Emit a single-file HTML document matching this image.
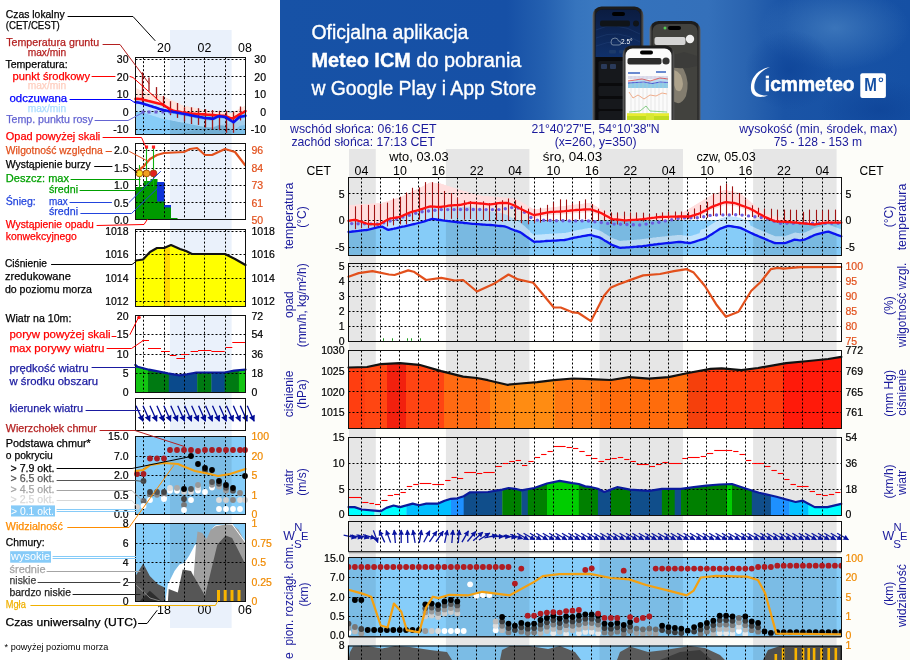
<!DOCTYPE html><html><head><meta charset="utf-8"><style>html,body{margin:0;padding:0;background:#fff;overflow:hidden}svg{display:block;will-change:transform}</style></head><body>
<svg width="910" height="660" viewBox="0 0 910 660" font-family='"Liberation Sans", sans-serif'>
<rect x="0.00" y="0.00" width="910.00" height="660.00" fill="#ffffff" />
<rect x="280.00" y="120.00" width="630.00" height="540.00" fill="#fdfdf9" />
<rect x="349.00" y="149.00" width="26.80" height="511.00" fill="#e6e6e6" />
<rect x="445.90" y="149.00" width="83.50" height="511.00" fill="#e6e6e6" />
<rect x="599.50" y="149.00" width="83.50" height="511.00" fill="#e6e6e6" />
<rect x="753.10" y="149.00" width="83.50" height="511.00" fill="#e6e6e6" />
<rect x="348.50" y="177.50" width="492.80" height="78.00" fill="#ffffff" />
<rect x="349.00" y="177.50" width="26.80" height="78.00" fill="#e6e6e6" />
<rect x="445.90" y="177.50" width="83.50" height="78.00" fill="#e6e6e6" />
<rect x="599.50" y="177.50" width="83.50" height="78.00" fill="#e6e6e6" />
<rect x="753.10" y="177.50" width="83.50" height="78.00" fill="#e6e6e6" />
<rect x="348.50" y="263.50" width="492.80" height="77.80" fill="#ffffff" />
<rect x="349.00" y="263.50" width="26.80" height="77.80" fill="#e6e6e6" />
<rect x="445.90" y="263.50" width="83.50" height="77.80" fill="#e6e6e6" />
<rect x="599.50" y="263.50" width="83.50" height="77.80" fill="#e6e6e6" />
<rect x="753.10" y="263.50" width="83.50" height="77.80" fill="#e6e6e6" />
<rect x="348.50" y="350.50" width="492.80" height="77.80" fill="#ffffff" />
<rect x="349.00" y="350.50" width="26.80" height="77.80" fill="#e6e6e6" />
<rect x="445.90" y="350.50" width="83.50" height="77.80" fill="#e6e6e6" />
<rect x="599.50" y="350.50" width="83.50" height="77.80" fill="#e6e6e6" />
<rect x="753.10" y="350.50" width="83.50" height="77.80" fill="#e6e6e6" />
<rect x="348.50" y="437.50" width="492.80" height="77.70" fill="#ffffff" />
<rect x="349.00" y="437.50" width="26.80" height="77.70" fill="#e6e6e6" />
<rect x="445.90" y="437.50" width="83.50" height="77.70" fill="#e6e6e6" />
<rect x="599.50" y="437.50" width="83.50" height="77.70" fill="#e6e6e6" />
<rect x="753.10" y="437.50" width="83.50" height="77.70" fill="#e6e6e6" />
<rect x="348.50" y="521.50" width="492.80" height="30.00" fill="#ffffff" />
<rect x="349.00" y="521.50" width="26.80" height="30.00" fill="#e6e6e6" />
<rect x="445.90" y="521.50" width="83.50" height="30.00" fill="#e6e6e6" />
<rect x="599.50" y="521.50" width="83.50" height="30.00" fill="#e6e6e6" />
<rect x="753.10" y="521.50" width="83.50" height="30.00" fill="#e6e6e6" />
<clipPath id="cpT"><rect x="348.5" y="177.5" width="492.79999999999995" height="78.0"/></clipPath>
<g clip-path="url(#cpT)">
<polygon points="348.5,205.3 349.5,205.2 350.5,205.2 351.5,205.1 352.5,205.0 353.5,205.0 354.5,204.9 355.5,204.8 356.5,204.8 357.5,204.7 358.5,204.6 359.5,204.5 360.5,204.5 361.5,204.4 362.5,204.3 363.5,204.3 364.5,204.2 365.5,204.1 366.5,204.1 367.5,204.0 368.5,203.9 369.5,203.9 370.5,203.8 371.5,203.7 372.5,203.7 373.5,203.6 374.5,203.5 375.5,203.4 376.5,203.4 377.5,203.3 378.5,203.2 379.5,203.2 380.5,203.1 381.5,203.0 382.5,202.8 383.5,202.5 384.5,202.2 385.5,201.9 386.5,201.6 387.5,201.3 388.5,201.0 389.5,200.7 390.5,200.4 391.5,200.0 392.5,199.7 393.5,199.4 394.5,199.1 395.5,198.8 396.5,198.5 397.5,198.2 398.5,197.9 399.5,197.6 400.5,197.2 401.5,196.7 402.5,196.2 403.5,195.8 404.5,195.3 405.5,194.8 406.5,194.3 407.5,193.9 408.5,193.4 409.5,192.9 410.5,192.5 411.5,192.0 412.5,191.5 413.5,191.1 414.5,190.6 415.5,190.1 416.5,189.6 417.5,189.2 418.5,188.7 419.5,188.2 420.5,187.7 421.5,187.2 422.5,186.6 423.5,186.1 424.5,185.5 425.5,185.0 426.5,184.4 427.5,183.9 428.5,183.3 429.5,182.8 430.5,182.5 431.5,182.6 432.5,182.7 433.5,182.8 434.5,182.9 435.5,183.0 436.5,183.1 437.5,183.2 438.5,183.3 439.5,183.4 440.5,183.6 441.5,183.9 442.5,184.2 443.5,184.6 444.5,184.9 445.5,185.2 446.5,185.5 447.5,185.9 448.5,186.2 449.5,186.5 450.5,186.9 451.5,187.2 452.5,187.5 453.5,187.9 454.5,188.2 455.5,188.5 456.5,188.8 457.5,189.2 458.5,189.5 459.5,189.8 460.5,190.1 461.5,190.4 462.5,190.7 463.5,191.0 464.5,191.3 465.5,191.5 466.5,191.8 467.5,192.1 468.5,192.4 469.5,192.7 470.5,192.9 471.5,193.2 472.5,193.5 473.5,193.8 474.5,194.1 475.5,194.3 476.5,194.6 477.5,194.9 478.5,195.2 479.5,195.5 480.5,195.6 481.5,195.7 482.5,195.8 483.5,195.9 484.5,196.0 485.5,196.1 486.5,196.2 487.5,196.3 488.5,196.4 489.5,196.5 490.5,196.5 491.5,196.6 492.5,196.7 493.5,196.8 494.5,196.9 495.5,197.0 496.5,197.1 497.5,197.2 498.5,197.3 499.5,197.4 500.5,197.4 501.5,197.5 502.5,197.6 503.5,197.6 504.5,197.7 505.5,197.8 506.5,197.8 507.5,197.9 508.5,198.0 509.5,198.0 510.5,198.1 511.5,198.2 512.5,198.2 513.5,198.3 514.5,198.4 515.5,198.7 516.5,199.3 517.5,199.9 518.5,200.5 519.5,201.1 520.5,201.6 521.5,202.2 522.5,202.8 523.5,203.4 524.5,204.0 525.5,204.6 526.5,205.2 527.5,205.8 528.5,206.4 529.5,206.9 530.5,207.5 531.5,208.1 532.5,208.7 533.5,209.3 534.5,209.5 535.5,209.4 536.5,209.3 537.5,209.2 538.5,209.1 539.5,209.0 540.5,208.8 541.5,208.7 542.5,208.6 543.5,208.5 544.5,208.4 545.5,208.2 546.5,208.1 547.5,208.0 548.5,207.9 549.5,207.8 550.5,207.7 551.5,207.5 552.5,207.4 553.5,207.3 554.5,207.2 555.5,207.1 556.5,206.9 557.5,206.8 558.5,206.7 559.5,206.6 560.5,206.5 561.5,206.4 562.5,206.2 563.5,206.1 564.5,206.0 565.5,205.9 566.5,205.8 567.5,205.7 568.5,205.5 569.5,205.4 570.5,205.3 571.5,205.2 572.5,205.1 573.5,204.9 574.5,204.8 575.5,204.7 576.5,204.6 577.5,204.5 578.5,204.4 579.5,204.2 580.5,204.1 581.5,204.0 582.5,203.9 583.5,203.8 584.5,203.6 585.5,203.5 586.5,203.4 587.5,203.3 588.5,203.2 589.5,203.1 590.5,203.3 591.5,203.8 592.5,204.4 593.5,204.9 594.5,205.5 595.5,206.1 596.5,206.6 597.5,207.2 598.5,207.7 599.5,208.3 600.5,208.8 601.5,209.4 602.5,209.9 603.5,210.5 604.5,211.0 605.5,211.6 606.5,212.1 607.5,212.7 608.5,213.3 609.5,213.8 610.5,214.4 611.5,214.9 612.5,215.2 613.5,215.3 614.5,215.4 615.5,215.4 616.5,215.5 617.5,215.6 618.5,215.6 619.5,215.7 620.5,215.7 621.5,215.8 622.5,215.9 623.5,215.9 624.5,216.0 625.5,216.1 626.5,216.1 627.5,216.2 628.5,216.3 629.5,216.3 630.5,216.4 631.5,216.5 632.5,216.5 633.5,216.6 634.5,216.6 635.5,216.7 636.5,216.8 637.5,216.8 638.5,216.9 639.5,217.0 640.5,217.0 641.5,216.9 642.5,216.8 643.5,216.8 644.5,216.7 645.5,216.6 646.5,216.6 647.5,216.5 648.5,216.4 649.5,216.4 650.5,216.3 651.5,216.2 652.5,216.2 653.5,216.1 654.5,216.0 655.5,216.0 656.5,215.9 657.5,215.8 658.5,215.8 659.5,215.7 660.5,215.6 661.5,215.5 662.5,215.5 663.5,215.4 664.5,215.3 665.5,215.3 666.5,215.2 667.5,215.1 668.5,215.1 669.5,215.0 670.5,214.9 671.5,214.9 672.5,214.8 673.5,214.7 674.5,214.7 675.5,214.6 676.5,214.5 677.5,214.5 678.5,214.4 679.5,214.3 680.5,214.0 681.5,213.4 682.5,212.8 683.5,212.2 684.5,211.6 685.5,211.0 686.5,210.4 687.5,209.8 688.5,209.2 689.5,208.6 690.5,208.0 691.5,207.4 692.5,206.8 693.5,206.2 694.5,205.6 695.5,205.0 696.5,204.3 697.5,203.7 698.5,203.1 699.5,202.5 700.5,201.9 701.5,201.3 702.5,200.7 703.5,200.1 704.5,199.5 705.5,198.9 706.5,198.3 707.5,197.7 708.5,197.1 709.5,196.5 710.5,195.9 711.5,195.3 712.5,194.8 713.5,194.4 714.5,194.0 715.5,193.7 716.5,193.3 717.5,192.9 718.5,192.5 719.5,192.1 720.5,191.7 721.5,191.3 722.5,191.0 723.5,190.6 724.5,190.2 725.5,190.1 726.5,190.3 727.5,190.5 728.5,190.7 729.5,190.9 730.5,191.1 731.5,191.3 732.5,191.5 733.5,191.7 734.5,191.9 735.5,192.1 736.5,192.3 737.5,192.5 738.5,192.7 739.5,192.9 740.5,193.4 741.5,194.3 742.5,195.1 743.5,195.9 744.5,196.8 745.5,197.6 746.5,198.5 747.5,199.3 748.5,200.1 749.5,201.0 750.5,201.8 751.5,202.7 752.5,203.5 753.5,204.3 754.5,205.2 755.5,206.0 756.5,206.9 757.5,207.7 758.5,208.5 759.5,209.4 760.5,210.2 761.5,211.1 762.5,211.9 763.5,212.7 764.5,213.6 765.5,214.1 766.5,214.4 767.5,214.6 768.5,214.8 769.5,215.1 770.5,215.3 771.5,215.6 772.5,215.8 773.5,216.0 774.5,216.3 775.5,216.5 776.5,216.8 777.5,217.0 778.5,217.2 779.5,217.5 780.5,217.7 781.5,218.0 782.5,218.2 783.5,218.4 784.5,218.7 785.5,218.9 786.5,219.2 787.5,219.4 788.5,219.6 789.5,219.9 790.5,220.0 791.5,220.0 792.5,220.0 793.5,220.0 794.5,220.0 795.5,220.0 796.5,220.0 797.5,220.0 798.5,220.0 799.5,220.0 800.5,220.0 801.5,220.0 802.5,220.0 803.5,220.0 804.5,220.0 805.5,220.0 806.5,220.0 807.5,220.0 808.5,220.0 809.5,220.0 810.5,220.0 811.5,220.0 812.5,220.0 813.5,220.0 814.5,220.0 815.5,220.0 816.5,220.0 817.5,220.0 818.5,220.0 819.5,220.0 820.5,220.0 821.5,220.0 822.5,220.0 823.5,220.0 824.5,220.0 825.5,220.0 826.5,220.0 827.5,220.0 828.5,220.0 829.5,220.0 830.5,220.0 831.5,220.0 832.5,220.0 833.5,220.0 834.5,220.0 835.5,220.0 836.5,220.0 837.5,220.0 838.5,220.0 839.5,220.0 840.5,220.0 841.3,220.0 841.3,225.7 840.5,225.7 839.5,225.7 838.5,225.7 837.5,225.7 836.5,225.7 835.5,225.7 834.5,225.7 833.5,225.7 832.5,225.7 831.5,225.7 830.5,225.7 829.5,225.7 828.5,225.7 827.5,225.7 826.5,225.7 825.5,225.7 824.5,225.8 823.5,226.0 822.5,226.1 821.5,226.3 820.5,226.5 819.5,226.7 818.5,226.9 817.5,227.1 816.5,227.2 815.5,227.4 814.5,227.5 813.5,227.4 812.5,227.3 811.5,227.2 810.5,227.1 809.5,227.0 808.5,226.9 807.5,226.8 806.5,226.7 805.5,226.6 804.5,226.5 803.5,226.4 802.5,226.3 801.5,226.2 800.5,226.1 799.5,226.0 798.5,225.9 797.5,225.8 796.5,225.7 795.5,225.6 794.5,225.5 793.5,225.4 792.5,225.3 791.5,225.2 790.5,225.1 789.5,225.1 788.5,225.0 787.5,225.0 786.5,224.9 785.5,224.9 784.5,224.8 783.5,224.8 782.5,224.7 781.5,224.6 780.5,224.6 779.5,224.5 778.5,224.5 777.5,224.4 776.5,224.4 775.5,224.3 774.5,224.1 773.5,223.7 772.5,223.2 771.5,222.8 770.5,222.4 769.5,221.9 768.5,221.5 767.5,221.1 766.5,220.6 765.5,220.2 764.5,219.7 763.5,219.2 762.5,218.6 761.5,218.0 760.5,217.5 759.5,216.9 758.5,216.4 757.5,215.8 756.5,215.2 755.5,214.7 754.5,214.1 753.5,213.6 752.5,213.0 751.5,212.4 750.5,211.9 749.5,211.4 748.5,211.0 747.5,210.7 746.5,210.3 745.5,209.9 744.5,209.5 743.5,209.2 742.5,208.8 741.5,208.4 740.5,208.1 739.5,207.7 738.5,207.3 737.5,206.9 736.5,206.6 735.5,206.2 734.5,206.0 733.5,205.9 732.5,205.8 731.5,205.7 730.5,205.6 729.5,205.5 728.5,205.4 727.5,205.3 726.5,205.2 725.5,205.1 724.5,205.3 723.5,205.6 722.5,206.0 721.5,206.4 720.5,206.7 719.5,207.1 718.5,207.4 717.5,207.8 716.5,208.2 715.5,208.5 714.5,208.9 713.5,209.3 712.5,209.6 711.5,210.1 710.5,210.6 709.5,211.2 708.5,211.7 707.5,212.2 706.5,212.8 705.5,213.3 704.5,213.9 703.5,214.4 702.5,214.9 701.5,215.5 700.5,216.0 699.5,216.5 698.5,216.8 697.5,217.1 696.5,217.4 695.5,217.7 694.5,218.1 693.5,218.4 692.5,218.7 691.5,219.0 690.5,219.3 689.5,219.5 688.5,219.5 687.5,219.5 686.5,219.5 685.5,219.5 684.5,219.5 683.5,219.5 682.5,219.5 681.5,219.5 680.5,219.5 679.5,219.5 678.5,219.5 677.5,219.6 676.5,219.6 675.5,219.6 674.5,219.6 673.5,219.7 672.5,219.7 671.5,219.7 670.5,219.7 669.5,219.8 668.5,219.8 667.5,219.8 666.5,219.8 665.5,219.9 664.5,219.9 663.5,219.9 662.5,219.9 661.5,220.0 660.5,220.0 659.5,220.1 658.5,220.2 657.5,220.3 656.5,220.4 655.5,220.6 654.5,220.7 653.5,220.8 652.5,220.9 651.5,221.1 650.5,221.2 649.5,221.3 648.5,221.4 647.5,221.6 646.5,221.7 645.5,221.8 644.5,221.9 643.5,222.1 642.5,222.2 641.5,222.3 640.5,222.4 639.5,222.5 638.5,222.6 637.5,222.7 636.5,222.7 635.5,222.8 634.5,222.8 633.5,222.9 632.5,222.9 631.5,223.0 630.5,223.1 629.5,223.1 628.5,223.2 627.5,223.2 626.5,223.3 625.5,223.4 624.5,223.3 623.5,223.2 622.5,223.1 621.5,223.0 620.5,222.9 619.5,222.8 618.5,222.7 617.5,222.6 616.5,222.5 615.5,222.4 614.5,222.3 613.5,222.2 612.5,222.1 611.5,221.7 610.5,221.2 609.5,220.6 608.5,220.1 607.5,219.5 606.5,219.0 605.5,218.4 604.5,217.9 603.5,217.3 602.5,216.8 601.5,216.2 600.5,215.7 599.5,215.2 598.5,214.9 597.5,214.6 596.5,214.3 595.5,214.0 594.5,213.6 593.5,213.3 592.5,213.0 591.5,212.7 590.5,212.4 589.5,212.2 588.5,212.3 587.5,212.3 586.5,212.4 585.5,212.5 584.5,212.5 583.5,212.6 582.5,212.6 581.5,212.7 580.5,212.8 579.5,212.8 578.5,212.9 577.5,212.9 576.5,213.0 575.5,213.1 574.5,213.2 573.5,213.2 572.5,213.3 571.5,213.4 570.5,213.5 569.5,213.7 568.5,213.8 567.5,213.8 566.5,213.9 565.5,214.0 564.5,214.2 563.5,214.2 562.5,214.3 561.5,214.4 560.5,214.5 559.5,214.6 558.5,214.7 557.5,214.7 556.5,214.7 555.5,214.8 554.5,214.8 553.5,214.9 552.5,214.9 551.5,214.9 550.5,215.0 549.5,215.1 548.5,215.3 547.5,215.5 546.5,215.7 545.5,215.9 544.5,216.1 543.5,216.3 542.5,216.5 541.5,216.7 540.5,216.9 539.5,217.1 538.5,217.3 537.5,217.5 536.5,217.7 535.5,217.9 534.5,218.1 533.5,218.0 532.5,217.5 531.5,217.0 530.5,216.5 529.5,216.1 528.5,215.6 527.5,215.1 526.5,214.7 525.5,214.2 524.5,213.7 523.5,213.2 522.5,212.8 521.5,212.3 520.5,211.8 519.5,211.3 518.5,210.8 517.5,210.2 516.5,209.6 515.5,209.1 514.5,208.6 513.5,208.2 512.5,207.8 511.5,207.4 510.5,207.0 509.5,206.6 508.5,206.2 507.5,206.0 506.5,206.0 505.5,206.0 504.5,206.0 503.5,206.0 502.5,206.0 501.5,206.0 500.5,206.0 499.5,206.1 498.5,206.2 497.5,206.4 496.5,206.5 495.5,206.7 494.5,206.8 493.5,207.0 492.5,207.1 491.5,207.3 490.5,207.4 489.5,207.4 488.5,207.3 487.5,207.2 486.5,207.1 485.5,207.0 484.5,206.9 483.5,206.8 482.5,206.7 481.5,206.6 480.5,206.5 479.5,206.4 478.5,206.3 477.5,206.2 476.5,206.2 475.5,206.1 474.5,206.0 473.5,205.9 472.5,205.9 471.5,205.8 470.5,205.7 469.5,205.8 468.5,206.0 467.5,206.2 466.5,206.5 465.5,206.7 464.5,206.9 463.5,207.1 462.5,207.3 461.5,207.6 460.5,207.8 459.5,207.9 458.5,208.0 457.5,208.1 456.5,208.1 455.5,208.2 454.5,208.2 453.5,208.3 452.5,208.3 451.5,208.4 450.5,208.5 449.5,208.6 448.5,208.7 447.5,208.9 446.5,209.1 445.5,209.2 444.5,209.4 443.5,209.5 442.5,209.7 441.5,209.9 440.5,210.0 439.5,210.1 438.5,210.0 437.5,209.9 436.5,209.9 435.5,209.8 434.5,209.7 433.5,209.6 432.5,209.6 431.5,209.5 430.5,209.4 429.5,209.6 428.5,209.9 427.5,210.2 426.5,210.5 425.5,210.8 424.5,211.2 423.5,211.5 422.5,211.8 421.5,212.1 420.5,212.4 419.5,212.7 418.5,213.0 417.5,213.3 416.5,213.6 415.5,213.9 414.5,214.1 413.5,214.4 412.5,214.7 411.5,215.0 410.5,215.3 409.5,215.6 408.5,216.1 407.5,216.6 406.5,217.0 405.5,217.5 404.5,217.9 403.5,218.4 402.5,218.8 401.5,219.3 400.5,219.8 399.5,220.1 398.5,220.2 397.5,220.3 396.5,220.5 395.5,220.6 394.5,220.8 393.5,220.9 392.5,221.1 391.5,221.2 390.5,221.3 389.5,221.7 388.5,222.2 387.5,222.8 386.5,223.3 385.5,223.9 384.5,224.4 383.5,225.0 382.5,225.6 381.5,226.1 380.5,226.7 379.5,227.2 378.5,227.5 377.5,227.4 376.5,227.4 375.5,227.3 374.5,227.3 373.5,227.2 372.5,227.2 371.5,227.2 370.5,227.1 369.5,227.1 368.5,227.0 367.5,226.8 366.5,226.5 365.5,226.2 364.5,225.8 363.5,225.5 362.5,225.2 361.5,224.9 360.5,224.5 359.5,224.2 358.5,223.9 357.5,223.5 356.5,223.2 355.5,222.9 354.5,222.9 353.5,223.1 352.5,223.2 351.5,223.4 350.5,223.5 349.5,223.7 348.5,223.8" fill="#ffdede" />
<rect x="348.50" y="220.40" width="492.80" height="35.10" fill="#86ccf8" />
<rect x="349.00" y="220.40" width="26.80" height="35.10" fill="#000" opacity="0.09"/>
<rect x="445.90" y="220.40" width="83.50" height="35.10" fill="#000" opacity="0.09"/>
<rect x="599.50" y="220.40" width="83.50" height="35.10" fill="#000" opacity="0.09"/>
<rect x="753.10" y="220.40" width="83.50" height="35.10" fill="#000" opacity="0.09"/>
<polygon points="348.5,221.3 349.5,221.2 350.5,221.0 351.5,220.9 352.5,220.7 353.5,220.6 354.5,220.4 355.5,220.4 356.5,220.7 357.5,221.0 358.5,221.4 359.5,221.7 360.5,222.0 361.5,222.4 362.5,222.7 363.5,223.0 364.5,223.3 365.5,223.7 366.5,224.0 367.5,224.3 368.5,224.5 369.5,224.6 370.5,224.6 371.5,224.7 372.5,224.7 373.5,224.8 374.5,224.8 375.5,224.8 376.5,224.9 377.5,224.9 378.5,225.0 379.5,224.7 380.5,224.2 381.5,223.6 382.5,223.1 383.5,222.5 384.5,221.9 385.5,221.4 386.5,220.8 387.5,220.3 388.5,219.7 389.5,219.2 390.5,218.8 391.5,218.7 392.5,218.6 393.5,218.4 394.5,218.3 395.5,218.1 396.5,218.0 397.5,217.8 398.5,217.7 399.5,217.6 400.5,217.3 401.5,216.8 402.5,216.3 403.5,215.9 404.5,215.4 405.5,215.0 406.5,214.5 407.5,214.1 408.5,213.6 409.5,213.1 410.5,212.8 411.5,212.5 412.5,212.2 413.5,211.9 414.5,211.6 415.5,211.4 416.5,211.1 417.5,210.8 418.5,210.5 419.5,210.2 420.5,209.9 421.5,209.6 422.5,209.3 423.5,209.0 424.5,208.7 425.5,208.3 426.5,208.0 427.5,207.7 428.5,207.4 429.5,207.1 430.5,206.9 431.5,207.0 432.5,207.1 433.5,207.1 434.5,207.2 435.5,207.3 436.5,207.4 437.5,207.4 438.5,207.5 439.5,207.6 440.5,207.5 441.5,207.4 442.5,207.2 443.5,207.0 444.5,206.9 445.5,206.8 446.5,206.7 447.5,206.6 448.5,206.5 449.5,206.5 450.5,206.4 451.5,206.5 452.5,206.5 453.5,206.6 454.5,206.6 455.5,206.7 456.5,206.8 457.5,206.8 458.5,206.9 459.5,207.0 460.5,207.0 461.5,206.9 462.5,206.9 463.5,206.9 464.5,206.8 465.5,206.8 466.5,206.8 467.5,206.8 468.5,206.8 469.5,206.8 470.5,207.0 471.5,207.2 472.5,207.4 473.5,207.6 474.5,207.8 475.5,208.0 476.5,208.3 477.5,208.5 478.5,208.7 479.5,208.9 480.5,209.1 481.5,209.4 482.5,209.6 483.5,209.8 484.5,210.1 485.5,210.3 486.5,210.5 487.5,210.8 488.5,211.0 489.5,211.2 490.5,211.4 491.5,211.5 492.5,211.7 493.5,211.8 494.5,212.0 495.5,212.1 496.5,212.3 497.5,212.4 498.5,212.6 499.5,212.8 500.5,213.0 501.5,213.2 502.5,213.4 503.5,213.7 504.5,213.9 505.5,214.3 506.5,214.7 507.5,215.2 508.5,215.8 509.5,216.4 510.5,216.9 511.5,217.5 512.5,218.1 513.5,218.7 514.5,219.3 515.5,219.9 516.5,220.4 517.5,221.0 518.5,221.5 519.5,222.0 520.5,222.7 521.5,223.5 522.5,224.4 523.5,225.3 524.5,226.1 525.5,227.0 526.5,227.9 527.5,228.8 528.5,229.7 529.5,230.6 530.5,232.4 531.5,233.1 532.5,233.8 533.5,234.5 534.5,234.9 535.5,234.8 536.5,234.7 537.5,234.7 538.5,234.6 539.5,234.5 540.5,234.5 541.5,234.4 542.5,234.3 543.5,234.2 544.5,234.2 545.5,234.1 546.5,234.0 547.5,234.0 548.5,233.9 549.5,233.8 550.5,233.8 551.5,233.7 552.5,233.7 553.5,233.6 554.5,233.6 555.5,233.5 556.5,233.5 557.5,233.4 558.5,233.3 559.5,233.3 560.5,233.2 561.5,233.2 562.5,233.1 563.5,233.1 564.5,233.0 565.5,232.9 566.5,232.6 567.5,232.4 568.5,232.2 569.5,231.9 570.5,231.7 571.5,231.4 572.5,231.2 573.5,231.0 574.5,230.7 575.5,230.5 576.5,230.3 577.5,230.1 578.5,229.9 579.5,229.8 580.5,229.6 581.5,229.4 582.5,229.2 583.5,229.0 584.5,228.8 585.5,228.6 586.5,228.5 587.5,228.3 588.5,228.1 589.5,227.9 590.5,227.9 591.5,228.2 592.5,228.5 593.5,228.8 594.5,229.1 595.5,229.3 596.5,229.6 597.5,229.9 598.5,230.2 599.5,230.5 600.5,230.9 601.5,231.5 602.5,232.1 603.5,232.8 604.5,233.4 605.5,234.0 606.5,234.6 607.5,235.2 608.5,235.8 609.5,236.5 610.5,237.1 611.5,237.7 612.5,238.2 613.5,238.5 614.5,238.9 615.5,239.3 616.5,239.6 617.5,240.0 618.5,240.4 619.5,240.7 620.5,240.9 621.5,240.8 622.5,240.7 623.5,240.6 624.5,240.6 625.5,240.5 626.5,240.4 627.5,240.3 628.5,240.3 629.5,240.2 630.5,240.1 631.5,240.0 632.5,240.0 633.5,239.9 634.5,239.8 635.5,239.7 636.5,239.7 637.5,239.6 638.5,239.5 639.5,239.4 640.5,239.3 641.5,239.2 642.5,239.1 643.5,238.9 644.5,238.8 645.5,238.7 646.5,238.6 647.5,238.4 648.5,238.3 649.5,238.2 650.5,238.0 651.5,237.9 652.5,237.8 653.5,237.6 654.5,237.5 655.5,237.4 656.5,237.3 657.5,237.1 658.5,237.0 659.5,236.9 660.5,236.8 661.5,236.7 662.5,236.6 663.5,236.5 664.5,236.4 665.5,236.3 666.5,236.2 667.5,236.1 668.5,236.0 669.5,235.9 670.5,235.8 671.5,235.7 672.5,235.6 673.5,235.5 674.5,235.4 675.5,235.3 676.5,235.2 677.5,235.1 678.5,235.0 679.5,234.9 680.5,235.0 681.5,235.1 682.5,235.2 683.5,235.4 684.5,235.5 685.5,235.6 686.5,235.7 687.5,235.9 688.5,236.0 689.5,236.1 690.5,236.0 691.5,235.7 692.5,235.4 693.5,235.1 694.5,234.8 695.5,234.5 696.5,234.2 697.5,233.8 698.5,233.5 699.5,233.2 700.5,229.9 701.5,229.6 702.5,229.3 703.5,229.0 704.5,228.7 705.5,228.2 706.5,227.5 707.5,226.9 708.5,226.2 709.5,225.6 710.5,224.9 711.5,224.3 712.5,223.7 713.5,223.0 714.5,222.4 715.5,221.7 716.5,221.1 717.5,220.4 718.5,219.8 719.5,219.1 720.5,218.6 721.5,218.2 722.5,217.9 723.5,217.5 724.5,217.1 725.5,216.7 726.5,216.4 727.5,216.0 728.5,215.9 729.5,216.0 730.5,216.2 731.5,216.4 732.5,216.5 733.5,216.7 734.5,216.8 735.5,217.0 736.5,217.1 737.5,217.3 738.5,217.5 739.5,217.6 740.5,217.9 741.5,218.4 742.5,218.9 743.5,219.4 744.5,219.8 745.5,220.3 746.5,220.8 747.5,221.2 748.5,221.7 749.5,222.2 750.5,225.7 751.5,226.1 752.5,226.6 753.5,227.1 754.5,227.6 755.5,228.0 756.5,228.4 757.5,228.9 758.5,229.3 759.5,229.7 760.5,230.1 761.5,230.5 762.5,230.9 763.5,231.4 764.5,231.8 765.5,232.2 766.5,232.6 767.5,233.1 768.5,233.5 769.5,233.9 770.5,234.3 771.5,234.7 772.5,235.1 773.5,235.6 774.5,236.0 775.5,236.2 776.5,236.2 777.5,236.2 778.5,236.2 779.5,236.2 780.5,236.2 781.5,236.2 782.5,236.2 783.5,236.2 784.5,236.2 785.5,236.0 786.5,235.6 787.5,235.3 788.5,234.9 789.5,234.5 790.5,234.2 791.5,233.8 792.5,233.4 793.5,233.1 794.5,232.7 795.5,232.6 796.5,232.8 797.5,232.9 798.5,233.1 799.5,233.3 800.5,233.3 801.5,233.1 802.5,232.9 803.5,232.8 804.5,232.6 805.5,232.3 806.5,231.8 807.5,231.3 808.5,230.9 809.5,230.4 810.5,229.9 811.5,229.4 812.5,229.0 813.5,228.5 814.5,228.0 815.5,227.7 816.5,227.4 817.5,227.2 818.5,226.9 819.5,226.7 820.5,226.4 821.5,226.2 822.5,225.9 823.5,225.6 824.5,225.4 825.5,225.1 826.5,224.9 827.5,224.6 828.5,224.7 829.5,225.0 830.5,225.4 831.5,225.8 832.5,226.1 833.5,226.5 834.5,226.8 835.5,227.2 836.5,227.6 837.5,227.9 838.5,228.3 839.5,228.7 840.5,229.0 841.3,229.3 841.3,236.3 840.5,236.0 839.5,235.7 838.5,235.3 837.5,234.9 836.5,234.6 835.5,234.2 834.5,233.8 833.5,233.5 832.5,233.1 831.5,232.8 830.5,232.4 829.5,232.0 828.5,231.7 827.5,231.6 826.5,231.9 825.5,232.1 824.5,232.4 823.5,232.6 822.5,232.9 821.5,233.2 820.5,233.4 819.5,233.7 818.5,233.9 817.5,234.2 816.5,234.4 815.5,234.7 814.5,235.0 813.5,235.5 812.5,236.0 811.5,236.4 810.5,236.9 809.5,237.4 808.5,237.9 807.5,238.3 806.5,238.8 805.5,239.3 804.5,239.6 803.5,239.8 802.5,239.9 801.5,240.1 800.5,240.3 799.5,240.3 798.5,240.1 797.5,239.9 796.5,239.8 795.5,239.6 794.5,239.7 793.5,240.1 792.5,240.4 791.5,240.8 790.5,241.2 789.5,241.5 788.5,241.9 787.5,242.3 786.5,242.6 785.5,243.0 784.5,243.2 783.5,243.2 782.5,243.2 781.5,243.2 780.5,243.2 779.5,243.2 778.5,243.2 777.5,243.2 776.5,243.2 775.5,243.2 774.5,243.0 773.5,242.6 772.5,242.1 771.5,241.7 770.5,241.3 769.5,240.9 768.5,240.5 767.5,240.1 766.5,239.6 765.5,239.2 764.5,238.8 763.5,238.4 762.5,237.9 761.5,237.5 760.5,237.1 759.5,236.7 758.5,236.3 757.5,235.9 756.5,235.4 755.5,235.0 754.5,234.6 753.5,234.1 752.5,233.6 751.5,233.1 750.5,232.7 749.5,232.2 748.5,231.7 747.5,231.2 746.5,230.8 745.5,230.3 744.5,229.8 743.5,229.4 742.5,228.9 741.5,228.4 740.5,227.9 739.5,227.6 738.5,227.5 737.5,227.3 736.5,227.1 735.5,227.0 734.5,226.8 733.5,226.7 732.5,226.5 731.5,226.4 730.5,226.2 729.5,226.0 728.5,225.9 727.5,226.0 726.5,226.4 725.5,226.7 724.5,227.1 723.5,227.5 722.5,227.9 721.5,228.2 720.5,228.6 719.5,229.1 718.5,229.8 717.5,230.4 716.5,231.1 715.5,231.7 714.5,232.4 713.5,233.0 712.5,233.7 711.5,234.3 710.5,234.9 709.5,235.6 708.5,236.2 707.5,236.9 706.5,237.5 705.5,238.2 704.5,238.7 703.5,239.0 702.5,239.3 701.5,239.6 700.5,239.9 699.5,240.2 698.5,240.5 697.5,240.8 696.5,241.2 695.5,241.5 694.5,241.8 693.5,242.1 692.5,242.4 691.5,242.7 690.5,243.0 689.5,243.1 688.5,243.0 687.5,242.9 686.5,242.7 685.5,242.6 684.5,242.5 683.5,242.4 682.5,242.2 681.5,242.1 680.5,242.0 679.5,241.9 678.5,242.0 677.5,242.1 676.5,242.2 675.5,242.3 674.5,242.4 673.5,242.5 672.5,242.6 671.5,242.7 670.5,242.8 669.5,242.9 668.5,243.0 667.5,243.1 666.5,243.2 665.5,243.3 664.5,243.4 663.5,243.5 662.5,243.6 661.5,243.7 660.5,243.8 659.5,243.9 658.5,244.0 657.5,244.1 656.5,244.3 655.5,244.4 654.5,244.5 653.5,244.6 652.5,244.8 651.5,244.9 650.5,245.0 649.5,245.2 648.5,245.3 647.5,245.4 646.5,245.6 645.5,245.7 644.5,245.8 643.5,245.9 642.5,246.1 641.5,246.2 640.5,246.3 639.5,246.4 638.5,246.5 637.5,246.6 636.5,246.7 635.5,246.7 634.5,246.8 633.5,246.9 632.5,247.0 631.5,247.0 630.5,247.1 629.5,247.2 628.5,247.3 627.5,247.3 626.5,247.4 625.5,247.5 624.5,247.6 623.5,247.6 622.5,247.7 621.5,247.8 620.5,247.9 619.5,247.7 618.5,247.4 617.5,247.0 616.5,246.6 615.5,246.3 614.5,245.9 613.5,245.5 612.5,245.2 611.5,244.7 610.5,244.1 609.5,243.5 608.5,242.8 607.5,242.2 606.5,241.6 605.5,241.0 604.5,240.4 603.5,239.8 602.5,239.1 601.5,238.5 600.5,237.9 599.5,237.5 598.5,237.2 597.5,236.9 596.5,236.6 595.5,236.3 594.5,236.1 593.5,235.8 592.5,235.5 591.5,235.2 590.5,234.9 589.5,234.9 588.5,235.1 587.5,235.3 586.5,235.5 585.5,235.6 584.5,235.8 583.5,236.0 582.5,236.2 581.5,236.4 580.5,236.6 579.5,236.8 578.5,236.9 577.5,237.1 576.5,237.3 575.5,237.5 574.5,237.7 573.5,238.0 572.5,238.2 571.5,238.4 570.5,238.7 569.5,238.9 568.5,239.2 567.5,239.4 566.5,239.6 565.5,239.9 564.5,240.0 563.5,240.1 562.5,240.1 561.5,240.2 560.5,240.2 559.5,240.3 558.5,240.3 557.5,240.4 556.5,240.5 555.5,240.5 554.5,240.6 553.5,240.6 552.5,240.7 551.5,240.7 550.5,240.8 549.5,240.8 548.5,240.9 547.5,241.0 546.5,241.0 545.5,241.1 544.5,241.2 543.5,241.2 542.5,241.3 541.5,241.4 540.5,241.5 539.5,241.5 538.5,241.6 537.5,241.7 536.5,241.7 535.5,241.8 534.5,241.9 533.5,241.5 532.5,240.8 531.5,240.1 530.5,239.4 529.5,238.7 528.5,238.0 527.5,237.3 526.5,236.6 525.5,235.9 524.5,235.2 523.5,234.5 522.5,233.8 521.5,233.1 520.5,232.4 519.5,231.8 518.5,231.6 517.5,231.2 516.5,230.9 515.5,230.7 514.5,230.3 513.5,229.9 512.5,229.5 511.5,229.1 510.5,228.7 509.5,228.2 508.5,227.8 507.5,227.4 506.5,227.0 505.5,226.6 504.5,226.4 503.5,226.3 502.5,226.2 501.5,226.1 500.5,226.0 499.5,225.9 498.5,225.8 497.5,225.7 496.5,225.6 495.5,225.5 494.5,225.4 493.5,225.3 492.5,225.2 491.5,225.1 490.5,225.0 489.5,225.0 488.5,224.9 487.5,224.8 486.5,224.8 485.5,224.7 484.5,224.6 483.5,224.5 482.5,224.5 481.5,224.4 480.5,224.3 479.5,224.3 478.5,224.2 477.5,224.1 476.5,224.1 475.5,224.0 474.5,223.9 473.5,223.8 472.5,223.8 471.5,223.7 470.5,223.6 469.5,223.5 468.5,223.4 467.5,223.3 466.5,223.2 465.5,223.1 464.5,223.0 463.5,222.9 462.5,222.7 461.5,222.6 460.5,222.5 459.5,222.4 458.5,222.3 457.5,222.2 456.5,222.0 455.5,221.9 454.5,221.8 453.5,221.7 452.5,221.6 451.5,221.5 450.5,221.4 449.5,221.2 448.5,221.1 447.5,221.0 446.5,220.8 445.5,220.7 444.5,220.6 443.5,220.4 442.5,220.3 441.5,220.2 440.5,220.0 439.5,219.9 438.5,219.8 437.5,219.6 436.5,219.5 435.5,219.4 434.5,219.2 433.5,219.1 432.5,219.0 431.5,219.1 430.5,219.4 429.5,219.7 428.5,220.0 427.5,220.3 426.5,220.6 425.5,221.0 424.5,221.3 423.5,221.6 422.5,221.9 421.5,222.2 420.5,222.5 419.5,222.8 418.5,223.0 417.5,223.3 416.5,223.5 415.5,223.7 414.5,224.0 413.5,224.2 412.5,224.4 411.5,224.7 410.5,224.9 409.5,225.1 408.5,225.3 407.5,225.6 406.5,225.8 405.5,226.0 404.5,226.3 403.5,226.5 402.5,226.7 401.5,227.0 400.5,227.2 399.5,227.4 398.5,227.6 397.5,227.9 396.5,228.1 395.5,228.3 394.5,228.5 393.5,228.8 392.5,229.0 391.5,229.2 390.5,229.4 389.5,229.7 388.5,229.9 387.5,229.7 386.5,229.1 385.5,228.5 384.5,227.9 383.5,227.3 382.5,226.7 381.5,226.5 380.5,226.8 379.5,227.0 378.5,227.2 377.5,227.5 376.5,227.7 375.5,228.0 374.5,228.2 373.5,228.5 372.5,228.7 371.5,229.0 370.5,229.2 369.5,229.4 368.5,229.7 367.5,229.9 366.5,230.0 365.5,230.1 364.5,230.2 363.5,230.3 362.5,230.4 361.5,230.5 360.5,230.6 359.5,230.8 358.5,230.9 357.5,231.0 356.5,231.1 355.5,231.2 354.5,231.3 353.5,231.4 352.5,231.5 351.5,231.7 350.5,231.8 349.5,231.9 348.5,232.0" fill="#c2e4fd" />
<clipPath id="cpNB"><polygon points="348.5,221.3 350.5,221.0 352.5,220.7 354.5,220.4 356.5,220.7 358.5,221.4 360.5,222.0 362.5,222.7 364.5,223.3 366.5,224.0 368.5,224.5 370.5,224.6 372.5,224.7 374.5,224.8 376.5,224.9 378.5,225.0 380.5,224.2 382.5,223.1 384.5,221.9 386.5,220.8 388.5,219.7 390.5,218.8 392.5,218.6 394.5,218.3 396.5,218.0 398.5,217.7 400.5,217.3 402.5,216.3 404.5,215.4 406.5,214.5 408.5,213.6 410.5,212.8 412.5,212.2 414.5,211.6 416.5,211.1 418.5,210.5 420.5,209.9 422.5,209.3 424.5,208.7 426.5,208.0 428.5,207.4 430.5,206.9 432.5,207.1 434.5,207.2 436.5,207.4 438.5,207.5 440.5,207.5 442.5,207.2 444.5,206.9 446.5,206.7 448.5,206.5 450.5,206.4 452.5,206.5 454.5,206.6 456.5,206.8 458.5,206.9 460.5,207.0 462.5,206.9 464.5,206.8 466.5,206.8 468.5,206.8 470.5,207.0 472.5,207.4 474.5,207.8 476.5,208.3 478.5,208.7 480.5,209.1 482.5,209.6 484.5,210.1 486.5,210.5 488.5,211.0 490.5,211.4 492.5,211.7 494.5,212.0 496.5,212.3 498.5,212.6 500.5,213.0 502.5,213.4 504.5,213.9 506.5,214.7 508.5,215.8 510.5,216.9 512.5,218.1 514.5,219.3 516.5,220.4 518.5,221.5 520.5,222.7 522.5,224.4 524.5,226.1 526.5,227.9 528.5,229.7 530.5,232.4 532.5,233.8 534.5,234.9 536.5,234.7 538.5,234.6 540.5,234.5 542.5,234.3 544.5,234.2 546.5,234.0 548.5,233.9 550.5,233.8 552.5,233.7 554.5,233.6 556.5,233.5 558.5,233.3 560.5,233.2 562.5,233.1 564.5,233.0 566.5,232.6 568.5,232.2 570.5,231.7 572.5,231.2 574.5,230.7 576.5,230.3 578.5,229.9 580.5,229.6 582.5,229.2 584.5,228.8 586.5,228.5 588.5,228.1 590.5,227.9 592.5,228.5 594.5,229.1 596.5,229.6 598.5,230.2 600.5,230.9 602.5,232.1 604.5,233.4 606.5,234.6 608.5,235.8 610.5,237.1 612.5,238.2 614.5,238.9 616.5,239.6 618.5,240.4 620.5,240.9 622.5,240.7 624.5,240.6 626.5,240.4 628.5,240.3 630.5,240.1 632.5,240.0 634.5,239.8 636.5,239.7 638.5,239.5 640.5,239.3 642.5,239.1 644.5,238.8 646.5,238.6 648.5,238.3 650.5,238.0 652.5,237.8 654.5,237.5 656.5,237.3 658.5,237.0 660.5,236.8 662.5,236.6 664.5,236.4 666.5,236.2 668.5,236.0 670.5,235.8 672.5,235.6 674.5,235.4 676.5,235.2 678.5,235.0 680.5,235.0 682.5,235.2 684.5,235.5 686.5,235.7 688.5,236.0 690.5,236.0 692.5,235.4 694.5,234.8 696.5,234.2 698.5,233.5 700.5,229.9 702.5,229.3 704.5,228.7 706.5,227.5 708.5,226.2 710.5,224.9 712.5,223.7 714.5,222.4 716.5,221.1 718.5,219.8 720.5,218.6 722.5,217.9 724.5,217.1 726.5,216.4 728.5,215.9 730.5,216.2 732.5,216.5 734.5,216.8 736.5,217.1 738.5,217.5 740.5,217.9 742.5,218.9 744.5,219.8 746.5,220.8 748.5,221.7 750.5,225.7 752.5,226.6 754.5,227.6 756.5,228.4 758.5,229.3 760.5,230.1 762.5,230.9 764.5,231.8 766.5,232.6 768.5,233.5 770.5,234.3 772.5,235.1 774.5,236.0 776.5,236.2 778.5,236.2 780.5,236.2 782.5,236.2 784.5,236.2 786.5,235.6 788.5,234.9 790.5,234.2 792.5,233.4 794.5,232.7 796.5,232.8 798.5,233.1 800.5,233.3 802.5,232.9 804.5,232.6 806.5,231.8 808.5,230.9 810.5,229.9 812.5,229.0 814.5,228.0 816.5,227.4 818.5,226.9 820.5,226.4 822.5,225.9 824.5,225.4 826.5,224.9 828.5,224.7 830.5,225.4 832.5,226.1 834.5,226.8 836.5,227.6 838.5,228.3 840.5,229.0 840.5,236.0 838.5,235.3 836.5,234.6 834.5,233.8 832.5,233.1 830.5,232.4 828.5,231.7 826.5,231.9 824.5,232.4 822.5,232.9 820.5,233.4 818.5,233.9 816.5,234.4 814.5,235.0 812.5,236.0 810.5,236.9 808.5,237.9 806.5,238.8 804.5,239.6 802.5,239.9 800.5,240.3 798.5,240.1 796.5,239.8 794.5,239.7 792.5,240.4 790.5,241.2 788.5,241.9 786.5,242.6 784.5,243.2 782.5,243.2 780.5,243.2 778.5,243.2 776.5,243.2 774.5,243.0 772.5,242.1 770.5,241.3 768.5,240.5 766.5,239.6 764.5,238.8 762.5,237.9 760.5,237.1 758.5,236.3 756.5,235.4 754.5,234.6 752.5,233.6 750.5,232.7 748.5,231.7 746.5,230.8 744.5,229.8 742.5,228.9 740.5,227.9 738.5,227.5 736.5,227.1 734.5,226.8 732.5,226.5 730.5,226.2 728.5,225.9 726.5,226.4 724.5,227.1 722.5,227.9 720.5,228.6 718.5,229.8 716.5,231.1 714.5,232.4 712.5,233.7 710.5,234.9 708.5,236.2 706.5,237.5 704.5,238.7 702.5,239.3 700.5,239.9 698.5,240.5 696.5,241.2 694.5,241.8 692.5,242.4 690.5,243.0 688.5,243.0 686.5,242.7 684.5,242.5 682.5,242.2 680.5,242.0 678.5,242.0 676.5,242.2 674.5,242.4 672.5,242.6 670.5,242.8 668.5,243.0 666.5,243.2 664.5,243.4 662.5,243.6 660.5,243.8 658.5,244.0 656.5,244.3 654.5,244.5 652.5,244.8 650.5,245.0 648.5,245.3 646.5,245.6 644.5,245.8 642.5,246.1 640.5,246.3 638.5,246.5 636.5,246.7 634.5,246.8 632.5,247.0 630.5,247.1 628.5,247.3 626.5,247.4 624.5,247.6 622.5,247.7 620.5,247.9 618.5,247.4 616.5,246.6 614.5,245.9 612.5,245.2 610.5,244.1 608.5,242.8 606.5,241.6 604.5,240.4 602.5,239.1 600.5,237.9 598.5,237.2 596.5,236.6 594.5,236.1 592.5,235.5 590.5,234.9 588.5,235.1 586.5,235.5 584.5,235.8 582.5,236.2 580.5,236.6 578.5,236.9 576.5,237.3 574.5,237.7 572.5,238.2 570.5,238.7 568.5,239.2 566.5,239.6 564.5,240.0 562.5,240.1 560.5,240.2 558.5,240.3 556.5,240.5 554.5,240.6 552.5,240.7 550.5,240.8 548.5,240.9 546.5,241.0 544.5,241.2 542.5,241.3 540.5,241.5 538.5,241.6 536.5,241.7 534.5,241.9 532.5,240.8 530.5,239.4 528.5,238.0 526.5,236.6 524.5,235.2 522.5,233.8 520.5,232.4 518.5,231.6 516.5,230.9 514.5,230.3 512.5,229.5 510.5,228.7 508.5,227.8 506.5,227.0 504.5,226.4 502.5,226.2 500.5,226.0 498.5,225.8 496.5,225.6 494.5,225.4 492.5,225.2 490.5,225.0 488.5,224.9 486.5,224.8 484.5,224.6 482.5,224.5 480.5,224.3 478.5,224.2 476.5,224.1 474.5,223.9 472.5,223.8 470.5,223.6 468.5,223.4 466.5,223.2 464.5,223.0 462.5,222.7 460.5,222.5 458.5,222.3 456.5,222.0 454.5,221.8 452.5,221.6 450.5,221.4 448.5,221.1 446.5,220.8 444.5,220.6 442.5,220.3 440.5,220.0 438.5,219.8 436.5,219.5 434.5,219.2 432.5,219.0 430.5,219.4 428.5,220.0 426.5,220.6 424.5,221.3 422.5,221.9 420.5,222.5 418.5,223.0 416.5,223.5 414.5,224.0 412.5,224.4 410.5,224.9 408.5,225.3 406.5,225.8 404.5,226.3 402.5,226.7 400.5,227.2 398.5,227.6 396.5,228.1 394.5,228.5 392.5,229.0 390.5,229.4 388.5,229.9 386.5,229.1 384.5,227.9 382.5,226.7 380.5,226.8 378.5,227.2 376.5,227.7 374.5,228.2 372.5,228.7 370.5,229.2 368.5,229.7 366.5,230.0 364.5,230.2 362.5,230.4 360.5,230.6 358.5,230.9 356.5,231.1 354.5,231.3 352.5,231.5 350.5,231.8 348.5,232.0"/></clipPath>
<g clip-path="url(#cpNB)">
<rect x="349.00" y="177.50" width="26.80" height="78.00" fill="#000" opacity="0.05"/>
<rect x="445.90" y="177.50" width="83.50" height="78.00" fill="#000" opacity="0.05"/>
<rect x="599.50" y="177.50" width="83.50" height="78.00" fill="#000" opacity="0.05"/>
<rect x="753.10" y="177.50" width="83.50" height="78.00" fill="#000" opacity="0.05"/>
</g>
<polygon points="348.5,205.3 349.5,205.2 350.5,205.2 351.5,205.1 352.5,205.0 353.5,205.0 354.5,204.9 355.5,204.8 356.5,204.8 357.5,204.7 358.5,204.6 359.5,204.5 360.5,204.5 361.5,204.4 362.5,204.3 363.5,204.3 364.5,204.2 365.5,204.1 366.5,204.1 367.5,204.0 368.5,203.9 369.5,203.9 370.5,203.8 371.5,203.7 372.5,203.7 373.5,203.6 374.5,203.5 375.5,203.4 376.5,203.4 377.5,203.3 378.5,203.2 379.5,203.2 380.5,203.1 381.5,203.0 382.5,202.8 383.5,202.5 384.5,202.2 385.5,201.9 386.5,201.6 387.5,201.3 388.5,201.0 389.5,200.7 390.5,200.4 391.5,200.0 392.5,199.7 393.5,199.4 394.5,199.1 395.5,198.8 396.5,198.5 397.5,198.2 398.5,197.9 399.5,197.6 400.5,197.2 401.5,196.7 402.5,196.2 403.5,195.8 404.5,195.3 405.5,194.8 406.5,194.3 407.5,193.9 408.5,193.4 409.5,192.9 410.5,192.5 411.5,192.0 412.5,191.5 413.5,191.1 414.5,190.6 415.5,190.1 416.5,189.6 417.5,189.2 418.5,188.7 419.5,188.2 420.5,187.7 421.5,187.2 422.5,186.6 423.5,186.1 424.5,185.5 425.5,185.0 426.5,184.4 427.5,183.9 428.5,183.3 429.5,182.8 430.5,182.5 431.5,182.6 432.5,182.7 433.5,182.8 434.5,182.9 435.5,183.0 436.5,183.1 437.5,183.2 438.5,183.3 439.5,183.4 440.5,183.6 441.5,183.9 442.5,184.2 443.5,184.6 444.5,184.9 445.5,185.2 446.5,185.5 447.5,185.9 448.5,186.2 449.5,186.5 450.5,186.9 451.5,187.2 452.5,187.5 453.5,187.9 454.5,188.2 455.5,188.5 456.5,188.8 457.5,189.2 458.5,189.5 459.5,189.8 460.5,190.1 461.5,190.4 462.5,190.7 463.5,191.0 464.5,191.3 465.5,191.5 466.5,191.8 467.5,192.1 468.5,192.4 469.5,192.7 470.5,192.9 471.5,193.2 472.5,193.5 473.5,193.8 474.5,194.1 475.5,194.3 476.5,194.6 477.5,194.9 478.5,195.2 479.5,195.5 480.5,195.6 481.5,195.7 482.5,195.8 483.5,195.9 484.5,196.0 485.5,196.1 486.5,196.2 487.5,196.3 488.5,196.4 489.5,196.5 490.5,196.5 491.5,196.6 492.5,196.7 493.5,196.8 494.5,196.9 495.5,197.0 496.5,197.1 497.5,197.2 498.5,197.3 499.5,197.4 500.5,197.4 501.5,197.5 502.5,197.6 503.5,197.6 504.5,197.7 505.5,197.8 506.5,197.8 507.5,197.9 508.5,198.0 509.5,198.0 510.5,198.1 511.5,198.2 512.5,198.2 513.5,198.3 514.5,198.4 515.5,198.7 516.5,199.3 517.5,199.9 518.5,200.5 519.5,201.1 520.5,201.6 521.5,202.2 522.5,202.8 523.5,203.4 524.5,204.0 525.5,204.6 526.5,205.2 527.5,205.8 528.5,206.4 529.5,206.9 530.5,207.5 531.5,208.1 532.5,208.7 533.5,209.3 534.5,209.5 535.5,209.4 536.5,209.3 537.5,209.2 538.5,209.1 539.5,209.0 540.5,208.8 541.5,208.7 542.5,208.6 543.5,208.5 544.5,208.4 545.5,208.2 546.5,208.1 547.5,208.0 548.5,207.9 549.5,207.8 550.5,207.7 551.5,207.5 552.5,207.4 553.5,207.3 554.5,207.2 555.5,207.1 556.5,206.9 557.5,206.8 558.5,206.7 559.5,206.6 560.5,206.5 561.5,206.4 562.5,206.2 563.5,206.1 564.5,206.0 565.5,205.9 566.5,205.8 567.5,205.7 568.5,205.5 569.5,205.4 570.5,205.3 571.5,205.2 572.5,205.1 573.5,204.9 574.5,204.8 575.5,204.7 576.5,204.6 577.5,204.5 578.5,204.4 579.5,204.2 580.5,204.1 581.5,204.0 582.5,203.9 583.5,203.8 584.5,203.6 585.5,203.5 586.5,203.4 587.5,203.3 588.5,203.2 589.5,203.1 590.5,203.3 591.5,203.8 592.5,204.4 593.5,204.9 594.5,205.5 595.5,206.1 596.5,206.6 597.5,207.2 598.5,207.7 599.5,208.3 600.5,208.8 601.5,209.4 602.5,209.9 603.5,210.5 604.5,211.0 605.5,211.6 606.5,212.1 607.5,212.7 608.5,213.3 609.5,213.8 610.5,214.4 611.5,214.9 612.5,215.2 613.5,215.3 614.5,215.4 615.5,215.4 616.5,215.5 617.5,215.6 618.5,215.6 619.5,215.7 620.5,215.7 621.5,215.8 622.5,215.9 623.5,215.9 624.5,216.0 625.5,216.1 626.5,216.1 627.5,216.2 628.5,216.3 629.5,216.3 630.5,216.4 631.5,216.5 632.5,216.5 633.5,216.6 634.5,216.6 635.5,216.7 636.5,216.8 637.5,216.8 638.5,216.9 639.5,217.0 640.5,217.0 641.5,216.9 642.5,216.8 643.5,216.8 644.5,216.7 645.5,216.6 646.5,216.6 647.5,216.5 648.5,216.4 649.5,216.4 650.5,216.3 651.5,216.2 652.5,216.2 653.5,216.1 654.5,216.0 655.5,216.0 656.5,215.9 657.5,215.8 658.5,215.8 659.5,215.7 660.5,215.6 661.5,215.5 662.5,215.5 663.5,215.4 664.5,215.3 665.5,215.3 666.5,215.2 667.5,215.1 668.5,215.1 669.5,215.0 670.5,214.9 671.5,214.9 672.5,214.8 673.5,214.7 674.5,214.7 675.5,214.6 676.5,214.5 677.5,214.5 678.5,214.4 679.5,214.3 680.5,214.0 681.5,213.4 682.5,212.8 683.5,212.2 684.5,211.6 685.5,211.0 686.5,210.4 687.5,209.8 688.5,209.2 689.5,208.6 690.5,208.0 691.5,207.4 692.5,206.8 693.5,206.2 694.5,205.6 695.5,205.0 696.5,204.3 697.5,203.7 698.5,203.1 699.5,202.5 700.5,201.9 701.5,201.3 702.5,200.7 703.5,200.1 704.5,199.5 705.5,198.9 706.5,198.3 707.5,197.7 708.5,197.1 709.5,196.5 710.5,195.9 711.5,195.3 712.5,194.8 713.5,194.4 714.5,194.0 715.5,193.7 716.5,193.3 717.5,192.9 718.5,192.5 719.5,192.1 720.5,191.7 721.5,191.3 722.5,191.0 723.5,190.6 724.5,190.2 725.5,190.1 726.5,190.3 727.5,190.5 728.5,190.7 729.5,190.9 730.5,191.1 731.5,191.3 732.5,191.5 733.5,191.7 734.5,191.9 735.5,192.1 736.5,192.3 737.5,192.5 738.5,192.7 739.5,192.9 740.5,193.4 741.5,194.3 742.5,195.1 743.5,195.9 744.5,196.8 745.5,197.6 746.5,198.5 747.5,199.3 748.5,200.1 749.5,201.0 750.5,201.8 751.5,202.7 752.5,203.5 753.5,204.3 754.5,205.2 755.5,206.0 756.5,206.9 757.5,207.7 758.5,208.5 759.5,209.4 760.5,210.2 761.5,211.1 762.5,211.9 763.5,212.7 764.5,213.6 765.5,214.1 766.5,214.4 767.5,214.6 768.5,214.8 769.5,215.1 770.5,215.3 771.5,215.6 772.5,215.8 773.5,216.0 774.5,216.3 775.5,216.5 776.5,216.8 777.5,217.0 778.5,217.2 779.5,217.5 780.5,217.7 781.5,218.0 782.5,218.2 783.5,218.4 784.5,218.7 785.5,218.9 786.5,219.2 787.5,219.4 788.5,219.6 789.5,219.9 790.5,220.0 791.5,220.0 792.5,220.0 793.5,220.0 794.5,220.0 795.5,220.0 796.5,220.0 797.5,220.0 798.5,220.0 799.5,220.0 800.5,220.0 801.5,220.0 802.5,220.0 803.5,220.0 804.5,220.0 805.5,220.0 806.5,220.0 807.5,220.0 808.5,220.0 809.5,220.0 810.5,220.0 811.5,220.0 812.5,220.0 813.5,220.0 814.5,220.0 815.5,220.0 816.5,220.0 817.5,220.0 818.5,220.0 819.5,220.0 820.5,220.0 821.5,220.0 822.5,220.0 823.5,220.0 824.5,220.0 825.5,220.0 826.5,220.0 827.5,220.0 828.5,220.0 829.5,220.0 830.5,220.0 831.5,220.0 832.5,220.0 833.5,220.0 834.5,220.0 835.5,220.0 836.5,220.0 837.5,220.0 838.5,220.0 839.5,220.0 840.5,220.0 841.3,220.0 841.3,222.7 840.5,222.7 839.5,222.7 838.5,222.7 837.5,222.7 836.5,222.7 835.5,222.7 834.5,222.7 833.5,222.7 832.5,222.7 831.5,222.7 830.5,222.7 829.5,222.7 828.5,222.7 827.5,222.7 826.5,222.7 825.5,222.7 824.5,222.8 823.5,223.0 822.5,223.1 821.5,223.3 820.5,223.5 819.5,223.7 818.5,223.9 817.5,224.1 816.5,224.2 815.5,224.4 814.5,224.5 813.5,224.4 812.5,224.3 811.5,224.2 810.5,224.1 809.5,224.0 808.5,223.9 807.5,223.8 806.5,223.7 805.5,223.6 804.5,223.5 803.5,223.4 802.5,223.3 801.5,223.2 800.5,223.1 799.5,223.0 798.5,222.9 797.5,222.8 796.5,222.7 795.5,222.6 794.5,222.5 793.5,222.4 792.5,222.3 791.5,222.2 790.5,222.1 789.5,222.1 788.5,222.0 787.5,222.0 786.5,221.9 785.5,221.9 784.5,221.8 783.5,221.8 782.5,221.7 781.5,221.6 780.5,221.6 779.5,221.5 778.5,221.5 777.5,221.4 776.5,221.4 775.5,221.3 774.5,221.1 773.5,220.7 772.5,220.2 771.5,219.8 770.5,219.4 769.5,218.9 768.5,218.5 767.5,218.1 766.5,217.6 765.5,217.2 764.5,216.7 763.5,216.2 762.5,215.6 761.5,215.0 760.5,214.5 759.5,213.9 758.5,213.4 757.5,212.8 756.5,212.2 755.5,211.7 754.5,211.1 753.5,210.6 752.5,210.0 751.5,209.4 750.5,208.9 749.5,208.4 748.5,208.0 747.5,207.7 746.5,207.3 745.5,206.9 744.5,206.5 743.5,206.2 742.5,205.8 741.5,205.4 740.5,205.1 739.5,204.7 738.5,204.3 737.5,203.9 736.5,203.6 735.5,203.2 734.5,203.0 733.5,202.9 732.5,202.8 731.5,202.7 730.5,202.6 729.5,202.5 728.5,202.4 727.5,202.3 726.5,202.2 725.5,202.1 724.5,202.3 723.5,202.6 722.5,203.0 721.5,203.4 720.5,203.7 719.5,204.1 718.5,204.4 717.5,204.8 716.5,205.2 715.5,205.5 714.5,205.9 713.5,206.3 712.5,206.6 711.5,207.1 710.5,207.6 709.5,208.2 708.5,208.7 707.5,209.2 706.5,209.8 705.5,210.3 704.5,210.9 703.5,211.4 702.5,211.9 701.5,212.5 700.5,213.0 699.5,213.5 698.5,213.8 697.5,214.1 696.5,214.4 695.5,214.7 694.5,215.1 693.5,215.4 692.5,215.7 691.5,216.0 690.5,216.3 689.5,216.5 688.5,216.5 687.5,216.5 686.5,216.5 685.5,216.5 684.5,216.5 683.5,216.5 682.5,216.5 681.5,216.5 680.5,216.5 679.5,216.5 678.5,216.5 677.5,216.6 676.5,216.6 675.5,216.6 674.5,216.6 673.5,216.7 672.5,216.7 671.5,216.7 670.5,216.7 669.5,216.8 668.5,216.8 667.5,216.8 666.5,216.8 665.5,216.9 664.5,216.9 663.5,216.9 662.5,216.9 661.5,217.0 660.5,217.0 659.5,217.1 658.5,217.2 657.5,217.3 656.5,217.4 655.5,217.6 654.5,217.7 653.5,217.8 652.5,217.9 651.5,218.1 650.5,218.2 649.5,218.3 648.5,218.4 647.5,218.6 646.5,218.7 645.5,218.8 644.5,218.9 643.5,219.1 642.5,219.2 641.5,219.3 640.5,219.4 639.5,219.5 638.5,219.6 637.5,219.7 636.5,219.7 635.5,219.8 634.5,219.8 633.5,219.9 632.5,219.9 631.5,220.0 630.5,220.1 629.5,220.1 628.5,220.2 627.5,220.2 626.5,220.3 625.5,220.4 624.5,220.3 623.5,220.2 622.5,220.1 621.5,220.0 620.5,219.9 619.5,219.8 618.5,219.7 617.5,219.6 616.5,219.5 615.5,219.4 614.5,219.3 613.5,219.2 612.5,219.1 611.5,218.7 610.5,218.2 609.5,217.6 608.5,217.1 607.5,216.5 606.5,216.0 605.5,215.4 604.5,214.9 603.5,214.3 602.5,213.8 601.5,213.2 600.5,212.7 599.5,212.2 598.5,211.9 597.5,211.6 596.5,211.3 595.5,211.0 594.5,210.6 593.5,210.3 592.5,210.0 591.5,209.7 590.5,209.4 589.5,209.2 588.5,209.3 587.5,209.3 586.5,209.4 585.5,209.5 584.5,209.5 583.5,209.6 582.5,209.6 581.5,209.7 580.5,209.8 579.5,209.8 578.5,209.9 577.5,209.9 576.5,210.0 575.5,210.1 574.5,210.2 573.5,210.2 572.5,210.3 571.5,210.4 570.5,210.5 569.5,210.7 568.5,210.8 567.5,210.8 566.5,210.9 565.5,211.0 564.5,211.2 563.5,211.2 562.5,211.3 561.5,211.4 560.5,211.5 559.5,211.6 558.5,211.7 557.5,211.7 556.5,211.7 555.5,211.8 554.5,211.8 553.5,211.9 552.5,211.9 551.5,211.9 550.5,212.0 549.5,212.1 548.5,212.3 547.5,212.5 546.5,212.7 545.5,212.9 544.5,213.1 543.5,213.3 542.5,213.5 541.5,213.7 540.5,213.9 539.5,214.1 538.5,214.3 537.5,214.5 536.5,214.7 535.5,214.9 534.5,215.1 533.5,215.0 532.5,214.5 531.5,214.0 530.5,213.5 529.5,213.1 528.5,212.6 527.5,212.1 526.5,211.7 525.5,211.2 524.5,210.7 523.5,210.2 522.5,209.8 521.5,209.3 520.5,208.8 519.5,208.3 518.5,207.8 517.5,207.2 516.5,206.6 515.5,206.1 514.5,205.6 513.5,205.2 512.5,204.8 511.5,204.4 510.5,204.0 509.5,203.6 508.5,203.2 507.5,203.0 506.5,203.0 505.5,203.0 504.5,203.0 503.5,203.0 502.5,203.0 501.5,203.0 500.5,203.0 499.5,203.1 498.5,203.2 497.5,203.4 496.5,203.5 495.5,203.7 494.5,203.8 493.5,204.0 492.5,204.1 491.5,204.3 490.5,204.4 489.5,204.4 488.5,204.3 487.5,204.2 486.5,204.1 485.5,204.0 484.5,203.9 483.5,203.8 482.5,203.7 481.5,203.6 480.5,203.5 479.5,203.4 478.5,203.3 477.5,203.2 476.5,203.2 475.5,203.1 474.5,203.0 473.5,202.9 472.5,202.9 471.5,202.8 470.5,202.7 469.5,202.8 468.5,203.0 467.5,203.2 466.5,203.5 465.5,203.7 464.5,203.9 463.5,204.1 462.5,204.3 461.5,204.6 460.5,204.8 459.5,204.9 458.5,205.0 457.5,205.1 456.5,205.1 455.5,205.2 454.5,205.2 453.5,205.3 452.5,205.3 451.5,205.4 450.5,205.5 449.5,205.6 448.5,205.7 447.5,205.9 446.5,206.1 445.5,206.2 444.5,206.4 443.5,206.5 442.5,206.7 441.5,206.9 440.5,207.0 439.5,207.1 438.5,207.0 437.5,206.9 436.5,206.9 435.5,206.8 434.5,206.7 433.5,206.6 432.5,206.6 431.5,206.5 430.5,206.4 429.5,206.6 428.5,206.9 427.5,207.2 426.5,207.5 425.5,207.8 424.5,208.2 423.5,208.5 422.5,208.8 421.5,209.1 420.5,209.4 419.5,209.7 418.5,210.0 417.5,210.3 416.5,210.6 415.5,210.9 414.5,211.1 413.5,211.4 412.5,211.7 411.5,212.0 410.5,212.3 409.5,212.6 408.5,213.1 407.5,213.6 406.5,214.0 405.5,214.5 404.5,214.9 403.5,215.4 402.5,215.8 401.5,216.3 400.5,216.8 399.5,217.1 398.5,217.2 397.5,217.3 396.5,217.5 395.5,217.6 394.5,217.8 393.5,217.9 392.5,218.1 391.5,218.2 390.5,218.3 389.5,218.7 388.5,219.2 387.5,219.8 386.5,220.3 385.5,220.9 384.5,221.4 383.5,222.0 382.5,222.6 381.5,223.1 380.5,223.7 379.5,224.2 378.5,224.5 377.5,224.4 376.5,224.4 375.5,224.3 374.5,224.3 373.5,224.2 372.5,224.2 371.5,224.2 370.5,224.1 369.5,224.1 368.5,224.0 367.5,223.8 366.5,223.5 365.5,223.2 364.5,222.8 363.5,222.5 362.5,222.2 361.5,221.9 360.5,221.5 359.5,221.2 358.5,220.9 357.5,220.5 356.5,220.2 355.5,219.9 354.5,219.9 353.5,220.1 352.5,220.2 351.5,220.4 350.5,220.5 349.5,220.7 348.5,220.8" fill="#ffdede" />
</g>
<line x1="361.50" y1="177.50" x2="361.50" y2="255.50" stroke="#000" stroke-width="1" stroke-dasharray="2,2"/>
<line x1="380.50" y1="177.50" x2="380.50" y2="255.50" stroke="#000" stroke-width="1" stroke-dasharray="2,2"/>
<line x1="399.50" y1="177.50" x2="399.50" y2="255.50" stroke="#000" stroke-width="1" stroke-dasharray="2,2"/>
<line x1="418.50" y1="177.50" x2="418.50" y2="255.50" stroke="#000" stroke-width="1" stroke-dasharray="2,2"/>
<line x1="438.50" y1="177.50" x2="438.50" y2="255.50" stroke="#000" stroke-width="1" stroke-dasharray="2,2"/>
<line x1="457.50" y1="177.50" x2="457.50" y2="255.50" stroke="#000" stroke-width="1" stroke-dasharray="2,2"/>
<line x1="476.50" y1="177.50" x2="476.50" y2="255.50" stroke="#000" stroke-width="1" stroke-dasharray="2,2"/>
<line x1="495.50" y1="177.50" x2="495.50" y2="255.50" stroke="#000" stroke-width="1" stroke-dasharray="2,2"/>
<line x1="514.50" y1="177.50" x2="514.50" y2="255.50" stroke="#000" stroke-width="1" stroke-dasharray="2,2"/>
<line x1="534.50" y1="177.50" x2="534.50" y2="255.50" stroke="#000" stroke-width="1" stroke-dasharray="2,2"/>
<line x1="553.50" y1="177.50" x2="553.50" y2="255.50" stroke="#000" stroke-width="1" stroke-dasharray="2,2"/>
<line x1="572.50" y1="177.50" x2="572.50" y2="255.50" stroke="#000" stroke-width="1" stroke-dasharray="2,2"/>
<line x1="591.50" y1="177.50" x2="591.50" y2="255.50" stroke="#000" stroke-width="1" stroke-dasharray="2,2"/>
<line x1="610.50" y1="177.50" x2="610.50" y2="255.50" stroke="#000" stroke-width="1" stroke-dasharray="2,2"/>
<line x1="630.50" y1="177.50" x2="630.50" y2="255.50" stroke="#000" stroke-width="1" stroke-dasharray="2,2"/>
<line x1="649.50" y1="177.50" x2="649.50" y2="255.50" stroke="#000" stroke-width="1" stroke-dasharray="2,2"/>
<line x1="668.50" y1="177.50" x2="668.50" y2="255.50" stroke="#000" stroke-width="1" stroke-dasharray="2,2"/>
<line x1="687.50" y1="177.50" x2="687.50" y2="255.50" stroke="#000" stroke-width="1" stroke-dasharray="2,2"/>
<line x1="706.50" y1="177.50" x2="706.50" y2="255.50" stroke="#000" stroke-width="1" stroke-dasharray="2,2"/>
<line x1="726.50" y1="177.50" x2="726.50" y2="255.50" stroke="#000" stroke-width="1" stroke-dasharray="2,2"/>
<line x1="745.50" y1="177.50" x2="745.50" y2="255.50" stroke="#000" stroke-width="1" stroke-dasharray="2,2"/>
<line x1="764.50" y1="177.50" x2="764.50" y2="255.50" stroke="#000" stroke-width="1" stroke-dasharray="2,2"/>
<line x1="783.50" y1="177.50" x2="783.50" y2="255.50" stroke="#000" stroke-width="1" stroke-dasharray="2,2"/>
<line x1="802.50" y1="177.50" x2="802.50" y2="255.50" stroke="#000" stroke-width="1" stroke-dasharray="2,2"/>
<line x1="822.50" y1="177.50" x2="822.50" y2="255.50" stroke="#000" stroke-width="1" stroke-dasharray="2,2"/>
<line x1="348.50" y1="193.50" x2="841.30" y2="193.50" stroke="#000" stroke-width="1" stroke-dasharray="2,2"/>
<line x1="348.50" y1="220.50" x2="841.30" y2="220.50" stroke="#000" stroke-width="1" stroke-dasharray="2,2"/>
<line x1="348.50" y1="247.50" x2="841.30" y2="247.50" stroke="#000" stroke-width="1" stroke-dasharray="2,2"/>
<line x1="355.50" y1="206.35" x2="355.50" y2="229.16" stroke="#a01414" stroke-width="1.1" />
<line x1="361.50" y1="204.90" x2="361.50" y2="228.20" stroke="#a01414" stroke-width="1.1" />
<line x1="368.50" y1="204.90" x2="368.50" y2="228.20" stroke="#a01414" stroke-width="1.1" />
<line x1="374.50" y1="204.90" x2="374.50" y2="228.20" stroke="#a01414" stroke-width="1.1" />
<line x1="380.50" y1="204.00" x2="380.50" y2="226.40" stroke="#a01414" stroke-width="1.1" />
<line x1="387.50" y1="202.62" x2="387.50" y2="226.40" stroke="#a01414" stroke-width="1.1" />
<line x1="393.50" y1="198.45" x2="393.50" y2="225.41" stroke="#a01414" stroke-width="1.1" />
<line x1="400.50" y1="196.73" x2="400.50" y2="224.50" stroke="#a01414" stroke-width="1.1" />
<line x1="406.50" y1="192.52" x2="406.50" y2="224.39" stroke="#a01414" stroke-width="1.1" />
<line x1="412.50" y1="187.80" x2="412.50" y2="221.36" stroke="#a01414" stroke-width="1.1" />
<line x1="419.50" y1="187.36" x2="419.50" y2="219.60" stroke="#a01414" stroke-width="1.1" />
<line x1="425.50" y1="182.10" x2="425.50" y2="220.41" stroke="#a01414" stroke-width="1.1" />
<line x1="432.50" y1="182.17" x2="432.50" y2="220.29" stroke="#a01414" stroke-width="1.1" />
<line x1="438.50" y1="183.34" x2="438.50" y2="218.28" stroke="#a01414" stroke-width="1.1" />
<line x1="444.50" y1="190.93" x2="444.50" y2="220.77" stroke="#a01414" stroke-width="1.1" />
<line x1="451.50" y1="193.14" x2="451.50" y2="218.82" stroke="#a01414" stroke-width="1.1" />
<line x1="457.50" y1="197.58" x2="457.50" y2="218.11" stroke="#a01414" stroke-width="1.1" />
<line x1="464.50" y1="200.34" x2="464.50" y2="219.67" stroke="#a01414" stroke-width="1.1" />
<line x1="470.50" y1="201.20" x2="470.50" y2="218.99" stroke="#a01414" stroke-width="1.1" />
<line x1="476.50" y1="201.20" x2="476.50" y2="219.77" stroke="#a01414" stroke-width="1.1" />
<line x1="483.50" y1="201.28" x2="483.50" y2="219.84" stroke="#a01414" stroke-width="1.1" />
<line x1="489.50" y1="203.00" x2="489.50" y2="220.79" stroke="#a01414" stroke-width="1.1" />
<line x1="496.50" y1="202.76" x2="496.50" y2="219.96" stroke="#a01414" stroke-width="1.1" />
<line x1="502.50" y1="200.19" x2="502.50" y2="221.70" stroke="#a01414" stroke-width="1.1" />
<line x1="508.50" y1="198.49" x2="508.50" y2="220.85" stroke="#a01414" stroke-width="1.1" />
<line x1="515.50" y1="200.17" x2="515.50" y2="220.80" stroke="#a01414" stroke-width="1.1" />
<line x1="521.50" y1="205.72" x2="521.50" y2="223.17" stroke="#a01414" stroke-width="1.1" />
<line x1="528.50" y1="208.60" x2="528.50" y2="224.29" stroke="#a01414" stroke-width="1.1" />
<line x1="534.50" y1="208.57" x2="534.50" y2="222.70" stroke="#a01414" stroke-width="1.1" />
<line x1="540.50" y1="207.74" x2="540.50" y2="222.70" stroke="#a01414" stroke-width="1.1" />
<line x1="547.50" y1="204.84" x2="547.50" y2="221.68" stroke="#a01414" stroke-width="1.1" />
<line x1="553.50" y1="202.27" x2="553.50" y2="220.86" stroke="#a01414" stroke-width="1.1" />
<line x1="560.50" y1="199.30" x2="560.50" y2="220.20" stroke="#a01414" stroke-width="1.1" />
<line x1="566.50" y1="199.56" x2="566.50" y2="220.24" stroke="#a01414" stroke-width="1.1" />
<line x1="572.50" y1="202.95" x2="572.50" y2="220.79" stroke="#a01414" stroke-width="1.1" />
<line x1="579.50" y1="201.09" x2="579.50" y2="219.50" stroke="#a01414" stroke-width="1.1" />
<line x1="585.50" y1="199.35" x2="585.50" y2="219.50" stroke="#a01414" stroke-width="1.1" />
<line x1="592.50" y1="204.06" x2="592.50" y2="221.53" stroke="#a01414" stroke-width="1.1" />
<line x1="598.50" y1="208.80" x2="598.50" y2="220.80" stroke="#a01414" stroke-width="1.1" />
<line x1="604.50" y1="210.55" x2="604.50" y2="220.88" stroke="#a01414" stroke-width="1.1" />
<line x1="611.50" y1="212.40" x2="611.50" y2="224.05" stroke="#a01414" stroke-width="1.1" />
<line x1="617.50" y1="212.39" x2="617.50" y2="224.49" stroke="#a01414" stroke-width="1.1" />
<line x1="624.50" y1="211.62" x2="624.50" y2="223.83" stroke="#a01414" stroke-width="1.1" />
<line x1="630.50" y1="212.40" x2="630.50" y2="222.70" stroke="#a01414" stroke-width="1.1" />
<line x1="636.50" y1="212.40" x2="636.50" y2="220.85" stroke="#a01414" stroke-width="1.1" />
<line x1="643.50" y1="212.65" x2="643.50" y2="221.58" stroke="#a01414" stroke-width="1.1" />
<line x1="649.50" y1="214.25" x2="649.50" y2="220.75" stroke="#a01414" stroke-width="1.1" />
<line x1="656.50" y1="213.19" x2="656.50" y2="219.92" stroke="#a01414" stroke-width="1.1" />
<line x1="662.50" y1="212.37" x2="662.50" y2="220.73" stroke="#a01414" stroke-width="1.1" />
<line x1="668.50" y1="211.54" x2="668.50" y2="218.98" stroke="#a01414" stroke-width="1.1" />
<line x1="675.50" y1="211.50" x2="675.50" y2="219.80" stroke="#a01414" stroke-width="1.1" />
<line x1="681.50" y1="211.50" x2="681.50" y2="219.80" stroke="#a01414" stroke-width="1.1" />
<line x1="688.50" y1="211.94" x2="688.50" y2="218.90" stroke="#a01414" stroke-width="1.1" />
<line x1="694.50" y1="208.45" x2="694.50" y2="218.86" stroke="#a01414" stroke-width="1.1" />
<line x1="700.50" y1="204.95" x2="700.50" y2="218.01" stroke="#a01414" stroke-width="1.1" />
<line x1="707.50" y1="201.94" x2="707.50" y2="217.78" stroke="#a01414" stroke-width="1.1" />
<line x1="713.50" y1="193.45" x2="713.50" y2="216.07" stroke="#a01414" stroke-width="1.1" />
<line x1="720.50" y1="185.74" x2="720.50" y2="215.20" stroke="#a01414" stroke-width="1.1" />
<line x1="726.50" y1="183.69" x2="726.50" y2="215.20" stroke="#a01414" stroke-width="1.1" />
<line x1="732.50" y1="186.34" x2="732.50" y2="215.20" stroke="#a01414" stroke-width="1.1" />
<line x1="739.50" y1="192.93" x2="739.50" y2="215.20" stroke="#a01414" stroke-width="1.1" />
<line x1="745.50" y1="199.68" x2="745.50" y2="215.32" stroke="#a01414" stroke-width="1.1" />
<line x1="752.50" y1="205.28" x2="752.50" y2="217.00" stroke="#a01414" stroke-width="1.1" />
<line x1="758.50" y1="207.73" x2="758.50" y2="217.05" stroke="#a01414" stroke-width="1.1" />
<line x1="764.50" y1="208.58" x2="764.50" y2="218.85" stroke="#a01414" stroke-width="1.1" />
<line x1="771.50" y1="208.73" x2="771.50" y2="221.04" stroke="#a01414" stroke-width="1.1" />
<line x1="777.50" y1="209.60" x2="777.50" y2="222.70" stroke="#a01414" stroke-width="1.1" />
<line x1="784.50" y1="209.60" x2="784.50" y2="222.79" stroke="#a01414" stroke-width="1.1" />
<line x1="790.50" y1="209.60" x2="790.50" y2="223.20" stroke="#a01414" stroke-width="1.1" />
<line x1="796.50" y1="209.81" x2="796.50" y2="223.20" stroke="#a01414" stroke-width="1.1" />
<line x1="803.50" y1="211.82" x2="803.50" y2="223.47" stroke="#a01414" stroke-width="1.1" />
<line x1="809.50" y1="209.60" x2="809.50" y2="224.50" stroke="#a01414" stroke-width="1.1" />
<line x1="816.50" y1="209.79" x2="816.50" y2="224.39" stroke="#a01414" stroke-width="1.1" />
<line x1="822.50" y1="210.38" x2="822.50" y2="223.83" stroke="#a01414" stroke-width="1.1" />
<line x1="828.50" y1="209.60" x2="828.50" y2="222.70" stroke="#a01414" stroke-width="1.1" />
<line x1="835.50" y1="209.60" x2="835.50" y2="222.70" stroke="#a01414" stroke-width="1.1" />
<circle cx="351.7" cy="223.6" r="1.7" fill="#6e5ee0"/>
<circle cx="358.1" cy="223.7" r="1.7" fill="#6e5ee0"/>
<circle cx="364.5" cy="223.8" r="1.7" fill="#6e5ee0"/>
<circle cx="370.9" cy="223.9" r="1.7" fill="#6e5ee0"/>
<circle cx="377.3" cy="224.0" r="1.7" fill="#6e5ee0"/>
<circle cx="383.7" cy="222.9" r="1.7" fill="#6e5ee0"/>
<circle cx="390.1" cy="221.0" r="1.7" fill="#6e5ee0"/>
<circle cx="396.5" cy="219.1" r="1.7" fill="#6e5ee0"/>
<circle cx="402.9" cy="217.1" r="1.7" fill="#6e5ee0"/>
<circle cx="409.3" cy="215.2" r="1.7" fill="#6e5ee0"/>
<circle cx="415.7" cy="213.3" r="1.7" fill="#6e5ee0"/>
<circle cx="422.1" cy="211.7" r="1.7" fill="#6e5ee0"/>
<circle cx="428.5" cy="211.0" r="1.7" fill="#6e5ee0"/>
<circle cx="434.9" cy="210.2" r="1.7" fill="#6e5ee0"/>
<circle cx="441.3" cy="209.6" r="1.7" fill="#6e5ee0"/>
<circle cx="447.7" cy="209.6" r="1.7" fill="#6e5ee0"/>
<circle cx="454.1" cy="209.6" r="1.7" fill="#6e5ee0"/>
<circle cx="460.5" cy="209.5" r="1.7" fill="#6e5ee0"/>
<circle cx="466.9" cy="209.5" r="1.7" fill="#6e5ee0"/>
<circle cx="473.3" cy="209.5" r="1.7" fill="#6e5ee0"/>
<circle cx="479.7" cy="209.5" r="1.7" fill="#6e5ee0"/>
<circle cx="486.1" cy="209.6" r="1.7" fill="#6e5ee0"/>
<circle cx="492.5" cy="209.6" r="1.7" fill="#6e5ee0"/>
<circle cx="498.9" cy="209.6" r="1.7" fill="#6e5ee0"/>
<circle cx="505.3" cy="208.7" r="1.7" fill="#6e5ee0"/>
<circle cx="511.7" cy="207.6" r="1.7" fill="#6e5ee0"/>
<circle cx="518.1" cy="208.0" r="1.7" fill="#6e5ee0"/>
<circle cx="524.5" cy="212.3" r="1.7" fill="#6e5ee0"/>
<circle cx="530.9" cy="217.5" r="1.7" fill="#6e5ee0"/>
<circle cx="537.3" cy="220.1" r="1.7" fill="#6e5ee0"/>
<circle cx="543.7" cy="220.3" r="1.7" fill="#6e5ee0"/>
<circle cx="550.1" cy="220.5" r="1.7" fill="#6e5ee0"/>
<circle cx="556.5" cy="220.7" r="1.7" fill="#6e5ee0"/>
<circle cx="562.9" cy="220.8" r="1.7" fill="#6e5ee0"/>
<circle cx="569.3" cy="220.9" r="1.7" fill="#6e5ee0"/>
<circle cx="575.7" cy="220.9" r="1.7" fill="#6e5ee0"/>
<circle cx="582.1" cy="220.9" r="1.7" fill="#6e5ee0"/>
<circle cx="588.5" cy="221.0" r="1.7" fill="#6e5ee0"/>
<circle cx="594.9" cy="221.7" r="1.7" fill="#6e5ee0"/>
<circle cx="601.3" cy="222.5" r="1.7" fill="#6e5ee0"/>
<circle cx="607.7" cy="223.4" r="1.7" fill="#6e5ee0"/>
<circle cx="614.1" cy="224.1" r="1.7" fill="#6e5ee0"/>
<circle cx="620.5" cy="224.3" r="1.7" fill="#6e5ee0"/>
<circle cx="626.9" cy="224.5" r="1.7" fill="#6e5ee0"/>
<circle cx="633.3" cy="224.8" r="1.7" fill="#6e5ee0"/>
<circle cx="639.7" cy="225.0" r="1.7" fill="#6e5ee0"/>
<circle cx="646.1" cy="224.1" r="1.7" fill="#6e5ee0"/>
<circle cx="652.5" cy="223.1" r="1.7" fill="#6e5ee0"/>
<circle cx="658.9" cy="222.2" r="1.7" fill="#6e5ee0"/>
<circle cx="665.3" cy="220.9" r="1.7" fill="#6e5ee0"/>
<circle cx="671.7" cy="219.7" r="1.7" fill="#6e5ee0"/>
<circle cx="678.1" cy="218.4" r="1.7" fill="#6e5ee0"/>
<circle cx="684.5" cy="217.9" r="1.7" fill="#6e5ee0"/>
<circle cx="690.9" cy="217.8" r="1.7" fill="#6e5ee0"/>
<circle cx="697.3" cy="217.7" r="1.7" fill="#6e5ee0"/>
<circle cx="703.7" cy="216.8" r="1.7" fill="#6e5ee0"/>
<circle cx="710.1" cy="215.4" r="1.7" fill="#6e5ee0"/>
<circle cx="716.5" cy="215.0" r="1.7" fill="#6e5ee0"/>
<circle cx="722.9" cy="214.9" r="1.7" fill="#6e5ee0"/>
<circle cx="729.3" cy="214.9" r="1.7" fill="#6e5ee0"/>
<circle cx="735.7" cy="214.8" r="1.7" fill="#6e5ee0"/>
<circle cx="742.1" cy="215.1" r="1.7" fill="#6e5ee0"/>
<circle cx="748.5" cy="215.9" r="1.7" fill="#6e5ee0"/>
<circle cx="754.9" cy="216.7" r="1.7" fill="#6e5ee0"/>
<circle cx="761.3" cy="217.5" r="1.7" fill="#6e5ee0"/>
<circle cx="767.7" cy="218.9" r="1.7" fill="#6e5ee0"/>
<circle cx="774.1" cy="221.2" r="1.7" fill="#6e5ee0"/>
<circle cx="780.5" cy="223.2" r="1.7" fill="#6e5ee0"/>
<circle cx="786.9" cy="223.2" r="1.7" fill="#6e5ee0"/>
<circle cx="793.3" cy="223.2" r="1.7" fill="#6e5ee0"/>
<circle cx="799.7" cy="223.2" r="1.7" fill="#6e5ee0"/>
<circle cx="806.1" cy="223.2" r="1.7" fill="#6e5ee0"/>
<circle cx="812.5" cy="223.2" r="1.7" fill="#6e5ee0"/>
<circle cx="818.9" cy="223.2" r="1.7" fill="#6e5ee0"/>
<circle cx="825.3" cy="223.2" r="1.7" fill="#6e5ee0"/>
<circle cx="831.7" cy="223.2" r="1.7" fill="#6e5ee0"/>
<circle cx="838.1" cy="223.2" r="1.7" fill="#6e5ee0"/>
<polyline points="348.5,220.8 350.5,220.5 352.5,220.2 354.5,219.9 356.5,220.2 358.5,220.9 360.5,221.5 362.5,222.2 364.5,222.8 366.5,223.5 368.5,224.0 370.5,224.1 372.5,224.2 374.5,224.3 376.5,224.4 378.5,224.5 380.5,223.7 382.5,222.6 384.5,221.4 386.5,220.3 388.5,219.2 390.5,218.3 392.5,218.1 394.5,217.8 396.5,217.5 398.5,217.2 400.5,216.8 402.5,215.8 404.5,214.9 406.5,214.0 408.5,213.1 410.5,212.3 412.5,211.7 414.5,211.1 416.5,210.6 418.5,210.0 420.5,209.4 422.5,208.8 424.5,208.2 426.5,207.5 428.5,206.9 430.5,206.4 432.5,206.6 434.5,206.7 436.5,206.9 438.5,207.0 440.5,207.0 442.5,206.7 444.5,206.4 446.5,206.1 448.5,205.7 450.5,205.5 452.5,205.3 454.5,205.2 456.5,205.1 458.5,205.0 460.5,204.8 462.5,204.3 464.5,203.9 466.5,203.5 468.5,203.0 470.5,202.7 472.5,202.9 474.5,203.0 476.5,203.2 478.5,203.3 480.5,203.5 482.5,203.7 484.5,203.9 486.5,204.1 488.5,204.3 490.5,204.4 492.5,204.1 494.5,203.8 496.5,203.5 498.5,203.2 500.5,203.0 502.5,203.0 504.5,203.0 506.5,203.0 508.5,203.2 510.5,204.0 512.5,204.8 514.5,205.6 516.5,206.6 518.5,207.8 520.5,208.8 522.5,209.8 524.5,210.7 526.5,211.7 528.5,212.6 530.5,213.5 532.5,214.5 534.5,215.1 536.5,214.7 538.5,214.3 540.5,213.9 542.5,213.5 544.5,213.1 546.5,212.7 548.5,212.3 550.5,212.0 552.5,211.9 554.5,211.8 556.5,211.7 558.5,211.7 560.5,211.5 562.5,211.3 564.5,211.2 566.5,210.9 568.5,210.8 570.5,210.5 572.5,210.3 574.5,210.2 576.5,210.0 578.5,209.9 580.5,209.8 582.5,209.6 584.5,209.5 586.5,209.4 588.5,209.3 590.5,209.4 592.5,210.0 594.5,210.6 596.5,211.3 598.5,211.9 600.5,212.7 602.5,213.8 604.5,214.9 606.5,216.0 608.5,217.1 610.5,218.2 612.5,219.1 614.5,219.3 616.5,219.5 618.5,219.7 620.5,219.9 622.5,220.1 624.5,220.3 626.5,220.3 628.5,220.2 630.5,220.1 632.5,219.9 634.5,219.8 636.5,219.7 638.5,219.6 640.5,219.4 642.5,219.2 644.5,218.9 646.5,218.7 648.5,218.4 650.5,218.2 652.5,217.9 654.5,217.7 656.5,217.4 658.5,217.2 660.5,217.0 662.5,216.9 664.5,216.9 666.5,216.8 668.5,216.8 670.5,216.7 672.5,216.7 674.5,216.6 676.5,216.6 678.5,216.5 680.5,216.5 682.5,216.5 684.5,216.5 686.5,216.5 688.5,216.5 690.5,216.3 692.5,215.7 694.5,215.1 696.5,214.4 698.5,213.8 700.5,213.0 702.5,211.9 704.5,210.9 706.5,209.8 708.5,208.7 710.5,207.6 712.5,206.6 714.5,205.9 716.5,205.2 718.5,204.4 720.5,203.7 722.5,203.0 724.5,202.3 726.5,202.2 728.5,202.4 730.5,202.6 732.5,202.8 734.5,203.0 736.5,203.6 738.5,204.3 740.5,205.1 742.5,205.8 744.5,206.5 746.5,207.3 748.5,208.0 750.5,208.9 752.5,210.0 754.5,211.1 756.5,212.2 758.5,213.4 760.5,214.5 762.5,215.6 764.5,216.7 766.5,217.6 768.5,218.5 770.5,219.4 772.5,220.2 774.5,221.1 776.5,221.4 778.5,221.5 780.5,221.6 782.5,221.7 784.5,221.8 786.5,221.9 788.5,222.0 790.5,222.1 792.5,222.3 794.5,222.5 796.5,222.7 798.5,222.9 800.5,223.1 802.5,223.3 804.5,223.5 806.5,223.7 808.5,223.9 810.5,224.1 812.5,224.3 814.5,224.5 816.5,224.2 818.5,223.9 820.5,223.5 822.5,223.1 824.5,222.8 826.5,222.7 828.5,222.7 830.5,222.7 832.5,222.7 834.5,222.7 836.5,222.7 838.5,222.7 840.5,222.7 841.3,222.7" fill="none" stroke="#ff1010" stroke-width="2.3" stroke-linejoin="round" stroke-linecap="round" />
<polyline points="348.5,232.0 350.5,231.8 352.5,231.5 354.5,231.3 356.5,231.1 358.5,230.9 360.5,230.6 362.5,230.4 364.5,230.2 366.5,230.0 368.5,229.7 370.5,229.2 372.5,228.7 374.5,228.2 376.5,227.7 378.5,227.2 380.5,226.8 382.5,226.7 384.5,227.9 386.5,229.1 388.5,229.9 390.5,229.4 392.5,229.0 394.5,228.5 396.5,228.1 398.5,227.6 400.5,227.2 402.5,226.7 404.5,226.3 406.5,225.8 408.5,225.3 410.5,224.9 412.5,224.4 414.5,224.0 416.5,223.5 418.5,223.0 420.5,222.5 422.5,221.9 424.5,221.3 426.5,220.6 428.5,220.0 430.5,219.4 432.5,219.0 434.5,219.2 436.5,219.5 438.5,219.8 440.5,220.0 442.5,220.3 444.5,220.6 446.5,220.8 448.5,221.1 450.5,221.4 452.5,221.6 454.5,221.8 456.5,222.0 458.5,222.3 460.5,222.5 462.5,222.7 464.5,223.0 466.5,223.2 468.5,223.4 470.5,223.6 472.5,223.8 474.5,223.9 476.5,224.1 478.5,224.2 480.5,224.3 482.5,224.5 484.5,224.6 486.5,224.8 488.5,224.9 490.5,225.0 492.5,225.2 494.5,225.4 496.5,225.6 498.5,225.8 500.5,226.0 502.5,226.2 504.5,226.4 506.5,227.0 508.5,227.8 510.5,228.7 512.5,229.5 514.5,230.3 516.5,230.9 518.5,231.6 520.5,232.4 522.5,233.8 524.5,235.2 526.5,236.6 528.5,238.0 530.5,239.4 532.5,240.8 534.5,241.9 536.5,241.7 538.5,241.6 540.5,241.5 542.5,241.3 544.5,241.2 546.5,241.0 548.5,240.9 550.5,240.8 552.5,240.7 554.5,240.6 556.5,240.5 558.5,240.3 560.5,240.2 562.5,240.1 564.5,240.0 566.5,239.6 568.5,239.2 570.5,238.7 572.5,238.2 574.5,237.7 576.5,237.3 578.5,236.9 580.5,236.6 582.5,236.2 584.5,235.8 586.5,235.5 588.5,235.1 590.5,234.9 592.5,235.5 594.5,236.1 596.5,236.6 598.5,237.2 600.5,237.9 602.5,239.1 604.5,240.4 606.5,241.6 608.5,242.8 610.5,244.1 612.5,245.2 614.5,245.9 616.5,246.6 618.5,247.4 620.5,247.9 622.5,247.7 624.5,247.6 626.5,247.4 628.5,247.3 630.5,247.1 632.5,247.0 634.5,246.8 636.5,246.7 638.5,246.5 640.5,246.3 642.5,246.1 644.5,245.8 646.5,245.6 648.5,245.3 650.5,245.0 652.5,244.8 654.5,244.5 656.5,244.3 658.5,244.0 660.5,243.8 662.5,243.6 664.5,243.4 666.5,243.2 668.5,243.0 670.5,242.8 672.5,242.6 674.5,242.4 676.5,242.2 678.5,242.0 680.5,242.0 682.5,242.2 684.5,242.5 686.5,242.7 688.5,243.0 690.5,243.0 692.5,242.4 694.5,241.8 696.5,241.2 698.5,240.5 700.5,239.9 702.5,239.3 704.5,238.7 706.5,237.5 708.5,236.2 710.5,234.9 712.5,233.7 714.5,232.4 716.5,231.1 718.5,229.8 720.5,228.6 722.5,227.9 724.5,227.1 726.5,226.4 728.5,225.9 730.5,226.2 732.5,226.5 734.5,226.8 736.5,227.1 738.5,227.5 740.5,227.9 742.5,228.9 744.5,229.8 746.5,230.8 748.5,231.7 750.5,232.7 752.5,233.6 754.5,234.6 756.5,235.4 758.5,236.3 760.5,237.1 762.5,237.9 764.5,238.8 766.5,239.6 768.5,240.5 770.5,241.3 772.5,242.1 774.5,243.0 776.5,243.2 778.5,243.2 780.5,243.2 782.5,243.2 784.5,243.2 786.5,242.6 788.5,241.9 790.5,241.2 792.5,240.4 794.5,239.7 796.5,239.8 798.5,240.1 800.5,240.3 802.5,239.9 804.5,239.6 806.5,238.8 808.5,237.9 810.5,236.9 812.5,236.0 814.5,235.0 816.5,234.4 818.5,233.9 820.5,233.4 822.5,232.9 824.5,232.4 826.5,231.9 828.5,231.7 830.5,232.4 832.5,233.1 834.5,233.8 836.5,234.6 838.5,235.3 840.5,236.0 841.3,236.3" fill="none" stroke="#0a14f0" stroke-width="2.3" stroke-linejoin="round" stroke-linecap="round" />
<rect x="348.5" y="177.5" width="493" height="78.0" fill="none" stroke="#111" stroke-width="1"/>
<line x1="361.50" y1="263.50" x2="361.50" y2="341.30" stroke="#000" stroke-width="1" stroke-dasharray="2,2"/>
<line x1="380.50" y1="263.50" x2="380.50" y2="341.30" stroke="#000" stroke-width="1" stroke-dasharray="2,2"/>
<line x1="399.50" y1="263.50" x2="399.50" y2="341.30" stroke="#000" stroke-width="1" stroke-dasharray="2,2"/>
<line x1="418.50" y1="263.50" x2="418.50" y2="341.30" stroke="#000" stroke-width="1" stroke-dasharray="2,2"/>
<line x1="438.50" y1="263.50" x2="438.50" y2="341.30" stroke="#000" stroke-width="1" stroke-dasharray="2,2"/>
<line x1="457.50" y1="263.50" x2="457.50" y2="341.30" stroke="#000" stroke-width="1" stroke-dasharray="2,2"/>
<line x1="476.50" y1="263.50" x2="476.50" y2="341.30" stroke="#000" stroke-width="1" stroke-dasharray="2,2"/>
<line x1="495.50" y1="263.50" x2="495.50" y2="341.30" stroke="#000" stroke-width="1" stroke-dasharray="2,2"/>
<line x1="514.50" y1="263.50" x2="514.50" y2="341.30" stroke="#000" stroke-width="1" stroke-dasharray="2,2"/>
<line x1="534.50" y1="263.50" x2="534.50" y2="341.30" stroke="#000" stroke-width="1" stroke-dasharray="2,2"/>
<line x1="553.50" y1="263.50" x2="553.50" y2="341.30" stroke="#000" stroke-width="1" stroke-dasharray="2,2"/>
<line x1="572.50" y1="263.50" x2="572.50" y2="341.30" stroke="#000" stroke-width="1" stroke-dasharray="2,2"/>
<line x1="591.50" y1="263.50" x2="591.50" y2="341.30" stroke="#000" stroke-width="1" stroke-dasharray="2,2"/>
<line x1="610.50" y1="263.50" x2="610.50" y2="341.30" stroke="#000" stroke-width="1" stroke-dasharray="2,2"/>
<line x1="630.50" y1="263.50" x2="630.50" y2="341.30" stroke="#000" stroke-width="1" stroke-dasharray="2,2"/>
<line x1="649.50" y1="263.50" x2="649.50" y2="341.30" stroke="#000" stroke-width="1" stroke-dasharray="2,2"/>
<line x1="668.50" y1="263.50" x2="668.50" y2="341.30" stroke="#000" stroke-width="1" stroke-dasharray="2,2"/>
<line x1="687.50" y1="263.50" x2="687.50" y2="341.30" stroke="#000" stroke-width="1" stroke-dasharray="2,2"/>
<line x1="706.50" y1="263.50" x2="706.50" y2="341.30" stroke="#000" stroke-width="1" stroke-dasharray="2,2"/>
<line x1="726.50" y1="263.50" x2="726.50" y2="341.30" stroke="#000" stroke-width="1" stroke-dasharray="2,2"/>
<line x1="745.50" y1="263.50" x2="745.50" y2="341.30" stroke="#000" stroke-width="1" stroke-dasharray="2,2"/>
<line x1="764.50" y1="263.50" x2="764.50" y2="341.30" stroke="#000" stroke-width="1" stroke-dasharray="2,2"/>
<line x1="783.50" y1="263.50" x2="783.50" y2="341.30" stroke="#000" stroke-width="1" stroke-dasharray="2,2"/>
<line x1="802.50" y1="263.50" x2="802.50" y2="341.30" stroke="#000" stroke-width="1" stroke-dasharray="2,2"/>
<line x1="822.50" y1="263.50" x2="822.50" y2="341.30" stroke="#000" stroke-width="1" stroke-dasharray="2,2"/>
<line x1="348.50" y1="266.50" x2="841.30" y2="266.50" stroke="#000" stroke-width="1" stroke-dasharray="2,2"/>
<line x1="348.50" y1="281.50" x2="841.30" y2="281.50" stroke="#000" stroke-width="1" stroke-dasharray="2,2"/>
<line x1="348.50" y1="296.50" x2="841.30" y2="296.50" stroke="#000" stroke-width="1" stroke-dasharray="2,2"/>
<line x1="348.50" y1="311.50" x2="841.30" y2="311.50" stroke="#000" stroke-width="1" stroke-dasharray="2,2"/>
<line x1="348.50" y1="326.50" x2="841.30" y2="326.50" stroke="#000" stroke-width="1" stroke-dasharray="2,2"/>
<polyline points="348.5,276.7 358.7,273.1 372.5,271.2 389.0,274.5 394.5,275.0 408.2,270.4 413.7,271.7 426.0,280.0 441.2,277.8 454.9,280.5 463.1,280.0 476.9,291.5 493.4,284.1 508.5,274.5 518.0,279.4 533.2,282.7 553.8,307.5 560.7,307.5 573.0,312.4 578.5,313.0 590.9,321.2 604.0,295.8 611.0,287.4 618.0,284.6 629.2,280.4 643.2,275.4 660.0,274.0 674.0,271.2 686.7,269.2 693.7,272.6 704.9,286.0 716.1,304.2 725.9,316.8 738.5,311.8 751.1,291.0 760.9,281.8 770.7,269.2 777.7,267.8 783.3,268.6 800.1,267.2 841.3,267.0" fill="none" stroke="#e2501c" stroke-width="2.2" stroke-linejoin="round" stroke-linecap="round" />
<line x1="383.50" y1="338.30" x2="383.50" y2="340.80" stroke="#1a9a1a" stroke-width="1" />
<line x1="392.50" y1="338.30" x2="392.50" y2="340.80" stroke="#1a9a1a" stroke-width="1" />
<line x1="407.50" y1="338.30" x2="407.50" y2="340.80" stroke="#1a9a1a" stroke-width="1" />
<line x1="411.50" y1="338.30" x2="411.50" y2="340.80" stroke="#1a9a1a" stroke-width="1" />
<line x1="420.50" y1="338.30" x2="420.50" y2="340.80" stroke="#1a9a1a" stroke-width="1" />
<rect x="348.5" y="263.5" width="493" height="78.0" fill="none" stroke="#111" stroke-width="1"/>
<clipPath id="cpPr"><polygon points="348.5,367.5 367.0,367.0 380.7,364.2 400.0,363.1 419.2,364.8 441.2,371.1 463.1,376.6 476.9,378.0 487.9,380.2 507.1,384.8 520.8,383.5 537.3,382.1 553.8,380.2 573.0,378.5 590.0,379.2 611.0,380.0 629.2,377.2 648.8,378.6 668.5,377.2 688.0,373.0 710.5,368.8 721.7,368.3 741.3,370.2 758.1,368.0 786.1,363.2 808.5,361.0 828.2,359.0 841.3,356.8 841.3,428.3 348.5,428.3"/></clipPath>
<g clip-path="url(#cpPr)">
<rect x="348.50" y="350.50" width="17.00" height="77.80" fill="#ff3e10" />
<rect x="365.00" y="350.50" width="22.50" height="77.80" fill="#ff4612" />
<rect x="387.00" y="350.50" width="19.50" height="77.80" fill="#f2200e" />
<rect x="406.00" y="350.50" width="38.50" height="77.80" fill="#ff4412" />
<rect x="444.00" y="350.50" width="46.50" height="77.80" fill="#ff6a12" />
<rect x="490.00" y="350.50" width="20.50" height="77.80" fill="#ff8412" />
<rect x="510.00" y="350.50" width="45.50" height="77.80" fill="#ff8c12" />
<rect x="555.00" y="350.50" width="45.50" height="77.80" fill="#ff7812" />
<rect x="600.00" y="350.50" width="88.50" height="77.80" fill="#ff6c0c" />
<rect x="688.00" y="350.50" width="18.50" height="77.80" fill="#f5400c" />
<rect x="706.00" y="350.50" width="77.50" height="77.80" fill="#ff3a0c" />
<rect x="783.00" y="350.50" width="59.50" height="77.80" fill="#ff1a0a" />
</g>
<line x1="361.50" y1="350.50" x2="361.50" y2="428.30" stroke="#000" stroke-width="1" stroke-dasharray="2,2"/>
<line x1="380.50" y1="350.50" x2="380.50" y2="428.30" stroke="#000" stroke-width="1" stroke-dasharray="2,2"/>
<line x1="399.50" y1="350.50" x2="399.50" y2="428.30" stroke="#000" stroke-width="1" stroke-dasharray="2,2"/>
<line x1="418.50" y1="350.50" x2="418.50" y2="428.30" stroke="#000" stroke-width="1" stroke-dasharray="2,2"/>
<line x1="438.50" y1="350.50" x2="438.50" y2="428.30" stroke="#000" stroke-width="1" stroke-dasharray="2,2"/>
<line x1="457.50" y1="350.50" x2="457.50" y2="428.30" stroke="#000" stroke-width="1" stroke-dasharray="2,2"/>
<line x1="476.50" y1="350.50" x2="476.50" y2="428.30" stroke="#000" stroke-width="1" stroke-dasharray="2,2"/>
<line x1="495.50" y1="350.50" x2="495.50" y2="428.30" stroke="#000" stroke-width="1" stroke-dasharray="2,2"/>
<line x1="514.50" y1="350.50" x2="514.50" y2="428.30" stroke="#000" stroke-width="1" stroke-dasharray="2,2"/>
<line x1="534.50" y1="350.50" x2="534.50" y2="428.30" stroke="#000" stroke-width="1" stroke-dasharray="2,2"/>
<line x1="553.50" y1="350.50" x2="553.50" y2="428.30" stroke="#000" stroke-width="1" stroke-dasharray="2,2"/>
<line x1="572.50" y1="350.50" x2="572.50" y2="428.30" stroke="#000" stroke-width="1" stroke-dasharray="2,2"/>
<line x1="591.50" y1="350.50" x2="591.50" y2="428.30" stroke="#000" stroke-width="1" stroke-dasharray="2,2"/>
<line x1="610.50" y1="350.50" x2="610.50" y2="428.30" stroke="#000" stroke-width="1" stroke-dasharray="2,2"/>
<line x1="630.50" y1="350.50" x2="630.50" y2="428.30" stroke="#000" stroke-width="1" stroke-dasharray="2,2"/>
<line x1="649.50" y1="350.50" x2="649.50" y2="428.30" stroke="#000" stroke-width="1" stroke-dasharray="2,2"/>
<line x1="668.50" y1="350.50" x2="668.50" y2="428.30" stroke="#000" stroke-width="1" stroke-dasharray="2,2"/>
<line x1="687.50" y1="350.50" x2="687.50" y2="428.30" stroke="#000" stroke-width="1" stroke-dasharray="2,2"/>
<line x1="706.50" y1="350.50" x2="706.50" y2="428.30" stroke="#000" stroke-width="1" stroke-dasharray="2,2"/>
<line x1="726.50" y1="350.50" x2="726.50" y2="428.30" stroke="#000" stroke-width="1" stroke-dasharray="2,2"/>
<line x1="745.50" y1="350.50" x2="745.50" y2="428.30" stroke="#000" stroke-width="1" stroke-dasharray="2,2"/>
<line x1="764.50" y1="350.50" x2="764.50" y2="428.30" stroke="#000" stroke-width="1" stroke-dasharray="2,2"/>
<line x1="783.50" y1="350.50" x2="783.50" y2="428.30" stroke="#000" stroke-width="1" stroke-dasharray="2,2"/>
<line x1="802.50" y1="350.50" x2="802.50" y2="428.30" stroke="#000" stroke-width="1" stroke-dasharray="2,2"/>
<line x1="822.50" y1="350.50" x2="822.50" y2="428.30" stroke="#000" stroke-width="1" stroke-dasharray="2,2"/>
<line x1="348.50" y1="371.50" x2="841.30" y2="371.50" stroke="#000" stroke-width="1" stroke-dasharray="2,2"/>
<line x1="348.50" y1="391.50" x2="841.30" y2="391.50" stroke="#000" stroke-width="1" stroke-dasharray="2,2"/>
<line x1="348.50" y1="412.50" x2="841.30" y2="412.50" stroke="#000" stroke-width="1" stroke-dasharray="2,2"/>
<polyline points="348.5,367.5 367.0,367.0 380.7,364.2 400.0,363.1 419.2,364.8 441.2,371.1 463.1,376.6 476.9,378.0 487.9,380.2 507.1,384.8 520.8,383.5 537.3,382.1 553.8,380.2 573.0,378.5 590.0,379.2 611.0,380.0 629.2,377.2 648.8,378.6 668.5,377.2 688.0,373.0 710.5,368.8 721.7,368.3 741.3,370.2 758.1,368.0 786.1,363.2 808.5,361.0 828.2,359.0 841.3,356.8" fill="none" stroke="#111" stroke-width="2.2" stroke-linejoin="round" stroke-linecap="round" />
<rect x="348.5" y="350.5" width="493" height="78.0" fill="none" stroke="#111" stroke-width="1"/>
<clipPath id="cpW"><polygon points="348.5,507.1 354.6,507.1 361.7,509.5 374.5,510.6 380.9,511.1 386.4,507.9 393.6,505.5 400.0,507.1 412.7,503.6 419.1,505.2 426.3,503.6 438.2,503.6 444.6,500.7 451.0,498.8 457.3,498.3 463.7,496.3 470.1,492.3 488.0,492.0 502.3,489.6 508.7,488.0 515.1,488.8 521.5,490.4 534.2,488.0 547.0,483.5 559.7,480.8 572.4,483.2 578.8,484.0 585.2,486.4 591.6,487.2 597.9,488.8 604.3,492.0 610.7,489.6 617.1,487.2 630.0,489.6 649.2,490.9 661.9,488.8 681.0,488.8 693.8,487.2 706.5,485.6 719.3,484.5 731.9,484.0 746.2,488.8 759.0,492.8 776.5,496.8 795.6,502.0 802.8,500.7 814.7,507.1 827.5,507.1 841.3,503.9 841.3,515.2 348.5,515.2"/></clipPath>
<g clip-path="url(#cpW)">
<rect x="348.50" y="437.50" width="26.30" height="77.70" fill="#00ffff" />
<rect x="374.50" y="437.50" width="6.70" height="77.70" fill="#90f8f8" />
<rect x="380.90" y="437.50" width="25.70" height="77.70" fill="#00ffff" />
<rect x="406.30" y="437.50" width="45.00" height="77.70" fill="#00bfff" />
<rect x="451.00" y="437.50" width="13.00" height="77.70" fill="#1e90ff" />
<rect x="463.70" y="437.50" width="38.90" height="77.70" fill="#104e8b" />
<rect x="502.30" y="437.50" width="19.50" height="77.70" fill="#008000" />
<rect x="521.50" y="437.50" width="6.60" height="77.70" fill="#104e8b" />
<rect x="527.80" y="437.50" width="19.50" height="77.70" fill="#008000" />
<rect x="547.00" y="437.50" width="32.10" height="77.70" fill="#00cd00" />
<rect x="578.80" y="437.50" width="19.40" height="77.70" fill="#008000" />
<rect x="597.90" y="437.50" width="13.30" height="77.70" fill="#104e8b" />
<rect x="610.90" y="437.50" width="19.40" height="77.70" fill="#008000" />
<rect x="630.00" y="437.50" width="32.20" height="77.70" fill="#104e8b" />
<rect x="661.90" y="437.50" width="13.10" height="77.70" fill="#008000" />
<rect x="674.70" y="437.50" width="6.60" height="77.70" fill="#104e8b" />
<rect x="681.00" y="437.50" width="46.30" height="77.70" fill="#008000" />
<rect x="727.00" y="437.50" width="5.30" height="77.70" fill="#00cd00" />
<rect x="732.00" y="437.50" width="20.10" height="77.70" fill="#008000" />
<rect x="751.80" y="437.50" width="19.40" height="77.70" fill="#104e8b" />
<rect x="770.90" y="437.50" width="18.90" height="77.70" fill="#1e90ff" />
<rect x="789.50" y="437.50" width="19.30" height="77.70" fill="#00bfff" />
<rect x="808.50" y="437.50" width="33.80" height="77.70" fill="#00ffff" />
</g>
<line x1="361.50" y1="437.50" x2="361.50" y2="515.20" stroke="#000" stroke-width="1" stroke-dasharray="2,2"/>
<line x1="380.50" y1="437.50" x2="380.50" y2="515.20" stroke="#000" stroke-width="1" stroke-dasharray="2,2"/>
<line x1="399.50" y1="437.50" x2="399.50" y2="515.20" stroke="#000" stroke-width="1" stroke-dasharray="2,2"/>
<line x1="418.50" y1="437.50" x2="418.50" y2="515.20" stroke="#000" stroke-width="1" stroke-dasharray="2,2"/>
<line x1="438.50" y1="437.50" x2="438.50" y2="515.20" stroke="#000" stroke-width="1" stroke-dasharray="2,2"/>
<line x1="457.50" y1="437.50" x2="457.50" y2="515.20" stroke="#000" stroke-width="1" stroke-dasharray="2,2"/>
<line x1="476.50" y1="437.50" x2="476.50" y2="515.20" stroke="#000" stroke-width="1" stroke-dasharray="2,2"/>
<line x1="495.50" y1="437.50" x2="495.50" y2="515.20" stroke="#000" stroke-width="1" stroke-dasharray="2,2"/>
<line x1="514.50" y1="437.50" x2="514.50" y2="515.20" stroke="#000" stroke-width="1" stroke-dasharray="2,2"/>
<line x1="534.50" y1="437.50" x2="534.50" y2="515.20" stroke="#000" stroke-width="1" stroke-dasharray="2,2"/>
<line x1="553.50" y1="437.50" x2="553.50" y2="515.20" stroke="#000" stroke-width="1" stroke-dasharray="2,2"/>
<line x1="572.50" y1="437.50" x2="572.50" y2="515.20" stroke="#000" stroke-width="1" stroke-dasharray="2,2"/>
<line x1="591.50" y1="437.50" x2="591.50" y2="515.20" stroke="#000" stroke-width="1" stroke-dasharray="2,2"/>
<line x1="610.50" y1="437.50" x2="610.50" y2="515.20" stroke="#000" stroke-width="1" stroke-dasharray="2,2"/>
<line x1="630.50" y1="437.50" x2="630.50" y2="515.20" stroke="#000" stroke-width="1" stroke-dasharray="2,2"/>
<line x1="649.50" y1="437.50" x2="649.50" y2="515.20" stroke="#000" stroke-width="1" stroke-dasharray="2,2"/>
<line x1="668.50" y1="437.50" x2="668.50" y2="515.20" stroke="#000" stroke-width="1" stroke-dasharray="2,2"/>
<line x1="687.50" y1="437.50" x2="687.50" y2="515.20" stroke="#000" stroke-width="1" stroke-dasharray="2,2"/>
<line x1="706.50" y1="437.50" x2="706.50" y2="515.20" stroke="#000" stroke-width="1" stroke-dasharray="2,2"/>
<line x1="726.50" y1="437.50" x2="726.50" y2="515.20" stroke="#000" stroke-width="1" stroke-dasharray="2,2"/>
<line x1="745.50" y1="437.50" x2="745.50" y2="515.20" stroke="#000" stroke-width="1" stroke-dasharray="2,2"/>
<line x1="764.50" y1="437.50" x2="764.50" y2="515.20" stroke="#000" stroke-width="1" stroke-dasharray="2,2"/>
<line x1="783.50" y1="437.50" x2="783.50" y2="515.20" stroke="#000" stroke-width="1" stroke-dasharray="2,2"/>
<line x1="802.50" y1="437.50" x2="802.50" y2="515.20" stroke="#000" stroke-width="1" stroke-dasharray="2,2"/>
<line x1="822.50" y1="437.50" x2="822.50" y2="515.20" stroke="#000" stroke-width="1" stroke-dasharray="2,2"/>
<line x1="348.50" y1="463.50" x2="841.30" y2="463.50" stroke="#000" stroke-width="1" stroke-dasharray="2,2"/>
<line x1="348.50" y1="489.50" x2="841.30" y2="489.50" stroke="#000" stroke-width="1" stroke-dasharray="2,2"/>
<polyline points="348.5,507.1 354.6,507.1 361.7,509.5 374.5,510.6 380.9,511.1 386.4,507.9 393.6,505.5 400.0,507.1 412.7,503.6 419.1,505.2 426.3,503.6 438.2,503.6 444.6,500.7 451.0,498.8 457.3,498.3 463.7,496.3 470.1,492.3 488.0,492.0 502.3,489.6 508.7,488.0 515.1,488.8 521.5,490.4 534.2,488.0 547.0,483.5 559.7,480.8 572.4,483.2 578.8,484.0 585.2,486.4 591.6,487.2 597.9,488.8 604.3,492.0 610.7,489.6 617.1,487.2 630.0,489.6 649.2,490.9 661.9,488.8 681.0,488.8 693.8,487.2 706.5,485.6 719.3,484.5 731.9,484.0 746.2,488.8 759.0,492.8 776.5,496.8 795.6,502.0 802.8,500.7 814.7,507.1 827.5,507.1 841.3,503.9" fill="none" stroke="#0a1a9c" stroke-width="2.2" stroke-linejoin="round" stroke-linecap="round" />
<line x1="349.00" y1="497.50" x2="361.20" y2="497.50" stroke="#ff0000" stroke-width="1.1" />
<line x1="362.20" y1="502.50" x2="368.40" y2="502.50" stroke="#ff0000" stroke-width="1.1" />
<line x1="369.40" y1="503.50" x2="374.00" y2="503.50" stroke="#ff0000" stroke-width="1.1" />
<line x1="375.00" y1="504.50" x2="380.40" y2="504.50" stroke="#ff0000" stroke-width="1.1" />
<line x1="381.40" y1="500.50" x2="387.50" y2="500.50" stroke="#ff0000" stroke-width="1.1" />
<line x1="387.70" y1="495.50" x2="393.10" y2="495.50" stroke="#ff0000" stroke-width="1.1" />
<line x1="394.10" y1="494.50" x2="399.50" y2="494.50" stroke="#ff0000" stroke-width="1.1" />
<line x1="400.50" y1="492.50" x2="405.80" y2="492.50" stroke="#ff0000" stroke-width="1.1" />
<line x1="406.80" y1="486.50" x2="412.20" y2="486.50" stroke="#ff0000" stroke-width="1.1" />
<line x1="413.20" y1="484.50" x2="418.60" y2="484.50" stroke="#ff0000" stroke-width="1.1" />
<line x1="419.60" y1="483.50" x2="431.30" y2="483.50" stroke="#ff0000" stroke-width="1.1" />
<line x1="432.30" y1="484.50" x2="444.10" y2="484.50" stroke="#ff0000" stroke-width="1.1" />
<line x1="445.10" y1="480.50" x2="450.50" y2="480.50" stroke="#ff0000" stroke-width="1.1" />
<line x1="451.50" y1="477.50" x2="456.80" y2="477.50" stroke="#ff0000" stroke-width="1.1" />
<line x1="457.80" y1="478.50" x2="463.20" y2="478.50" stroke="#ff0000" stroke-width="1.1" />
<line x1="464.20" y1="472.50" x2="476.00" y2="472.50" stroke="#ff0000" stroke-width="1.1" />
<line x1="477.00" y1="473.50" x2="482.30" y2="473.50" stroke="#ff0000" stroke-width="1.1" />
<line x1="483.30" y1="472.50" x2="494.70" y2="472.50" stroke="#ff0000" stroke-width="1.1" />
<line x1="495.70" y1="466.50" x2="501.80" y2="466.50" stroke="#ff0000" stroke-width="1.1" />
<line x1="502.80" y1="463.50" x2="508.20" y2="463.50" stroke="#ff0000" stroke-width="1.1" />
<line x1="509.20" y1="461.50" x2="514.60" y2="461.50" stroke="#ff0000" stroke-width="1.1" />
<line x1="515.60" y1="460.50" x2="521.00" y2="460.50" stroke="#ff0000" stroke-width="1.1" />
<line x1="522.00" y1="465.50" x2="527.30" y2="465.50" stroke="#ff0000" stroke-width="1.1" />
<line x1="528.30" y1="461.50" x2="533.70" y2="461.50" stroke="#ff0000" stroke-width="1.1" />
<line x1="534.70" y1="457.50" x2="540.10" y2="457.50" stroke="#ff0000" stroke-width="1.1" />
<line x1="541.10" y1="454.50" x2="546.50" y2="454.50" stroke="#ff0000" stroke-width="1.1" />
<line x1="547.50" y1="451.50" x2="552.80" y2="451.50" stroke="#ff0000" stroke-width="1.1" />
<line x1="553.80" y1="446.50" x2="565.60" y2="446.50" stroke="#ff0000" stroke-width="1.1" />
<line x1="566.60" y1="447.50" x2="571.90" y2="447.50" stroke="#ff0000" stroke-width="1.1" />
<line x1="572.90" y1="448.50" x2="578.30" y2="448.50" stroke="#ff0000" stroke-width="1.1" />
<line x1="579.30" y1="451.50" x2="584.70" y2="451.50" stroke="#ff0000" stroke-width="1.1" />
<line x1="585.70" y1="455.50" x2="591.10" y2="455.50" stroke="#ff0000" stroke-width="1.1" />
<line x1="592.10" y1="458.50" x2="597.40" y2="458.50" stroke="#ff0000" stroke-width="1.1" />
<line x1="598.40" y1="461.50" x2="604.10" y2="461.50" stroke="#ff0000" stroke-width="1.1" />
<line x1="605.10" y1="459.50" x2="610.40" y2="459.50" stroke="#ff0000" stroke-width="1.1" />
<line x1="611.40" y1="458.50" x2="616.80" y2="458.50" stroke="#ff0000" stroke-width="1.1" />
<line x1="617.80" y1="457.50" x2="623.20" y2="457.50" stroke="#ff0000" stroke-width="1.1" />
<line x1="624.20" y1="459.50" x2="629.50" y2="459.50" stroke="#ff0000" stroke-width="1.1" />
<line x1="630.50" y1="461.50" x2="635.90" y2="461.50" stroke="#ff0000" stroke-width="1.1" />
<line x1="636.90" y1="464.50" x2="648.70" y2="464.50" stroke="#ff0000" stroke-width="1.1" />
<line x1="649.70" y1="466.50" x2="655.00" y2="466.50" stroke="#ff0000" stroke-width="1.1" />
<line x1="656.00" y1="464.50" x2="661.40" y2="464.50" stroke="#ff0000" stroke-width="1.1" />
<line x1="662.40" y1="462.50" x2="667.80" y2="462.50" stroke="#ff0000" stroke-width="1.1" />
<line x1="668.80" y1="463.50" x2="681.30" y2="463.50" stroke="#ff0000" stroke-width="1.1" />
<line x1="682.30" y1="458.50" x2="686.90" y2="458.50" stroke="#ff0000" stroke-width="1.1" />
<line x1="687.90" y1="457.50" x2="699.70" y2="457.50" stroke="#ff0000" stroke-width="1.1" />
<line x1="700.70" y1="456.50" x2="706.00" y2="456.50" stroke="#ff0000" stroke-width="1.1" />
<line x1="707.00" y1="453.50" x2="713.20" y2="453.50" stroke="#ff0000" stroke-width="1.1" />
<line x1="714.20" y1="450.50" x2="732.20" y2="450.50" stroke="#ff0000" stroke-width="1.1" />
<line x1="733.20" y1="451.50" x2="738.50" y2="451.50" stroke="#ff0000" stroke-width="1.1" />
<line x1="739.50" y1="454.50" x2="744.90" y2="454.50" stroke="#ff0000" stroke-width="1.1" />
<line x1="745.90" y1="460.50" x2="751.30" y2="460.50" stroke="#ff0000" stroke-width="1.1" />
<line x1="752.30" y1="463.50" x2="764.00" y2="463.50" stroke="#ff0000" stroke-width="1.1" />
<line x1="765.00" y1="466.50" x2="770.40" y2="466.50" stroke="#ff0000" stroke-width="1.1" />
<line x1="771.40" y1="470.50" x2="776.80" y2="470.50" stroke="#ff0000" stroke-width="1.1" />
<line x1="777.80" y1="473.50" x2="783.20" y2="473.50" stroke="#ff0000" stroke-width="1.1" />
<line x1="784.20" y1="479.50" x2="789.50" y2="479.50" stroke="#ff0000" stroke-width="1.1" />
<line x1="790.50" y1="484.50" x2="795.90" y2="484.50" stroke="#ff0000" stroke-width="1.1" />
<line x1="796.90" y1="486.50" x2="808.60" y2="486.50" stroke="#ff0000" stroke-width="1.1" />
<line x1="809.60" y1="491.50" x2="815.00" y2="491.50" stroke="#ff0000" stroke-width="1.1" />
<line x1="816.00" y1="494.50" x2="821.40" y2="494.50" stroke="#ff0000" stroke-width="1.1" />
<line x1="822.40" y1="495.50" x2="827.80" y2="495.50" stroke="#ff0000" stroke-width="1.1" />
<line x1="828.80" y1="494.50" x2="834.20" y2="494.50" stroke="#ff0000" stroke-width="1.1" />
<line x1="835.20" y1="492.50" x2="840.50" y2="492.50" stroke="#ff0000" stroke-width="1.1" />
<rect x="348.5" y="437.5" width="493" height="78.0" fill="none" stroke="#111" stroke-width="1"/>
<line x1="361.50" y1="521.50" x2="361.50" y2="551.50" stroke="#000" stroke-width="1" stroke-dasharray="2,2"/>
<line x1="380.50" y1="521.50" x2="380.50" y2="551.50" stroke="#000" stroke-width="1" stroke-dasharray="2,2"/>
<line x1="399.50" y1="521.50" x2="399.50" y2="551.50" stroke="#000" stroke-width="1" stroke-dasharray="2,2"/>
<line x1="418.50" y1="521.50" x2="418.50" y2="551.50" stroke="#000" stroke-width="1" stroke-dasharray="2,2"/>
<line x1="438.50" y1="521.50" x2="438.50" y2="551.50" stroke="#000" stroke-width="1" stroke-dasharray="2,2"/>
<line x1="457.50" y1="521.50" x2="457.50" y2="551.50" stroke="#000" stroke-width="1" stroke-dasharray="2,2"/>
<line x1="476.50" y1="521.50" x2="476.50" y2="551.50" stroke="#000" stroke-width="1" stroke-dasharray="2,2"/>
<line x1="495.50" y1="521.50" x2="495.50" y2="551.50" stroke="#000" stroke-width="1" stroke-dasharray="2,2"/>
<line x1="514.50" y1="521.50" x2="514.50" y2="551.50" stroke="#000" stroke-width="1" stroke-dasharray="2,2"/>
<line x1="534.50" y1="521.50" x2="534.50" y2="551.50" stroke="#000" stroke-width="1" stroke-dasharray="2,2"/>
<line x1="553.50" y1="521.50" x2="553.50" y2="551.50" stroke="#000" stroke-width="1" stroke-dasharray="2,2"/>
<line x1="572.50" y1="521.50" x2="572.50" y2="551.50" stroke="#000" stroke-width="1" stroke-dasharray="2,2"/>
<line x1="591.50" y1="521.50" x2="591.50" y2="551.50" stroke="#000" stroke-width="1" stroke-dasharray="2,2"/>
<line x1="610.50" y1="521.50" x2="610.50" y2="551.50" stroke="#000" stroke-width="1" stroke-dasharray="2,2"/>
<line x1="630.50" y1="521.50" x2="630.50" y2="551.50" stroke="#000" stroke-width="1" stroke-dasharray="2,2"/>
<line x1="649.50" y1="521.50" x2="649.50" y2="551.50" stroke="#000" stroke-width="1" stroke-dasharray="2,2"/>
<line x1="668.50" y1="521.50" x2="668.50" y2="551.50" stroke="#000" stroke-width="1" stroke-dasharray="2,2"/>
<line x1="687.50" y1="521.50" x2="687.50" y2="551.50" stroke="#000" stroke-width="1" stroke-dasharray="2,2"/>
<line x1="706.50" y1="521.50" x2="706.50" y2="551.50" stroke="#000" stroke-width="1" stroke-dasharray="2,2"/>
<line x1="726.50" y1="521.50" x2="726.50" y2="551.50" stroke="#000" stroke-width="1" stroke-dasharray="2,2"/>
<line x1="745.50" y1="521.50" x2="745.50" y2="551.50" stroke="#000" stroke-width="1" stroke-dasharray="2,2"/>
<line x1="764.50" y1="521.50" x2="764.50" y2="551.50" stroke="#000" stroke-width="1" stroke-dasharray="2,2"/>
<line x1="783.50" y1="521.50" x2="783.50" y2="551.50" stroke="#000" stroke-width="1" stroke-dasharray="2,2"/>
<line x1="802.50" y1="521.50" x2="802.50" y2="551.50" stroke="#000" stroke-width="1" stroke-dasharray="2,2"/>
<line x1="822.50" y1="521.50" x2="822.50" y2="551.50" stroke="#000" stroke-width="1" stroke-dasharray="2,2"/>
<line x1="343.64" y1="535.15" x2="356.36" y2="537.85" stroke="#0a14a0" stroke-width="1.3" />
<polygon points="356.8,538.0 351.1,539.5 352.3,534.2" fill="#0a14a0" />
<line x1="350.04" y1="535.15" x2="362.76" y2="537.85" stroke="#0a14a0" stroke-width="1.3" />
<polygon points="363.2,538.0 357.5,539.5 358.7,534.2" fill="#0a14a0" />
<line x1="356.49" y1="534.93" x2="369.11" y2="538.07" stroke="#0a14a0" stroke-width="1.3" />
<polygon points="369.6,538.2 363.8,539.6 365.1,534.3" fill="#0a14a0" />
<line x1="362.95" y1="534.71" x2="375.45" y2="538.29" stroke="#0a14a0" stroke-width="1.3" />
<polygon points="375.9,538.4 370.1,539.6 371.6,534.4" fill="#0a14a0" />
<line x1="373.38" y1="530.39" x2="377.82" y2="542.61" stroke="#0a14a0" stroke-width="1.3" />
<polygon points="378.0,543.1 373.6,539.1 378.8,537.2" fill="#0a14a0" />
<line x1="384.75" y1="542.39" x2="379.25" y2="530.61" stroke="#0a14a0" stroke-width="1.3" />
<polygon points="379.0,530.2 383.7,533.8 378.8,536.1" fill="#0a14a0" />
<line x1="390.62" y1="542.61" x2="386.18" y2="530.39" stroke="#0a14a0" stroke-width="1.3" />
<polygon points="386.0,529.9 390.4,533.9 385.2,535.8" fill="#0a14a0" />
<line x1="395.37" y1="542.98" x2="394.23" y2="530.02" stroke="#0a14a0" stroke-width="1.3" />
<polygon points="394.2,529.5 397.4,534.5 391.9,535.0" fill="#0a14a0" />
<line x1="401.20" y1="543.00" x2="401.20" y2="530.00" stroke="#0a14a0" stroke-width="1.3" />
<polygon points="401.2,529.5 403.9,534.8 398.5,534.8" fill="#0a14a0" />
<line x1="407.83" y1="543.00" x2="407.37" y2="530.00" stroke="#0a14a0" stroke-width="1.3" />
<polygon points="407.4,529.5 410.3,534.7 404.8,534.9" fill="#0a14a0" />
<line x1="415.13" y1="542.90" x2="412.87" y2="530.10" stroke="#0a14a0" stroke-width="1.3" />
<polygon points="412.8,529.6 416.4,534.3 411.0,535.3" fill="#0a14a0" />
<line x1="419.27" y1="542.90" x2="421.53" y2="530.10" stroke="#0a14a0" stroke-width="1.3" />
<polygon points="421.6,529.6 423.4,535.3 418.0,534.3" fill="#0a14a0" />
<line x1="423.75" y1="542.24" x2="429.85" y2="530.76" stroke="#0a14a0" stroke-width="1.3" />
<polygon points="430.1,530.3 430.0,536.2 425.2,533.7" fill="#0a14a0" />
<line x1="429.47" y1="541.82" x2="436.93" y2="531.18" stroke="#0a14a0" stroke-width="1.3" />
<polygon points="437.2,530.8 436.4,536.6 432.0,533.5" fill="#0a14a0" />
<line x1="435.87" y1="541.82" x2="443.33" y2="531.18" stroke="#0a14a0" stroke-width="1.3" />
<polygon points="443.6,530.8 442.8,536.6 438.4,533.5" fill="#0a14a0" />
<line x1="444.65" y1="542.86" x2="447.35" y2="530.14" stroke="#0a14a0" stroke-width="1.3" />
<polygon points="447.5,529.7 449.0,535.4 443.7,534.2" fill="#0a14a0" />
<line x1="451.83" y1="542.98" x2="452.97" y2="530.02" stroke="#0a14a0" stroke-width="1.3" />
<polygon points="453.0,529.5 455.3,535.0 449.8,534.5" fill="#0a14a0" />
<line x1="458.23" y1="542.98" x2="459.37" y2="530.02" stroke="#0a14a0" stroke-width="1.3" />
<polygon points="459.4,529.5 461.7,535.0 456.2,534.5" fill="#0a14a0" />
<line x1="461.95" y1="542.13" x2="468.45" y2="530.87" stroke="#0a14a0" stroke-width="1.3" />
<polygon points="468.7,530.4 468.4,536.4 463.7,533.6" fill="#0a14a0" />
<line x1="467.42" y1="541.48" x2="475.78" y2="531.52" stroke="#0a14a0" stroke-width="1.3" />
<polygon points="476.1,531.1 474.8,536.9 470.6,533.4" fill="#0a14a0" />
<line x1="473.17" y1="540.85" x2="482.83" y2="532.15" stroke="#0a14a0" stroke-width="1.3" />
<polygon points="483.2,531.8 481.1,537.4 477.5,533.3" fill="#0a14a0" />
<line x1="478.89" y1="539.94" x2="489.91" y2="533.06" stroke="#0a14a0" stroke-width="1.3" />
<polygon points="490.3,532.8 487.3,537.9 484.4,533.3" fill="#0a14a0" />
<line x1="484.44" y1="537.85" x2="497.16" y2="535.15" stroke="#0a14a0" stroke-width="1.3" />
<polygon points="497.6,535.0 493.1,538.8 491.9,533.5" fill="#0a14a0" />
<line x1="490.70" y1="536.50" x2="503.70" y2="536.50" stroke="#0a14a0" stroke-width="1.3" />
<polygon points="504.2,536.5 498.9,539.2 498.9,533.8" fill="#0a14a0" />
<line x1="497.11" y1="536.16" x2="510.09" y2="536.84" stroke="#0a14a0" stroke-width="1.3" />
<polygon points="510.6,536.9 505.2,539.3 505.5,533.9" fill="#0a14a0" />
<line x1="503.60" y1="535.37" x2="516.40" y2="537.63" stroke="#0a14a0" stroke-width="1.3" />
<polygon points="516.9,537.7 511.2,539.5 512.2,534.1" fill="#0a14a0" />
<line x1="510.29" y1="534.28" x2="522.51" y2="538.72" stroke="#0a14a0" stroke-width="1.3" />
<polygon points="523.0,538.9 517.1,539.7 519.0,534.5" fill="#0a14a0" />
<line x1="517.17" y1="533.25" x2="528.43" y2="539.75" stroke="#0a14a0" stroke-width="1.3" />
<polygon points="528.9,540.0 522.9,539.7 525.7,535.0" fill="#0a14a0" />
<line x1="523.57" y1="533.25" x2="534.83" y2="539.75" stroke="#0a14a0" stroke-width="1.3" />
<polygon points="535.3,540.0 529.3,539.7 532.1,535.0" fill="#0a14a0" />
<line x1="529.97" y1="533.25" x2="541.23" y2="539.75" stroke="#0a14a0" stroke-width="1.3" />
<polygon points="541.7,540.0 535.7,539.7 538.5,535.0" fill="#0a14a0" />
<line x1="536.37" y1="533.25" x2="547.63" y2="539.75" stroke="#0a14a0" stroke-width="1.3" />
<polygon points="548.1,540.0 542.1,539.7 544.9,535.0" fill="#0a14a0" />
<line x1="542.77" y1="533.25" x2="554.03" y2="539.75" stroke="#0a14a0" stroke-width="1.3" />
<polygon points="554.5,540.0 548.5,539.7 551.3,535.0" fill="#0a14a0" />
<line x1="549.17" y1="533.25" x2="560.43" y2="539.75" stroke="#0a14a0" stroke-width="1.3" />
<polygon points="560.9,540.0 554.9,539.7 557.7,535.0" fill="#0a14a0" />
<line x1="555.57" y1="533.25" x2="566.83" y2="539.75" stroke="#0a14a0" stroke-width="1.3" />
<polygon points="567.3,540.0 561.3,539.7 564.1,535.0" fill="#0a14a0" />
<line x1="561.97" y1="533.25" x2="573.23" y2="539.75" stroke="#0a14a0" stroke-width="1.3" />
<polygon points="573.7,540.0 567.7,539.7 570.5,535.0" fill="#0a14a0" />
<line x1="568.37" y1="533.25" x2="579.63" y2="539.75" stroke="#0a14a0" stroke-width="1.3" />
<polygon points="580.1,540.0 574.1,539.7 576.9,535.0" fill="#0a14a0" />
<line x1="574.77" y1="533.25" x2="586.03" y2="539.75" stroke="#0a14a0" stroke-width="1.3" />
<polygon points="586.5,540.0 580.5,539.7 583.3,535.0" fill="#0a14a0" />
<line x1="581.17" y1="533.25" x2="592.43" y2="539.75" stroke="#0a14a0" stroke-width="1.3" />
<polygon points="592.9,540.0 586.9,539.7 589.7,535.0" fill="#0a14a0" />
<line x1="587.57" y1="533.25" x2="598.83" y2="539.75" stroke="#0a14a0" stroke-width="1.3" />
<polygon points="599.3,540.0 593.3,539.7 596.1,535.0" fill="#0a14a0" />
<line x1="593.97" y1="533.25" x2="605.23" y2="539.75" stroke="#0a14a0" stroke-width="1.3" />
<polygon points="605.7,540.0 599.7,539.7 602.5,535.0" fill="#0a14a0" />
<line x1="600.37" y1="533.25" x2="611.63" y2="539.75" stroke="#0a14a0" stroke-width="1.3" />
<polygon points="612.1,540.0 606.1,539.7 608.9,535.0" fill="#0a14a0" />
<line x1="606.77" y1="533.25" x2="618.03" y2="539.75" stroke="#0a14a0" stroke-width="1.3" />
<polygon points="618.5,540.0 612.5,539.7 615.3,535.0" fill="#0a14a0" />
<line x1="613.17" y1="533.25" x2="624.43" y2="539.75" stroke="#0a14a0" stroke-width="1.3" />
<polygon points="624.9,540.0 618.9,539.7 621.7,535.0" fill="#0a14a0" />
<line x1="619.57" y1="533.25" x2="630.83" y2="539.75" stroke="#0a14a0" stroke-width="1.3" />
<polygon points="631.3,540.0 625.3,539.7 628.1,535.0" fill="#0a14a0" />
<line x1="625.97" y1="533.25" x2="637.23" y2="539.75" stroke="#0a14a0" stroke-width="1.3" />
<polygon points="637.7,540.0 631.7,539.7 634.5,535.0" fill="#0a14a0" />
<line x1="632.37" y1="533.25" x2="643.63" y2="539.75" stroke="#0a14a0" stroke-width="1.3" />
<polygon points="644.1,540.0 638.1,539.7 640.9,535.0" fill="#0a14a0" />
<line x1="638.77" y1="533.25" x2="650.03" y2="539.75" stroke="#0a14a0" stroke-width="1.3" />
<polygon points="650.5,540.0 644.5,539.7 647.3,535.0" fill="#0a14a0" />
<line x1="645.17" y1="533.25" x2="656.43" y2="539.75" stroke="#0a14a0" stroke-width="1.3" />
<polygon points="656.9,540.0 650.9,539.7 653.7,535.0" fill="#0a14a0" />
<line x1="651.57" y1="533.25" x2="662.83" y2="539.75" stroke="#0a14a0" stroke-width="1.3" />
<polygon points="663.3,540.0 657.3,539.7 660.1,535.0" fill="#0a14a0" />
<line x1="657.97" y1="533.25" x2="669.23" y2="539.75" stroke="#0a14a0" stroke-width="1.3" />
<polygon points="669.7,540.0 663.7,539.7 666.5,535.0" fill="#0a14a0" />
<line x1="664.37" y1="533.25" x2="675.63" y2="539.75" stroke="#0a14a0" stroke-width="1.3" />
<polygon points="676.1,540.0 670.1,539.7 672.9,535.0" fill="#0a14a0" />
<line x1="670.77" y1="533.25" x2="682.03" y2="539.75" stroke="#0a14a0" stroke-width="1.3" />
<polygon points="682.5,540.0 676.5,539.7 679.3,535.0" fill="#0a14a0" />
<line x1="677.17" y1="533.25" x2="688.43" y2="539.75" stroke="#0a14a0" stroke-width="1.3" />
<polygon points="688.9,540.0 682.9,539.7 685.7,535.0" fill="#0a14a0" />
<line x1="683.57" y1="533.25" x2="694.83" y2="539.75" stroke="#0a14a0" stroke-width="1.3" />
<polygon points="695.3,540.0 689.3,539.7 692.1,535.0" fill="#0a14a0" />
<line x1="689.97" y1="533.25" x2="701.23" y2="539.75" stroke="#0a14a0" stroke-width="1.3" />
<polygon points="701.7,540.0 695.7,539.7 698.5,535.0" fill="#0a14a0" />
<line x1="696.37" y1="533.25" x2="707.63" y2="539.75" stroke="#0a14a0" stroke-width="1.3" />
<polygon points="708.1,540.0 702.1,539.7 704.9,535.0" fill="#0a14a0" />
<line x1="702.77" y1="533.25" x2="714.03" y2="539.75" stroke="#0a14a0" stroke-width="1.3" />
<polygon points="714.5,540.0 708.5,539.7 711.3,535.0" fill="#0a14a0" />
<line x1="709.17" y1="533.25" x2="720.43" y2="539.75" stroke="#0a14a0" stroke-width="1.3" />
<polygon points="720.9,540.0 714.9,539.7 717.7,535.0" fill="#0a14a0" />
<line x1="715.57" y1="533.25" x2="726.83" y2="539.75" stroke="#0a14a0" stroke-width="1.3" />
<polygon points="727.3,540.0 721.3,539.7 724.1,535.0" fill="#0a14a0" />
<line x1="721.97" y1="533.25" x2="733.23" y2="539.75" stroke="#0a14a0" stroke-width="1.3" />
<polygon points="733.7,540.0 727.7,539.7 730.5,535.0" fill="#0a14a0" />
<line x1="728.37" y1="533.25" x2="739.63" y2="539.75" stroke="#0a14a0" stroke-width="1.3" />
<polygon points="740.1,540.0 734.1,539.7 736.9,535.0" fill="#0a14a0" />
<line x1="734.77" y1="533.25" x2="746.03" y2="539.75" stroke="#0a14a0" stroke-width="1.3" />
<polygon points="746.5,540.0 740.5,539.7 743.3,535.0" fill="#0a14a0" />
<line x1="741.17" y1="533.25" x2="752.43" y2="539.75" stroke="#0a14a0" stroke-width="1.3" />
<polygon points="752.9,540.0 746.9,539.7 749.7,535.0" fill="#0a14a0" />
<line x1="747.57" y1="533.25" x2="758.83" y2="539.75" stroke="#0a14a0" stroke-width="1.3" />
<polygon points="759.3,540.0 753.3,539.7 756.1,535.0" fill="#0a14a0" />
<line x1="753.97" y1="533.25" x2="765.23" y2="539.75" stroke="#0a14a0" stroke-width="1.3" />
<polygon points="765.7,540.0 759.7,539.7 762.5,535.0" fill="#0a14a0" />
<line x1="760.37" y1="533.25" x2="771.63" y2="539.75" stroke="#0a14a0" stroke-width="1.3" />
<polygon points="772.1,540.0 766.1,539.7 768.9,535.0" fill="#0a14a0" />
<line x1="766.77" y1="533.25" x2="778.03" y2="539.75" stroke="#0a14a0" stroke-width="1.3" />
<polygon points="778.5,540.0 772.5,539.7 775.3,535.0" fill="#0a14a0" />
<line x1="773.17" y1="533.25" x2="784.43" y2="539.75" stroke="#0a14a0" stroke-width="1.3" />
<polygon points="784.9,540.0 778.9,539.7 781.7,535.0" fill="#0a14a0" />
<line x1="779.57" y1="533.25" x2="790.83" y2="539.75" stroke="#0a14a0" stroke-width="1.3" />
<polygon points="791.3,540.0 785.3,539.7 788.1,535.0" fill="#0a14a0" />
<line x1="785.97" y1="533.25" x2="797.23" y2="539.75" stroke="#0a14a0" stroke-width="1.3" />
<polygon points="797.7,540.0 791.7,539.7 794.5,535.0" fill="#0a14a0" />
<line x1="792.37" y1="533.25" x2="803.63" y2="539.75" stroke="#0a14a0" stroke-width="1.3" />
<polygon points="804.1,540.0 798.1,539.7 800.9,535.0" fill="#0a14a0" />
<line x1="798.77" y1="533.25" x2="810.03" y2="539.75" stroke="#0a14a0" stroke-width="1.3" />
<polygon points="810.5,540.0 804.5,539.7 807.3,535.0" fill="#0a14a0" />
<line x1="805.17" y1="533.25" x2="816.43" y2="539.75" stroke="#0a14a0" stroke-width="1.3" />
<polygon points="816.9,540.0 810.9,539.7 813.7,535.0" fill="#0a14a0" />
<line x1="811.57" y1="533.25" x2="822.83" y2="539.75" stroke="#0a14a0" stroke-width="1.3" />
<polygon points="823.3,540.0 817.3,539.7 820.1,535.0" fill="#0a14a0" />
<line x1="817.97" y1="533.25" x2="829.23" y2="539.75" stroke="#0a14a0" stroke-width="1.3" />
<polygon points="829.7,540.0 823.7,539.7 826.5,535.0" fill="#0a14a0" />
<line x1="824.37" y1="533.25" x2="835.63" y2="539.75" stroke="#0a14a0" stroke-width="1.3" />
<polygon points="836.1,540.0 830.1,539.7 832.9,535.0" fill="#0a14a0" />
<line x1="830.77" y1="533.25" x2="842.03" y2="539.75" stroke="#0a14a0" stroke-width="1.3" />
<polygon points="842.5,540.0 836.5,539.7 839.3,535.0" fill="#0a14a0" />
<line x1="837.17" y1="533.25" x2="848.43" y2="539.75" stroke="#0a14a0" stroke-width="1.3" />
<polygon points="848.9,540.0 842.9,539.7 845.7,535.0" fill="#0a14a0" />
<rect x="348.5" y="521.5" width="493" height="30.0" fill="none" stroke="#111" stroke-width="1"/>
<line x1="348.50" y1="552.50" x2="841.30" y2="552.50" stroke="#999" stroke-width="1.5" />
<rect x="348.50" y="557.70" width="492.80" height="78.30" fill="#86cdf9" />
<rect x="349.00" y="557.70" width="26.80" height="78.30" fill="#000" opacity="0.08"/>
<rect x="445.90" y="557.70" width="83.50" height="78.30" fill="#000" opacity="0.08"/>
<rect x="599.50" y="557.70" width="83.50" height="78.30" fill="#000" opacity="0.08"/>
<rect x="753.10" y="557.70" width="83.50" height="78.30" fill="#000" opacity="0.08"/>
<line x1="361.50" y1="557.70" x2="361.50" y2="636.00" stroke="#000" stroke-width="1" stroke-dasharray="2,2"/>
<line x1="380.50" y1="557.70" x2="380.50" y2="636.00" stroke="#000" stroke-width="1" stroke-dasharray="2,2"/>
<line x1="399.50" y1="557.70" x2="399.50" y2="636.00" stroke="#000" stroke-width="1" stroke-dasharray="2,2"/>
<line x1="418.50" y1="557.70" x2="418.50" y2="636.00" stroke="#000" stroke-width="1" stroke-dasharray="2,2"/>
<line x1="438.50" y1="557.70" x2="438.50" y2="636.00" stroke="#000" stroke-width="1" stroke-dasharray="2,2"/>
<line x1="457.50" y1="557.70" x2="457.50" y2="636.00" stroke="#000" stroke-width="1" stroke-dasharray="2,2"/>
<line x1="476.50" y1="557.70" x2="476.50" y2="636.00" stroke="#000" stroke-width="1" stroke-dasharray="2,2"/>
<line x1="495.50" y1="557.70" x2="495.50" y2="636.00" stroke="#000" stroke-width="1" stroke-dasharray="2,2"/>
<line x1="514.50" y1="557.70" x2="514.50" y2="636.00" stroke="#000" stroke-width="1" stroke-dasharray="2,2"/>
<line x1="534.50" y1="557.70" x2="534.50" y2="636.00" stroke="#000" stroke-width="1" stroke-dasharray="2,2"/>
<line x1="553.50" y1="557.70" x2="553.50" y2="636.00" stroke="#000" stroke-width="1" stroke-dasharray="2,2"/>
<line x1="572.50" y1="557.70" x2="572.50" y2="636.00" stroke="#000" stroke-width="1" stroke-dasharray="2,2"/>
<line x1="591.50" y1="557.70" x2="591.50" y2="636.00" stroke="#000" stroke-width="1" stroke-dasharray="2,2"/>
<line x1="610.50" y1="557.70" x2="610.50" y2="636.00" stroke="#000" stroke-width="1" stroke-dasharray="2,2"/>
<line x1="630.50" y1="557.70" x2="630.50" y2="636.00" stroke="#000" stroke-width="1" stroke-dasharray="2,2"/>
<line x1="649.50" y1="557.70" x2="649.50" y2="636.00" stroke="#000" stroke-width="1" stroke-dasharray="2,2"/>
<line x1="668.50" y1="557.70" x2="668.50" y2="636.00" stroke="#000" stroke-width="1" stroke-dasharray="2,2"/>
<line x1="687.50" y1="557.70" x2="687.50" y2="636.00" stroke="#000" stroke-width="1" stroke-dasharray="2,2"/>
<line x1="706.50" y1="557.70" x2="706.50" y2="636.00" stroke="#000" stroke-width="1" stroke-dasharray="2,2"/>
<line x1="726.50" y1="557.70" x2="726.50" y2="636.00" stroke="#000" stroke-width="1" stroke-dasharray="2,2"/>
<line x1="745.50" y1="557.70" x2="745.50" y2="636.00" stroke="#000" stroke-width="1" stroke-dasharray="2,2"/>
<line x1="764.50" y1="557.70" x2="764.50" y2="636.00" stroke="#000" stroke-width="1" stroke-dasharray="2,2"/>
<line x1="783.50" y1="557.70" x2="783.50" y2="636.00" stroke="#000" stroke-width="1" stroke-dasharray="2,2"/>
<line x1="802.50" y1="557.70" x2="802.50" y2="636.00" stroke="#000" stroke-width="1" stroke-dasharray="2,2"/>
<line x1="822.50" y1="557.70" x2="822.50" y2="636.00" stroke="#000" stroke-width="1" stroke-dasharray="2,2"/>
<line x1="348.50" y1="577.50" x2="841.30" y2="577.50" stroke="#000" stroke-width="1" stroke-dasharray="2,2"/>
<line x1="348.50" y1="597.50" x2="841.30" y2="597.50" stroke="#000" stroke-width="1" stroke-dasharray="2,2"/>
<line x1="348.50" y1="616.50" x2="841.30" y2="616.50" stroke="#000" stroke-width="1" stroke-dasharray="2,2"/>
<clipPath id="cpC"><rect x="348.5" y="557.7" width="492.79999999999995" height="78.29999999999995"/></clipPath><g clip-path="url(#cpC)">
<circle cx="348.5" cy="567.0" r="2.9" fill="#b01c22" />
<circle cx="354.9" cy="567.0" r="2.9" fill="#b01c22" />
<circle cx="361.3" cy="567.0" r="2.9" fill="#b01c22" />
<circle cx="367.7" cy="567.0" r="2.9" fill="#b01c22" />
<circle cx="374.1" cy="567.0" r="2.9" fill="#b01c22" />
<circle cx="380.5" cy="567.0" r="2.9" fill="#b01c22" />
<circle cx="386.9" cy="567.0" r="2.9" fill="#b01c22" />
<circle cx="393.3" cy="567.0" r="2.9" fill="#b01c22" />
<circle cx="399.7" cy="567.0" r="2.9" fill="#b01c22" />
<circle cx="406.1" cy="567.0" r="2.9" fill="#b01c22" />
<circle cx="412.5" cy="567.0" r="2.9" fill="#b01c22" />
<circle cx="418.9" cy="567.0" r="2.9" fill="#b01c22" />
<circle cx="425.3" cy="567.0" r="2.9" fill="#b01c22" />
<circle cx="431.7" cy="567.0" r="2.9" fill="#b01c22" />
<circle cx="438.1" cy="567.0" r="2.9" fill="#b01c22" />
<circle cx="444.5" cy="567.0" r="2.9" fill="#b01c22" />
<circle cx="450.9" cy="567.0" r="2.9" fill="#b01c22" />
<circle cx="457.3" cy="567.0" r="2.9" fill="#b01c22" />
<circle cx="463.7" cy="567.0" r="2.9" fill="#b01c22" />
<circle cx="470.1" cy="567.0" r="2.9" fill="#b01c22" />
<circle cx="476.5" cy="567.0" r="2.9" fill="#b01c22" />
<circle cx="482.9" cy="567.0" r="2.9" fill="#b01c22" />
<circle cx="489.3" cy="567.0" r="2.9" fill="#b01c22" />
<circle cx="495.7" cy="567.0" r="2.9" fill="#b01c22" />
<circle cx="502.1" cy="567.0" r="2.9" fill="#b01c22" />
<circle cx="508.5" cy="567.0" r="2.9" fill="#b01c22" />
<circle cx="514.9" cy="583.6" r="2.9" fill="#b01c22" />
<circle cx="521.3" cy="568.6" r="2.9" fill="#b01c22" />
<circle cx="585.3" cy="570.0" r="2.9" fill="#b01c22" />
<circle cx="591.7" cy="568.3" r="2.9" fill="#b01c22" />
<circle cx="623.7" cy="570.7" r="2.9" fill="#b01c22" />
<circle cx="655.7" cy="568.6" r="2.9" fill="#b01c22" />
<circle cx="662.1" cy="568.6" r="2.9" fill="#b01c22" />
<circle cx="668.5" cy="568.6" r="2.9" fill="#b01c22" />
<circle cx="674.9" cy="568.6" r="2.9" fill="#b01c22" />
<circle cx="681.3" cy="568.6" r="2.9" fill="#b01c22" />
<circle cx="687.7" cy="568.6" r="2.9" fill="#b01c22" />
<circle cx="694.1" cy="568.6" r="2.9" fill="#b01c22" />
<circle cx="700.5" cy="568.6" r="2.9" fill="#b01c22" />
<circle cx="706.9" cy="568.6" r="2.9" fill="#b01c22" />
<circle cx="713.3" cy="568.6" r="2.9" fill="#b01c22" />
<circle cx="719.7" cy="568.6" r="2.9" fill="#b01c22" />
<circle cx="726.1" cy="568.6" r="2.9" fill="#b01c22" />
<circle cx="732.5" cy="568.6" r="2.9" fill="#b01c22" />
<circle cx="738.9" cy="568.6" r="2.9" fill="#b01c22" />
<circle cx="745.3" cy="568.6" r="2.9" fill="#b01c22" />
<circle cx="751.7" cy="568.6" r="2.9" fill="#b01c22" />
<circle cx="758.1" cy="567.0" r="2.9" fill="#b01c22" />
<circle cx="764.5" cy="567.0" r="2.9" fill="#b01c22" />
<circle cx="770.9" cy="567.0" r="2.9" fill="#b01c22" />
<circle cx="777.3" cy="565.7" r="2.9" fill="#b01c22" />
<circle cx="783.7" cy="565.7" r="2.9" fill="#b01c22" />
<circle cx="790.1" cy="565.7" r="2.9" fill="#b01c22" />
<circle cx="796.5" cy="565.7" r="2.9" fill="#b01c22" />
<circle cx="802.9" cy="565.7" r="2.9" fill="#b01c22" />
<circle cx="809.3" cy="565.7" r="2.9" fill="#b01c22" />
<circle cx="815.7" cy="565.7" r="2.9" fill="#b01c22" />
<circle cx="822.1" cy="565.7" r="2.9" fill="#b01c22" />
<circle cx="828.5" cy="565.7" r="2.9" fill="#b01c22" />
<circle cx="834.9" cy="565.7" r="2.9" fill="#b01c22" />
<circle cx="841.3" cy="565.7" r="2.9" fill="#b01c22" />
<circle cx="348.5" cy="632.4" r="2.9" fill="#fff" />
<circle cx="348.5" cy="628.0" r="2.9" fill="#999" />
<circle cx="348.5" cy="623.6" r="2.9" fill="#555" />
<circle cx="354.9" cy="600.0" r="2.9" fill="#000" />
<circle cx="354.9" cy="631.4" r="2.9" fill="#bbb" />
<circle cx="354.9" cy="627.0" r="2.9" fill="#777" />
<circle cx="361.3" cy="600.0" r="2.9" fill="#000" />
<circle cx="361.3" cy="633.4" r="2.9" fill="#999" />
<circle cx="361.3" cy="629.0" r="2.9" fill="#444" />
<circle cx="367.7" cy="630.0" r="2.9" fill="#000" />
<circle cx="374.1" cy="630.0" r="2.9" fill="#000" />
<circle cx="380.5" cy="630.0" r="2.9" fill="#000" />
<circle cx="386.9" cy="630.0" r="2.9" fill="#000" />
<circle cx="393.3" cy="630.0" r="2.9" fill="#000" />
<circle cx="399.7" cy="630.0" r="2.9" fill="#000" />
<circle cx="406.1" cy="630.0" r="2.9" fill="#000" />
<circle cx="412.5" cy="630.0" r="2.9" fill="#000" />
<circle cx="418.9" cy="630.0" r="2.9" fill="#000" />
<circle cx="425.3" cy="631.0" r="2.9" fill="#999" />
<circle cx="431.7" cy="631.0" r="2.9" fill="#ccc" />
<circle cx="438.1" cy="631.0" r="2.9" fill="#ddd" />
<circle cx="444.5" cy="631.0" r="2.9" fill="#fff" />
<circle cx="450.9" cy="631.0" r="2.9" fill="#fff" />
<circle cx="457.3" cy="631.0" r="2.9" fill="#fff" />
<circle cx="463.7" cy="631.0" r="2.9" fill="#fff" />
<circle cx="425.3" cy="616.3" r="2.9" fill="#ccc" />
<circle cx="425.3" cy="612.3" r="2.9" fill="#999" />
<circle cx="425.3" cy="608.3" r="2.9" fill="#555" />
<circle cx="425.3" cy="604.3" r="2.9" fill="#000" />
<circle cx="431.7" cy="615.6" r="2.9" fill="#ccc" />
<circle cx="431.7" cy="611.6" r="2.9" fill="#999" />
<circle cx="431.7" cy="607.6" r="2.9" fill="#555" />
<circle cx="431.7" cy="603.6" r="2.9" fill="#000" />
<circle cx="438.1" cy="617.0" r="2.9" fill="#ccc" />
<circle cx="438.1" cy="613.0" r="2.9" fill="#999" />
<circle cx="438.1" cy="609.0" r="2.9" fill="#555" />
<circle cx="438.1" cy="605.0" r="2.9" fill="#000" />
<circle cx="444.5" cy="613.4" r="2.9" fill="#ccc" />
<circle cx="444.5" cy="609.4" r="2.9" fill="#999" />
<circle cx="444.5" cy="605.4" r="2.9" fill="#555" />
<circle cx="444.5" cy="601.4" r="2.9" fill="#000" />
<circle cx="450.9" cy="612.0" r="2.9" fill="#ccc" />
<circle cx="450.9" cy="608.0" r="2.9" fill="#999" />
<circle cx="450.9" cy="604.0" r="2.9" fill="#555" />
<circle cx="450.9" cy="600.0" r="2.9" fill="#000" />
<circle cx="457.3" cy="613.4" r="2.9" fill="#ccc" />
<circle cx="457.3" cy="609.4" r="2.9" fill="#999" />
<circle cx="457.3" cy="605.4" r="2.9" fill="#555" />
<circle cx="457.3" cy="601.4" r="2.9" fill="#000" />
<circle cx="470.1" cy="584.3" r="2.9" fill="#fff" />
<circle cx="476.5" cy="595.7" r="2.9" fill="#fff" />
<circle cx="482.9" cy="595.0" r="2.9" fill="#fff" />
<circle cx="489.3" cy="595.0" r="2.9" fill="#fff" />
<circle cx="495.7" cy="630.2" r="2.9" fill="#fff" />
<circle cx="495.7" cy="625.8" r="2.9" fill="#ddd" />
<circle cx="495.7" cy="621.4" r="2.9" fill="#bbb" />
<circle cx="502.1" cy="630.2" r="2.9" fill="#b8b8b8" />
<circle cx="502.1" cy="625.8" r="2.9" fill="#7c7c7c" />
<circle cx="502.1" cy="621.4" r="2.9" fill="#3c3c3c" />
<circle cx="502.1" cy="617.0" r="2.9" fill="#000000" />
<circle cx="508.5" cy="632.4" r="2.9" fill="#7c7c7c" />
<circle cx="508.5" cy="628.0" r="2.9" fill="#3c3c3c" />
<circle cx="508.5" cy="623.6" r="2.9" fill="#000000" />
<circle cx="514.9" cy="630.1" r="2.9" fill="#3c3c3c" />
<circle cx="514.9" cy="625.7" r="2.9" fill="#000000" />
<circle cx="521.3" cy="631.7" r="2.9" fill="#7c7c7c" />
<circle cx="521.3" cy="627.3" r="2.9" fill="#3c3c3c" />
<circle cx="521.3" cy="622.9" r="2.9" fill="#000000" />
<circle cx="527.7" cy="633.1" r="2.9" fill="#7c7c7c" />
<circle cx="527.7" cy="628.7" r="2.9" fill="#3c3c3c" />
<circle cx="527.7" cy="624.3" r="2.9" fill="#000000" />
<circle cx="534.1" cy="632.4" r="2.9" fill="#7c7c7c" />
<circle cx="534.1" cy="628.0" r="2.9" fill="#3c3c3c" />
<circle cx="534.1" cy="623.6" r="2.9" fill="#000000" />
<circle cx="540.5" cy="633.2" r="2.9" fill="#b8b8b8" />
<circle cx="540.5" cy="628.8" r="2.9" fill="#7c7c7c" />
<circle cx="540.5" cy="624.4" r="2.9" fill="#3c3c3c" />
<circle cx="540.5" cy="620.0" r="2.9" fill="#000000" />
<circle cx="546.9" cy="631.1" r="2.9" fill="#b8b8b8" />
<circle cx="546.9" cy="626.7" r="2.9" fill="#7c7c7c" />
<circle cx="546.9" cy="622.3" r="2.9" fill="#3c3c3c" />
<circle cx="546.9" cy="617.9" r="2.9" fill="#000000" />
<circle cx="553.3" cy="633.3" r="2.9" fill="#e8e8e8" />
<circle cx="553.3" cy="628.9" r="2.9" fill="#b8b8b8" />
<circle cx="553.3" cy="624.5" r="2.9" fill="#7c7c7c" />
<circle cx="553.3" cy="620.1" r="2.9" fill="#3c3c3c" />
<circle cx="553.3" cy="615.7" r="2.9" fill="#000000" />
<circle cx="559.7" cy="631.8" r="2.9" fill="#b8b8b8" />
<circle cx="559.7" cy="627.4" r="2.9" fill="#7c7c7c" />
<circle cx="559.7" cy="623.0" r="2.9" fill="#3c3c3c" />
<circle cx="559.7" cy="618.6" r="2.9" fill="#000000" />
<circle cx="566.1" cy="634.0" r="2.9" fill="#e8e8e8" />
<circle cx="566.1" cy="629.6" r="2.9" fill="#b8b8b8" />
<circle cx="566.1" cy="625.2" r="2.9" fill="#7c7c7c" />
<circle cx="566.1" cy="620.8" r="2.9" fill="#3c3c3c" />
<circle cx="566.1" cy="616.4" r="2.9" fill="#000000" />
<circle cx="572.5" cy="630.2" r="2.9" fill="#b8b8b8" />
<circle cx="572.5" cy="625.8" r="2.9" fill="#7c7c7c" />
<circle cx="572.5" cy="621.4" r="2.9" fill="#3c3c3c" />
<circle cx="572.5" cy="617.0" r="2.9" fill="#000000" />
<circle cx="578.9" cy="633.3" r="2.9" fill="#e8e8e8" />
<circle cx="578.9" cy="628.9" r="2.9" fill="#b8b8b8" />
<circle cx="578.9" cy="624.5" r="2.9" fill="#7c7c7c" />
<circle cx="578.9" cy="620.1" r="2.9" fill="#3c3c3c" />
<circle cx="578.9" cy="615.7" r="2.9" fill="#000000" />
<circle cx="585.3" cy="631.9" r="2.9" fill="#e8e8e8" />
<circle cx="585.3" cy="627.5" r="2.9" fill="#b8b8b8" />
<circle cx="585.3" cy="623.1" r="2.9" fill="#7c7c7c" />
<circle cx="585.3" cy="618.7" r="2.9" fill="#3c3c3c" />
<circle cx="585.3" cy="614.3" r="2.9" fill="#000000" />
<circle cx="591.7" cy="631.9" r="2.9" fill="#e8e8e8" />
<circle cx="591.7" cy="627.5" r="2.9" fill="#b8b8b8" />
<circle cx="591.7" cy="623.1" r="2.9" fill="#7c7c7c" />
<circle cx="591.7" cy="618.7" r="2.9" fill="#3c3c3c" />
<circle cx="591.7" cy="614.3" r="2.9" fill="#000000" />
<circle cx="598.1" cy="633.3" r="2.9" fill="#e8e8e8" />
<circle cx="598.1" cy="628.9" r="2.9" fill="#b8b8b8" />
<circle cx="598.1" cy="624.5" r="2.9" fill="#7c7c7c" />
<circle cx="598.1" cy="620.1" r="2.9" fill="#3c3c3c" />
<circle cx="598.1" cy="615.7" r="2.9" fill="#000000" />
<circle cx="604.5" cy="632.4" r="2.9" fill="#7c7c7c" />
<circle cx="604.5" cy="628.0" r="2.9" fill="#3c3c3c" />
<circle cx="604.5" cy="623.6" r="2.9" fill="#000000" />
<circle cx="610.9" cy="633.1" r="2.9" fill="#7c7c7c" />
<circle cx="610.9" cy="628.7" r="2.9" fill="#3c3c3c" />
<circle cx="610.9" cy="624.3" r="2.9" fill="#000000" />
<circle cx="617.3" cy="631.7" r="2.9" fill="#7c7c7c" />
<circle cx="617.3" cy="627.3" r="2.9" fill="#3c3c3c" />
<circle cx="617.3" cy="622.9" r="2.9" fill="#000000" />
<circle cx="623.7" cy="633.8" r="2.9" fill="#7c7c7c" />
<circle cx="623.7" cy="629.4" r="2.9" fill="#3c3c3c" />
<circle cx="623.7" cy="625.0" r="2.9" fill="#000000" />
<circle cx="630.1" cy="630.9" r="2.9" fill="#7c7c7c" />
<circle cx="630.1" cy="626.5" r="2.9" fill="#3c3c3c" />
<circle cx="630.1" cy="622.1" r="2.9" fill="#000000" />
<circle cx="636.5" cy="633.0" r="2.9" fill="#a0a0a0" />
<circle cx="636.5" cy="628.6" r="2.9" fill="#6c6c6c" />
<circle cx="642.9" cy="633.7" r="2.9" fill="#a0a0a0" />
<circle cx="642.9" cy="629.3" r="2.9" fill="#6c6c6c" />
<circle cx="649.3" cy="633.0" r="2.9" fill="#a0a0a0" />
<circle cx="649.3" cy="628.6" r="2.9" fill="#6c6c6c" />
<circle cx="655.7" cy="633.7" r="2.9" fill="#a0a0a0" />
<circle cx="655.7" cy="629.3" r="2.9" fill="#6c6c6c" />
<circle cx="662.1" cy="630.1" r="2.9" fill="#3c3c3c" />
<circle cx="662.1" cy="625.7" r="2.9" fill="#000000" />
<circle cx="668.5" cy="631.5" r="2.9" fill="#3c3c3c" />
<circle cx="668.5" cy="627.1" r="2.9" fill="#000000" />
<circle cx="674.9" cy="632.3" r="2.9" fill="#3c3c3c" />
<circle cx="674.9" cy="627.9" r="2.9" fill="#000000" />
<circle cx="681.3" cy="633.0" r="2.9" fill="#3c3c3c" />
<circle cx="681.3" cy="628.6" r="2.9" fill="#000000" />
<circle cx="687.7" cy="630.7" r="2.9" fill="#000000" />
<circle cx="694.1" cy="631.5" r="2.9" fill="#3c3c3c" />
<circle cx="694.1" cy="627.1" r="2.9" fill="#000000" />
<circle cx="700.5" cy="633.8" r="2.9" fill="#7c7c7c" />
<circle cx="700.5" cy="629.4" r="2.9" fill="#3c3c3c" />
<circle cx="700.5" cy="625.0" r="2.9" fill="#000000" />
<circle cx="706.9" cy="631.7" r="2.9" fill="#7c7c7c" />
<circle cx="706.9" cy="627.3" r="2.9" fill="#3c3c3c" />
<circle cx="706.9" cy="622.9" r="2.9" fill="#000000" />
<circle cx="713.3" cy="633.9" r="2.9" fill="#b8b8b8" />
<circle cx="713.3" cy="629.5" r="2.9" fill="#7c7c7c" />
<circle cx="713.3" cy="625.1" r="2.9" fill="#3c3c3c" />
<circle cx="713.3" cy="620.7" r="2.9" fill="#000000" />
<circle cx="719.7" cy="633.3" r="2.9" fill="#e8e8e8" />
<circle cx="719.7" cy="628.9" r="2.9" fill="#b8b8b8" />
<circle cx="719.7" cy="624.5" r="2.9" fill="#7c7c7c" />
<circle cx="719.7" cy="620.1" r="2.9" fill="#3c3c3c" />
<circle cx="719.7" cy="615.7" r="2.9" fill="#000000" />
<circle cx="726.1" cy="633.3" r="2.9" fill="#e8e8e8" />
<circle cx="726.1" cy="628.9" r="2.9" fill="#b8b8b8" />
<circle cx="726.1" cy="624.5" r="2.9" fill="#7c7c7c" />
<circle cx="726.1" cy="620.1" r="2.9" fill="#3c3c3c" />
<circle cx="726.1" cy="615.7" r="2.9" fill="#000000" />
<circle cx="732.5" cy="634.0" r="2.9" fill="#e8e8e8" />
<circle cx="732.5" cy="629.6" r="2.9" fill="#b8b8b8" />
<circle cx="732.5" cy="625.2" r="2.9" fill="#7c7c7c" />
<circle cx="732.5" cy="620.8" r="2.9" fill="#3c3c3c" />
<circle cx="732.5" cy="616.4" r="2.9" fill="#000000" />
<circle cx="738.9" cy="631.1" r="2.9" fill="#ffffff" />
<circle cx="738.9" cy="626.7" r="2.9" fill="#d8d8d8" />
<circle cx="738.9" cy="622.3" r="2.9" fill="#a0a0a0" />
<circle cx="738.9" cy="617.9" r="2.9" fill="#6c6c6c" />
<circle cx="745.3" cy="634.0" r="2.9" fill="#e8e8e8" />
<circle cx="745.3" cy="629.6" r="2.9" fill="#b8b8b8" />
<circle cx="745.3" cy="625.2" r="2.9" fill="#7c7c7c" />
<circle cx="745.3" cy="620.8" r="2.9" fill="#3c3c3c" />
<circle cx="745.3" cy="616.4" r="2.9" fill="#000000" />
<circle cx="751.7" cy="630.2" r="2.9" fill="#7c7c7c" />
<circle cx="751.7" cy="625.8" r="2.9" fill="#3c3c3c" />
<circle cx="751.7" cy="621.4" r="2.9" fill="#000000" />
<circle cx="758.1" cy="631.7" r="2.9" fill="#7c7c7c" />
<circle cx="758.1" cy="627.3" r="2.9" fill="#3c3c3c" />
<circle cx="758.1" cy="622.9" r="2.9" fill="#000000" />
<circle cx="764.5" cy="631.4" r="2.9" fill="#000" />
<circle cx="770.9" cy="632.9" r="2.9" fill="#000" />
<circle cx="777.3" cy="632.1" r="2.9" fill="#000" />
<circle cx="783.7" cy="632.1" r="2.9" fill="#000" />
<circle cx="790.1" cy="632.1" r="2.9" fill="#000" />
<circle cx="796.5" cy="632.1" r="2.9" fill="#000" />
<circle cx="802.9" cy="632.1" r="2.9" fill="#000" />
<circle cx="809.3" cy="632.1" r="2.9" fill="#000" />
<circle cx="815.7" cy="632.1" r="2.9" fill="#000" />
<circle cx="822.1" cy="632.1" r="2.9" fill="#000" />
<circle cx="828.5" cy="632.1" r="2.9" fill="#000" />
<circle cx="834.9" cy="632.1" r="2.9" fill="#000" />
<circle cx="841.3" cy="632.1" r="2.9" fill="#000" />
<circle cx="527.7" cy="615.7" r="2.9" fill="#b01c22" />
<circle cx="534.1" cy="615.7" r="2.9" fill="#b01c22" />
<circle cx="540.5" cy="613.6" r="2.9" fill="#b01c22" />
<circle cx="546.9" cy="612.6" r="2.9" fill="#b01c22" />
<circle cx="553.3" cy="612.1" r="2.9" fill="#b01c22" />
<circle cx="559.7" cy="612.6" r="2.9" fill="#b01c22" />
<circle cx="566.1" cy="611.1" r="2.9" fill="#b01c22" />
<circle cx="572.5" cy="610.7" r="2.9" fill="#b01c22" />
<circle cx="578.9" cy="610.0" r="2.9" fill="#b01c22" />
<circle cx="598.1" cy="613.6" r="2.9" fill="#b01c22" />
<circle cx="604.5" cy="617.9" r="2.9" fill="#b01c22" />
<circle cx="610.9" cy="617.9" r="2.9" fill="#b01c22" />
<circle cx="617.3" cy="617.9" r="2.9" fill="#b01c22" />
<circle cx="630.1" cy="617.1" r="2.9" fill="#b01c22" />
<circle cx="636.5" cy="620.0" r="2.9" fill="#b01c22" />
<circle cx="642.9" cy="617.9" r="2.9" fill="#b01c22" />
<circle cx="649.3" cy="616.4" r="2.9" fill="#b01c22" />
<polyline points="348.3,589.8 361.5,593.4 371.1,596.7 380.7,625.5 387.6,627.5 393.9,603.6 401.3,611.8 406.8,630.2 419.2,632.4 426.0,607.7 432.9,596.7 438.4,598.1 449.4,594.8 468.6,595.3 482.4,591.8 509.8,595.3 534.6,581.6 542.8,576.1 559.3,574.2 590.0,573.8 611.0,578.0 629.2,579.4 646.0,585.0 668.5,590.6 686.7,595.4 693.7,590.6 700.7,577.5 716.1,575.8 746.9,576.6 757.9,580.0 765.0,592.9 776.4,633.6 841.3,634.3" fill="none" stroke="#f4a010" stroke-width="2.2" stroke-linejoin="round" stroke-linecap="round" />
</g>
<rect x="348.5" y="557.5" width="493" height="79.0" fill="none" stroke="#111" stroke-width="1"/>
<line x1="348.50" y1="636.80" x2="841.30" y2="636.80" stroke="#222" stroke-width="1.6" />
<rect x="348.50" y="645.50" width="492.80" height="14.50" fill="#86cdf9" />
<rect x="349.00" y="645.50" width="26.80" height="14.50" fill="#000" opacity="0.08"/>
<rect x="445.90" y="645.50" width="83.50" height="14.50" fill="#000" opacity="0.08"/>
<rect x="599.50" y="645.50" width="83.50" height="14.50" fill="#000" opacity="0.08"/>
<rect x="753.10" y="645.50" width="83.50" height="14.50" fill="#000" opacity="0.08"/>
<polygon points="348.6,660.0 350.0,652.0 353.0,646.5 368.0,646.0 382.0,648.5 395.0,646.0 410.0,647.0 430.0,650.0 447.0,652.0 452.0,660.0" fill="#5a5a5a" />
<polygon points="500.0,660.0 502.0,650.0 510.0,646.0 530.0,646.0 548.0,649.0 560.0,646.0 575.0,652.0 581.0,660.0" fill="#5a5a5a" />
<polygon points="617.0,660.0 620.0,652.0 630.0,646.5 648.0,652.0 665.0,650.0 690.0,646.0 705.0,648.0 720.0,655.0 725.0,660.0" fill="#5a5a5a" />
<polygon points="660.0,660.0 680.0,652.0 700.0,650.0 712.0,660.0" fill="#3c3c3c" />
<polygon points="763.0,660.0 768.0,650.0 780.0,646.0 841.3,646.0 841.3,660.0" fill="#4e4e4e" />
<rect x="774.50" y="654.00" width="2.60" height="6.00" fill="#f8b400" />
<rect x="781.80" y="648.00" width="2.60" height="12.00" fill="#f8b400" />
<rect x="794.50" y="648.00" width="2.60" height="12.00" fill="#f8b400" />
<rect x="801.80" y="648.00" width="2.60" height="12.00" fill="#f8b400" />
<rect x="807.40" y="648.00" width="2.60" height="12.00" fill="#f8b400" />
<rect x="812.80" y="648.00" width="2.60" height="12.00" fill="#f8b400" />
<rect x="820.20" y="648.00" width="2.60" height="12.00" fill="#f8b400" />
<rect x="827.40" y="648.00" width="2.60" height="12.00" fill="#f8b400" />
<rect x="834.50" y="648.00" width="2.60" height="12.00" fill="#f8b400" />
<line x1="361.50" y1="645.50" x2="361.50" y2="660.00" stroke="#000" stroke-width="1" stroke-dasharray="2,2"/>
<line x1="380.50" y1="645.50" x2="380.50" y2="660.00" stroke="#000" stroke-width="1" stroke-dasharray="2,2"/>
<line x1="399.50" y1="645.50" x2="399.50" y2="660.00" stroke="#000" stroke-width="1" stroke-dasharray="2,2"/>
<line x1="418.50" y1="645.50" x2="418.50" y2="660.00" stroke="#000" stroke-width="1" stroke-dasharray="2,2"/>
<line x1="438.50" y1="645.50" x2="438.50" y2="660.00" stroke="#000" stroke-width="1" stroke-dasharray="2,2"/>
<line x1="457.50" y1="645.50" x2="457.50" y2="660.00" stroke="#000" stroke-width="1" stroke-dasharray="2,2"/>
<line x1="476.50" y1="645.50" x2="476.50" y2="660.00" stroke="#000" stroke-width="1" stroke-dasharray="2,2"/>
<line x1="495.50" y1="645.50" x2="495.50" y2="660.00" stroke="#000" stroke-width="1" stroke-dasharray="2,2"/>
<line x1="514.50" y1="645.50" x2="514.50" y2="660.00" stroke="#000" stroke-width="1" stroke-dasharray="2,2"/>
<line x1="534.50" y1="645.50" x2="534.50" y2="660.00" stroke="#000" stroke-width="1" stroke-dasharray="2,2"/>
<line x1="553.50" y1="645.50" x2="553.50" y2="660.00" stroke="#000" stroke-width="1" stroke-dasharray="2,2"/>
<line x1="572.50" y1="645.50" x2="572.50" y2="660.00" stroke="#000" stroke-width="1" stroke-dasharray="2,2"/>
<line x1="591.50" y1="645.50" x2="591.50" y2="660.00" stroke="#000" stroke-width="1" stroke-dasharray="2,2"/>
<line x1="610.50" y1="645.50" x2="610.50" y2="660.00" stroke="#000" stroke-width="1" stroke-dasharray="2,2"/>
<line x1="630.50" y1="645.50" x2="630.50" y2="660.00" stroke="#000" stroke-width="1" stroke-dasharray="2,2"/>
<line x1="649.50" y1="645.50" x2="649.50" y2="660.00" stroke="#000" stroke-width="1" stroke-dasharray="2,2"/>
<line x1="668.50" y1="645.50" x2="668.50" y2="660.00" stroke="#000" stroke-width="1" stroke-dasharray="2,2"/>
<line x1="687.50" y1="645.50" x2="687.50" y2="660.00" stroke="#000" stroke-width="1" stroke-dasharray="2,2"/>
<line x1="706.50" y1="645.50" x2="706.50" y2="660.00" stroke="#000" stroke-width="1" stroke-dasharray="2,2"/>
<line x1="726.50" y1="645.50" x2="726.50" y2="660.00" stroke="#000" stroke-width="1" stroke-dasharray="2,2"/>
<line x1="745.50" y1="645.50" x2="745.50" y2="660.00" stroke="#000" stroke-width="1" stroke-dasharray="2,2"/>
<line x1="764.50" y1="645.50" x2="764.50" y2="660.00" stroke="#000" stroke-width="1" stroke-dasharray="2,2"/>
<line x1="783.50" y1="645.50" x2="783.50" y2="660.00" stroke="#000" stroke-width="1" stroke-dasharray="2,2"/>
<line x1="802.50" y1="645.50" x2="802.50" y2="660.00" stroke="#000" stroke-width="1" stroke-dasharray="2,2"/>
<line x1="822.50" y1="645.50" x2="822.50" y2="660.00" stroke="#000" stroke-width="1" stroke-dasharray="2,2"/>
<line x1="348.50" y1="646.00" x2="841.30" y2="646.00" stroke="#000" stroke-width="1.2" />
<line x1="348.50" y1="645.50" x2="348.50" y2="660.00" stroke="#000" stroke-width="1.2" />
<line x1="841.30" y1="645.50" x2="841.30" y2="660.00" stroke="#000" stroke-width="1.2" />
<text x="290.00" y="133.00" fill="#1a1a9c" font-size="12.2" text-anchor="start" textLength="146.5" lengthAdjust="spacingAndGlyphs" >wschód słońca: 06:16 CET</text>
<text x="291.40" y="145.50" fill="#1a1a9c" font-size="12.2" text-anchor="start" textLength="143.6" lengthAdjust="spacingAndGlyphs" >zachód słońca: 17:13 CET</text>
<text x="531.40" y="133.00" fill="#1a1a9c" font-size="12.2" text-anchor="start" textLength="128.2" lengthAdjust="spacingAndGlyphs" >21°40'27"E, 54°10'38"N</text>
<text x="554.70" y="145.50" fill="#1a1a9c" font-size="12.2" text-anchor="start" textLength="81.8" lengthAdjust="spacingAndGlyphs" >(x=260,  y=350)</text>
<text x="739.20" y="133.00" fill="#1a1a9c" font-size="12.2" text-anchor="start" textLength="158.1" lengthAdjust="spacingAndGlyphs" >wysokość (min, środek, max)</text>
<text x="773.70" y="145.50" fill="#1a1a9c" font-size="12.2" text-anchor="start" textLength="88.4" lengthAdjust="spacingAndGlyphs" >75 - 128 - 153 m</text>
<text x="418.90" y="161.40" fill="#000" font-size="12.4" text-anchor="middle" textLength="59.3" lengthAdjust="spacingAndGlyphs" >wto, 03.03</text>
<text x="572.50" y="161.40" fill="#000" font-size="12.4" text-anchor="middle" textLength="59.3" lengthAdjust="spacingAndGlyphs" >śro, 04.03</text>
<text x="726.10" y="161.40" fill="#000" font-size="12.4" text-anchor="middle" textLength="59.3" lengthAdjust="spacingAndGlyphs" >czw, 05.03</text>
<text x="361.50" y="174.50" fill="#000" font-size="12.4" text-anchor="middle" >04</text>
<text x="399.90" y="174.50" fill="#000" font-size="12.4" text-anchor="middle" >10</text>
<text x="438.30" y="174.50" fill="#000" font-size="12.4" text-anchor="middle" >16</text>
<text x="476.70" y="174.50" fill="#000" font-size="12.4" text-anchor="middle" >22</text>
<text x="515.10" y="174.50" fill="#000" font-size="12.4" text-anchor="middle" >04</text>
<text x="553.50" y="174.50" fill="#000" font-size="12.4" text-anchor="middle" >10</text>
<text x="591.90" y="174.50" fill="#000" font-size="12.4" text-anchor="middle" >16</text>
<text x="630.30" y="174.50" fill="#000" font-size="12.4" text-anchor="middle" >22</text>
<text x="668.70" y="174.50" fill="#000" font-size="12.4" text-anchor="middle" >04</text>
<text x="707.10" y="174.50" fill="#000" font-size="12.4" text-anchor="middle" >10</text>
<text x="745.50" y="174.50" fill="#000" font-size="12.4" text-anchor="middle" >16</text>
<text x="783.90" y="174.50" fill="#000" font-size="12.4" text-anchor="middle" >22</text>
<text x="822.30" y="174.50" fill="#000" font-size="12.4" text-anchor="middle" >04</text>
<text x="306.40" y="174.50" fill="#000" font-size="12.4" text-anchor="start" textLength="24.5" lengthAdjust="spacingAndGlyphs" >CET</text>
<text x="859.60" y="174.50" fill="#000" font-size="12.4" text-anchor="start" textLength="24" lengthAdjust="spacingAndGlyphs" >CET</text>
<text x="344.50" y="197.80" fill="#000" font-size="10.5" text-anchor="end" stroke="#000" stroke-width="0.2">5</text>
<text x="845.50" y="197.80" fill="#000" font-size="10.5" text-anchor="start" stroke="#000" stroke-width="0.2">5</text>
<text x="344.50" y="224.20" fill="#000" font-size="10.5" text-anchor="end" stroke="#000" stroke-width="0.2">0</text>
<text x="845.50" y="224.20" fill="#000" font-size="10.5" text-anchor="start" stroke="#000" stroke-width="0.2">0</text>
<text x="344.50" y="251.10" fill="#000" font-size="10.5" text-anchor="end" stroke="#000" stroke-width="0.2">-5</text>
<text x="845.50" y="251.10" fill="#000" font-size="10.5" text-anchor="start" stroke="#000" stroke-width="0.2">-5</text>
<text x="344.50" y="270.00" fill="#000" font-size="10.5" text-anchor="end" stroke="#000" stroke-width="0.2">5</text>
<text x="344.50" y="285.02" fill="#000" font-size="10.5" text-anchor="end" stroke="#000" stroke-width="0.2">4</text>
<text x="344.50" y="300.04" fill="#000" font-size="10.5" text-anchor="end" stroke="#000" stroke-width="0.2">3</text>
<text x="344.50" y="315.06" fill="#000" font-size="10.5" text-anchor="end" stroke="#000" stroke-width="0.2">2</text>
<text x="344.50" y="330.08" fill="#000" font-size="10.5" text-anchor="end" stroke="#000" stroke-width="0.2">1</text>
<text x="344.50" y="345.10" fill="#000" font-size="10.5" text-anchor="end" stroke="#000" stroke-width="0.2">0</text>
<text x="845.50" y="270.00" fill="#e2501c" font-size="10.5" text-anchor="start" stroke="#e2501c" stroke-width="0.2">100</text>
<text x="845.50" y="285.02" fill="#e2501c" font-size="10.5" text-anchor="start" stroke="#e2501c" stroke-width="0.2">95</text>
<text x="845.50" y="300.04" fill="#e2501c" font-size="10.5" text-anchor="start" stroke="#e2501c" stroke-width="0.2">90</text>
<text x="845.50" y="315.06" fill="#e2501c" font-size="10.5" text-anchor="start" stroke="#e2501c" stroke-width="0.2">85</text>
<text x="845.50" y="330.08" fill="#e2501c" font-size="10.5" text-anchor="start" stroke="#e2501c" stroke-width="0.2">80</text>
<text x="845.50" y="345.10" fill="#e2501c" font-size="10.5" text-anchor="start" stroke="#e2501c" stroke-width="0.2">75</text>
<text x="344.50" y="354.30" fill="#000" font-size="10.5" text-anchor="end" stroke="#000" stroke-width="0.2">1030</text>
<text x="344.50" y="374.90" fill="#000" font-size="10.5" text-anchor="end" stroke="#000" stroke-width="0.2">1025</text>
<text x="344.50" y="395.50" fill="#000" font-size="10.5" text-anchor="end" stroke="#000" stroke-width="0.2">1020</text>
<text x="344.50" y="416.10" fill="#000" font-size="10.5" text-anchor="end" stroke="#000" stroke-width="0.2">1015</text>
<text x="845.50" y="354.30" fill="#000" font-size="10.5" text-anchor="start" stroke="#000" stroke-width="0.2">772</text>
<text x="845.50" y="374.90" fill="#000" font-size="10.5" text-anchor="start" stroke="#000" stroke-width="0.2">769</text>
<text x="845.50" y="395.50" fill="#000" font-size="10.5" text-anchor="start" stroke="#000" stroke-width="0.2">765</text>
<text x="845.50" y="416.10" fill="#000" font-size="10.5" text-anchor="start" stroke="#000" stroke-width="0.2">761</text>
<text x="344.50" y="441.30" fill="#000" font-size="10.5" text-anchor="end" stroke="#000" stroke-width="0.2">15</text>
<text x="344.50" y="467.40" fill="#000" font-size="10.5" text-anchor="end" stroke="#000" stroke-width="0.2">10</text>
<text x="344.50" y="493.20" fill="#000" font-size="10.5" text-anchor="end" stroke="#000" stroke-width="0.2">5</text>
<text x="344.50" y="518.40" fill="#000" font-size="10.5" text-anchor="end" stroke="#000" stroke-width="0.2">0</text>
<text x="845.50" y="441.30" fill="#000" font-size="10.5" text-anchor="start" stroke="#000" stroke-width="0.2">54</text>
<text x="845.50" y="467.40" fill="#000" font-size="10.5" text-anchor="start" stroke="#000" stroke-width="0.2">36</text>
<text x="845.50" y="493.20" fill="#000" font-size="10.5" text-anchor="start" stroke="#000" stroke-width="0.2">18</text>
<text x="845.50" y="518.40" fill="#000" font-size="10.5" text-anchor="start" stroke="#000" stroke-width="0.2">0</text>
<text x="344.50" y="561.50" fill="#000" font-size="10.5" text-anchor="end" stroke="#000" stroke-width="0.2">15.0</text>
<text x="344.50" y="580.80" fill="#000" font-size="10.5" text-anchor="end" stroke="#000" stroke-width="0.2">7.0</text>
<text x="344.50" y="601.30" fill="#000" font-size="10.5" text-anchor="end" stroke="#000" stroke-width="0.2">2.0</text>
<text x="344.50" y="620.30" fill="#000" font-size="10.5" text-anchor="end" stroke="#000" stroke-width="0.2">0.5</text>
<text x="344.50" y="639.40" fill="#000" font-size="10.5" text-anchor="end" stroke="#000" stroke-width="0.2">0.0</text>
<text x="845.50" y="561.50" fill="#f08a00" font-size="10.5" text-anchor="start" stroke="#f08a00" stroke-width="0.2">100</text>
<text x="845.50" y="580.80" fill="#f08a00" font-size="10.5" text-anchor="start" stroke="#f08a00" stroke-width="0.2">20</text>
<text x="845.50" y="601.30" fill="#f08a00" font-size="10.5" text-anchor="start" stroke="#f08a00" stroke-width="0.2">5</text>
<text x="845.50" y="620.30" fill="#f08a00" font-size="10.5" text-anchor="start" stroke="#f08a00" stroke-width="0.2">1</text>
<text x="845.50" y="639.40" fill="#f08a00" font-size="10.5" text-anchor="start" stroke="#f08a00" stroke-width="0.2">0</text>
<text x="344.50" y="649.30" fill="#000" font-size="10.5" text-anchor="end" stroke="#000" stroke-width="0.2">8</text>
<text x="845.50" y="649.10" fill="#f08a00" font-size="10.5" text-anchor="start" stroke="#f08a00" stroke-width="0.2">1</text>
<text transform="translate(293.3,216.0) rotate(-90)" fill="#1a1a9c" font-size="12" text-anchor="middle" textLength="66.7" lengthAdjust="spacingAndGlyphs">temperatura</text>
<text transform="translate(306.0,217.0) rotate(-90)" fill="#1a1a9c" font-size="12" text-anchor="middle">(°C)</text>
<text transform="translate(293.3,304.6) rotate(-90)" fill="#1a1a9c" font-size="12" text-anchor="middle">opad</text>
<text transform="translate(305.5,305.3) rotate(-90)" fill="#1a1a9c" font-size="12" text-anchor="middle" textLength="84" lengthAdjust="spacingAndGlyphs">(mm/h, kg/m²/h)</text>
<text transform="translate(293.3,394.0) rotate(-90)" fill="#1a1a9c" font-size="12" text-anchor="middle">ciśnienie</text>
<text transform="translate(305.5,394.0) rotate(-90)" fill="#1a1a9c" font-size="12" text-anchor="middle">(hPa)</text>
<text transform="translate(293.3,482.0) rotate(-90)" fill="#1a1a9c" font-size="12" text-anchor="middle">wiatr</text>
<text transform="translate(305.5,482.0) rotate(-90)" fill="#1a1a9c" font-size="12" text-anchor="middle">(m/s)</text>
<text transform="translate(293.3,594.5) rotate(-90)" fill="#1a1a9c" font-size="12" text-anchor="middle" textLength="102" lengthAdjust="spacingAndGlyphs">pion. rozciągł. chm.</text>
<text transform="translate(307.5,594.5) rotate(-90)" fill="#1a1a9c" font-size="12" text-anchor="middle">(km)</text>
<text transform="translate(892.7,216.5) rotate(-90)" fill="#1a1a9c" font-size="12" text-anchor="middle">(°C)</text>
<text transform="translate(905.5,217.0) rotate(-90)" fill="#1a1a9c" font-size="12" text-anchor="middle" textLength="66.7" lengthAdjust="spacingAndGlyphs">temperatura</text>
<text transform="translate(892.7,305.6) rotate(-90)" fill="#1a1a9c" font-size="12" text-anchor="middle">(%)</text>
<text transform="translate(905.5,305.0) rotate(-90)" fill="#1a1a9c" font-size="12" text-anchor="middle" textLength="84.6" lengthAdjust="spacingAndGlyphs">wilgotność wzgl.</text>
<text transform="translate(892.7,393.4) rotate(-90)" fill="#1a1a9c" font-size="12" text-anchor="middle">(mm Hg)</text>
<text transform="translate(905.5,392.5) rotate(-90)" fill="#1a1a9c" font-size="12" text-anchor="middle">ciśnienie</text>
<text transform="translate(892.7,481.4) rotate(-90)" fill="#1a1a9c" font-size="12" text-anchor="middle">(km/h)</text>
<text transform="translate(905.5,482.3) rotate(-90)" fill="#1a1a9c" font-size="12" text-anchor="middle">wiatr</text>
<text transform="translate(892.7,593.7) rotate(-90)" fill="#1a1a9c" font-size="12" text-anchor="middle">(km)</text>
<text transform="translate(905.5,595.5) rotate(-90)" fill="#1a1a9c" font-size="12" text-anchor="middle" textLength="63" lengthAdjust="spacingAndGlyphs">widzialność</text>
<text transform="translate(293.3,659) rotate(-90)" fill="#1a1a9c" font-size="12">e</text>
<text x="283.30" y="539.60" fill="#1a1a9c" font-size="12.4" text-anchor="start" >W</text>
<text x="294.30" y="530.90" fill="#1a1a9c" font-size="11.2" text-anchor="start" >N</text>
<text x="300.90" y="539.60" fill="#1a1a9c" font-size="11.2" text-anchor="start" >E</text>
<text x="294.10" y="548.00" fill="#1a1a9c" font-size="11.6" text-anchor="start" >S</text>
<text x="882.50" y="539.60" fill="#1a1a9c" font-size="12.4" text-anchor="start" >W</text>
<text x="893.50" y="530.90" fill="#1a1a9c" font-size="11.2" text-anchor="start" >N</text>
<text x="900.10" y="539.60" fill="#1a1a9c" font-size="11.2" text-anchor="start" >E</text>
<text x="893.30" y="548.00" fill="#1a1a9c" font-size="11.6" text-anchor="start" >S</text>
<defs>
<linearGradient id="bnr" x1="0" y1="0" x2="1" y2="0">
 <stop offset="0" stop-color="#1752a6"/><stop offset="0.36" stop-color="#1650a6"/>
 <stop offset="0.42" stop-color="#2460b0"/><stop offset="0.47" stop-color="#3674bd"/><stop offset="0.5" stop-color="#3a78c0"/><stop offset="0.56" stop-color="#3472bc"/>
 <stop offset="0.68" stop-color="#3470ba"/><stop offset="0.74" stop-color="#2a64b0"/><stop offset="0.8" stop-color="#1a54a6"/><stop offset="1" stop-color="#1550a4"/>
</linearGradient>
<radialGradient id="blob" cx="0.5" cy="0.5" r="0.5"><stop offset="0" stop-color="#3e78bc" stop-opacity="0.9"/><stop offset="1" stop-color="#3e78bc" stop-opacity="0"/></radialGradient>
<radialGradient id="dblob" cx="0.5" cy="0.5" r="0.5"><stop offset="0" stop-color="#0e4498" stop-opacity="0.8"/><stop offset="1" stop-color="#0e4498" stop-opacity="0"/></radialGradient>
<linearGradient id="frame" x1="0" y1="0" x2="1" y2="0"><stop offset="0" stop-color="#6a6a6a"/><stop offset="0.06" stop-color="#1c1c1c"/><stop offset="0.94" stop-color="#1c1c1c"/><stop offset="1" stop-color="#5a5a5a"/></linearGradient>
<linearGradient id="scr1" x1="0" y1="0" x2="0" y2="1"><stop offset="0" stop-color="#0b1c40"/><stop offset="1" stop-color="#10306a"/></linearGradient>
</defs>
<rect x="280.00" y="0.00" width="630.00" height="120.00" fill="url(#bnr)" />
<clipPath id="cpB0"><rect x="280" y="0" width="630" height="120"/></clipPath>
<g clip-path="url(#cpB0)">
<ellipse cx="835" cy="28" rx="75" ry="42" fill="url(#blob)"/>
<ellipse cx="790" cy="70" rx="45" ry="40" fill="url(#dblob)"/>
<ellipse cx="880" cy="110" rx="60" ry="30" fill="url(#dblob)"/>
</g>
<text x="311.40" y="39.40" fill="#fff" font-size="19.4" text-anchor="start" textLength="157" lengthAdjust="spacingAndGlyphs" stroke="#fff" stroke-width="0.35">Oficjalna aplikacja</text>
<text x="311.4" y="66.6" fill="#fff" stroke="#fff" stroke-width="0.35" font-size="19.4" textLength="210" lengthAdjust="spacingAndGlyphs"><tspan font-weight="bold">Meteo ICM</tspan> do pobrania</text>
<text x="311.40" y="95.10" fill="#fff" font-size="19.4" text-anchor="start" textLength="225" lengthAdjust="spacingAndGlyphs" stroke="#fff" stroke-width="0.35">w Google Play i App Store</text>
<clipPath id="cpB"><rect x="280" y="0" width="630" height="120"/></clipPath><g clip-path="url(#cpB)">
<rect x="592.5" y="6.5" width="51" height="125" rx="9" fill="url(#frame)"/>
<rect x="595.5" y="9.5" width="45" height="125" rx="7" fill="#0a0a0c"/>
<path d="M595.5 17 Q595.5 9.5 603 9.5 L633 9.5 Q640.5 9.5 640.5 17 L640.5 57 L595.5 57 Z" fill="url(#scr1)"/>
<g stroke="#2a4a80" stroke-width="0.5" fill="none" opacity="0.7"><path d="M596 30 Q615 20 640 34"/><path d="M596 38 Q618 28 640 42"/><path d="M596 46 Q620 36 640 50"/></g>
<rect x="612" y="12" width="13" height="4" rx="2" fill="#000"/>
<rect x="600" y="20.5" width="30" height="6" rx="2" fill="#101418"/>
<circle cx="636" cy="23.5" r="3" fill="#101418"/>
<text x="621" y="44" fill="#fff" font-size="6.5">2.5°</text>
<path d="M611 42 q0 -4 4 -4 q3 0 3.5 3 q2.5 0 2.5 2.2 q0 1.8 -2 1.8 h-6 q-2 0 -2 -3z" fill="none" stroke="#9ab" stroke-width="0.7"/>
<rect x="609" y="50" width="7" height="3.5" rx="1" fill="#1c3a6a"/><rect x="619" y="50" width="7" height="3.5" rx="1" fill="#1c3a6a"/>
<rect x="598.5" y="61" width="39" height="22" rx="1.5" fill="#16181c"/>
<rect x="598.5" y="86" width="39" height="10" rx="1.5" fill="#16181c"/>
<rect x="598.5" y="99" width="39" height="10" rx="1.5" fill="#16181c"/>
<rect x="598.5" y="111" width="39" height="10" rx="1.5" fill="#16181c"/>
<rect x="598.5" y="123" width="39" height="10" rx="1.5" fill="#16181c"/>
<rect x="601" y="64" width="6" height="5" rx="1" fill="#2a3a5a"/><rect x="610" y="64" width="6" height="5" rx="1" fill="#2a3a5a"/>
<rect x="649.5" y="21" width="51" height="115" rx="9" fill="url(#frame)"/>
<rect x="652.5" y="24" width="45" height="110" rx="7" fill="#42423e"/>
<path d="M668 62 Q678 58 684 70 Q690 82 686 96 Q680 108 672 100 Q664 88 668 62Z" fill="#9a9280" opacity="0.75"/>
<path d="M674 70 Q682 72 683 84 Q682 94 676 90 Q671 80 674 70Z" fill="#c0b498" opacity="0.7"/><path d="M655 80 Q662 84 660 100 L655 104Z" fill="#5e5c54"/>
<path d="M653 50 Q668 58 684 52 L697 56 L697 66 Q675 72 653 62 Z" fill="#3c3c3a"/>
<rect x="654.5" y="37" width="31" height="8" rx="2" fill="#d4d4d4"/>
<circle cx="690" cy="39" r="4.2" fill="#eeeeee"/>
<rect x="668" y="26" width="13" height="4" rx="2" fill="#000"/>
<circle cx="665" cy="28" r="1.5" fill="#5c5"/>
<rect x="622.7" y="45.5" width="51.5" height="95" rx="9" fill="url(#frame)"/>
<rect x="625.5" y="48.5" width="46" height="90" rx="7" fill="#fbfbfb"/>
<rect x="640" y="50.5" width="13" height="4" rx="2" fill="#000"/>
<rect x="627.5" y="58" width="34" height="6.5" rx="2" fill="#2c2c2c"/>
<circle cx="666" cy="61" r="3.6" fill="#333"/>
<rect x="628" y="72" width="12" height="2" fill="#6a8ad0"/><rect x="656" y="71" width="10" height="2" fill="#6a8ad0"/>
<rect x="628" y="76" width="40" height="3" fill="#dde"/>
<path d="M628 82 L636 80 L644 79 L652 81 L660 78 L668 79 L668 88 L628 88Z" fill="#b8dcf2"/>
<rect x="628" y="83" width="40" height="5" fill="#8ccbe8"/>
<polyline points="628,81 635,80 642,79 650,81 660,78 668,79" fill="none" stroke="#d33" stroke-width="0.8"/>
<polyline points="628,83 636,82.5 644,82 652,83.5 660,82 668,82.5" fill="none" stroke="#33c" stroke-width="0.8"/>
<polyline points="629,92 633,98 638,95 644,99 650,95 656,96 662,93 667,94" fill="none" stroke="#e85" stroke-width="0.7"/>
<g stroke="#ccc" stroke-width="0.4"><line x1="631" y1="76" x2="631" y2="113"/><line x1="635" y1="76" x2="635" y2="113"/><line x1="639" y1="76" x2="639" y2="113"/><line x1="643" y1="76" x2="643" y2="113"/><line x1="647" y1="76" x2="647" y2="113"/><line x1="651" y1="76" x2="651" y2="113"/><line x1="655" y1="76" x2="655" y2="113"/><line x1="659" y1="76" x2="659" y2="113"/><line x1="663" y1="76" x2="663" y2="113"/><line x1="667" y1="76" x2="667" y2="113"/></g>
<polyline points="629,112 640,111 646,106 650,111 667,112" fill="none" stroke="#5b5" stroke-width="0.7"/>
<rect x="627" y="113.5" width="42" height="7" fill="#c0dc20"/>
<rect x="627" y="113.5" width="42" height="2.5" fill="#e8ec30"/>
<rect x="646" y="113.5" width="8" height="7" fill="#d8e830"/>
</g>
<path d="M770 67 C758 69 750 78 751 89 C751.5 96 758 99 768 95.5 C760 96 754.3 93 754.3 87 C754.3 78 761 70.5 770 67Z" fill="#fff"/>
<text x="764.8" y="90.5" fill="#fff" stroke="#fff" stroke-width="0.6" font-size="21" font-weight="bold" textLength="89.8" lengthAdjust="spacingAndGlyphs">icmmeteo</text>
<rect x="860.3" y="73.2" width="25.6" height="24.7" rx="2" fill="#fff"/>
<text x="864.2" y="91.3" fill="#1550a4" font-size="17.5" font-weight="bold" textLength="12.6" lengthAdjust="spacingAndGlyphs">M</text>
<circle cx="880.9" cy="79.8" r="1.8" fill="none" stroke="#1550a4" stroke-width="1.1"/>
<rect x="170.00" y="30.00" width="61.60" height="598.00" fill="#eaf1fb" />
<rect x="135.50" y="57.20" width="110.00" height="77.00" fill="#fff" />
<rect x="170.00" y="57.20" width="61.60" height="77.00" fill="#eaf1fb" />
<clipPath id="cpLT"><rect x="135.5" y="57.2" width="110.0" height="76.99999999999999"/></clipPath><g clip-path="url(#cpLT)">
<polygon points="135.5,88.0 136.5,88.5 137.5,88.9 138.5,89.4 139.5,89.9 140.5,90.4 141.5,90.7 142.5,91.0 143.5,91.3 144.5,91.5 145.5,91.8 146.5,92.1 147.5,92.4 148.5,92.6 149.5,92.9 150.5,93.2 151.5,93.4 152.5,93.7 153.5,94.0 154.5,94.2 155.5,94.5 156.5,94.8 157.5,95.0 158.5,95.3 159.5,95.6 160.5,95.9 161.5,96.1 162.5,96.4 163.5,96.7 164.5,97.0 165.5,97.5 166.5,98.0 167.5,98.4 168.5,98.9 169.5,99.3 170.5,99.8 171.5,100.3 172.5,100.7 173.5,101.2 174.5,101.7 175.5,102.1 176.5,102.6 177.5,103.1 178.5,103.5 179.5,104.0 180.5,104.4 181.5,104.9 182.5,105.4 183.5,105.7 184.5,105.9 185.5,106.1 186.5,106.3 187.5,106.5 188.5,106.7 189.5,107.0 190.5,107.2 191.5,107.4 192.5,107.6 193.5,107.8 194.5,108.0 195.5,108.2 196.5,108.4 197.5,108.6 198.5,108.8 199.5,109.0 200.5,109.2 201.5,109.4 202.5,109.7 203.5,109.9 204.5,110.1 205.5,110.3 206.5,110.5 207.5,110.7 208.5,110.8 209.5,110.9 210.5,111.0 211.5,111.1 212.5,111.1 213.5,111.2 214.5,111.3 215.5,111.4 216.5,111.4 217.5,111.5 218.5,111.6 219.5,111.6 220.5,111.7 221.5,111.8 222.5,111.9 223.5,111.9 224.5,112.0 225.5,112.1 226.5,112.2 227.5,112.2 228.5,112.3 229.5,112.4 230.5,112.5 231.5,112.5 232.5,112.6 233.5,112.1 234.5,111.5 235.5,111.0 236.5,110.4 237.5,109.9 238.5,109.4 239.5,108.8 240.5,108.3 241.5,107.8 242.5,107.2 243.5,106.7 244.5,106.1 245.5,105.6 245.5,111.2 244.5,111.7 243.5,112.3 242.5,112.8 241.5,113.3 240.5,113.9 239.5,114.4 238.5,115.0 237.5,115.7 236.5,116.3 235.5,116.9 234.5,117.5 233.5,118.2 232.5,118.8 231.5,118.4 230.5,118.0 229.5,117.7 228.5,117.3 227.5,116.9 226.5,116.5 225.5,116.1 224.5,116.0 223.5,115.9 222.5,115.9 221.5,115.8 220.5,115.7 219.5,115.6 218.5,115.5 217.5,115.5 216.5,115.4 215.5,115.3 214.5,115.2 213.5,115.1 212.5,115.1 211.5,115.0 210.5,114.9 209.5,114.8 208.5,114.7 207.5,114.7 206.5,114.6 205.5,114.5 204.5,114.5 203.5,114.4 202.5,114.3 201.5,114.3 200.5,114.2 199.5,114.1 198.5,114.1 197.5,114.0 196.5,113.9 195.5,113.9 194.5,113.8 193.5,113.7 192.5,113.7 191.5,113.6 190.5,113.5 189.5,113.4 188.5,113.2 187.5,113.1 186.5,112.9 185.5,112.8 184.5,112.6 183.5,112.5 182.5,112.3 181.5,112.2 180.5,112.0 179.5,111.8 178.5,111.7 177.5,111.5 176.5,111.4 175.5,111.2 174.5,111.1 173.5,110.9 172.5,110.7 171.5,110.0 170.5,109.4 169.5,108.8 168.5,108.2 167.5,107.5 166.5,106.9 165.5,106.3 164.5,105.6 163.5,105.0 162.5,104.6 161.5,104.3 160.5,104.1 159.5,103.8 158.5,103.6 157.5,103.3 156.5,103.1 155.5,102.8 154.5,102.6 153.5,102.3 152.5,102.1 151.5,101.8 150.5,101.6 149.5,101.3 148.5,101.1 147.5,100.8 146.5,100.5 145.5,100.2 144.5,100.0 143.5,99.7 142.5,99.4 141.5,99.1 140.5,99.0 139.5,99.0 138.5,99.0 137.5,98.9 136.5,98.9 135.5,98.9" fill="#ffe4dc" />
<polygon points="135.5,98.9 136.5,98.9 137.5,98.9 138.5,99.0 139.5,99.0 140.5,99.0 141.5,99.1 142.5,99.4 143.5,99.7 144.5,100.0 145.5,100.2 146.5,100.5 147.5,100.8 148.5,101.1 149.5,101.3 150.5,101.6 151.5,101.8 152.5,102.1 153.5,102.3 154.5,102.6 155.5,102.8 156.5,103.1 157.5,103.3 158.5,103.6 159.5,103.8 160.5,104.1 161.5,104.3 162.5,104.6 163.5,105.0 164.5,105.6 165.5,106.3 166.5,106.9 167.5,107.5 168.5,108.2 169.5,108.8 170.5,109.4 171.5,110.0 172.5,110.7 173.5,110.9 174.5,111.1 175.5,111.2 176.5,111.4 177.5,111.5 178.5,111.7 179.5,111.8 180.5,112.0 181.5,112.2 182.5,112.3 183.5,112.5 184.5,112.6 185.5,112.8 186.5,112.9 187.5,113.1 188.5,113.2 189.5,113.4 190.5,113.5 191.5,113.6 192.5,113.7 193.5,113.7 194.5,113.8 195.5,113.9 196.5,113.9 197.5,114.0 198.5,114.1 199.5,114.1 200.5,114.2 201.5,114.3 202.5,114.3 203.5,114.4 204.5,114.5 205.5,114.5 206.5,114.6 207.5,114.7 208.5,114.7 209.5,114.8 210.5,114.9 211.5,115.0 212.5,115.1 213.5,115.1 214.5,115.2 215.5,115.3 216.5,115.4 217.5,115.5 218.5,115.5 219.5,115.6 220.5,115.7 221.5,115.8 222.5,115.9 223.5,115.9 224.5,116.0 225.5,116.1 226.5,116.5 227.5,116.9 228.5,117.3 229.5,117.7 230.5,118.0 231.5,118.4 232.5,118.8 233.5,118.2 234.5,117.5 235.5,116.9 236.5,116.3 237.5,115.7 238.5,115.0 239.5,114.4 240.5,113.9 241.5,113.3 242.5,112.8 243.5,112.3 244.5,111.7 245.5,111.2 245.5,115.8 244.5,116.0 243.5,116.2 242.5,116.4 241.5,116.6 240.5,116.8 239.5,117.0 238.5,117.9 237.5,118.7 236.5,119.6 235.5,120.5 234.5,121.3 233.5,122.2 232.5,121.7 231.5,121.0 230.5,120.4 229.5,119.7 228.5,119.1 227.5,118.4 226.5,117.7 225.5,117.1 224.5,116.9 223.5,116.8 222.5,116.6 221.5,116.5 220.5,116.4 219.5,116.2 218.5,116.1 217.5,116.6 216.5,117.1 215.5,117.6 214.5,118.1 213.5,118.6 212.5,118.7 211.5,118.6 210.5,118.5 209.5,118.4 208.5,118.3 207.5,118.2 206.5,118.1 205.5,118.0 204.5,117.9 203.5,117.7 202.5,117.5 201.5,117.3 200.5,117.2 199.5,117.0 198.5,116.8 197.5,116.6 196.5,116.4 195.5,116.2 194.5,116.0 193.5,115.8 192.5,115.6 191.5,115.4 190.5,115.2 189.5,115.0 188.5,114.8 187.5,114.6 186.5,114.4 185.5,114.2 184.5,114.0 183.5,113.8 182.5,113.6 181.5,113.5 180.5,113.3 179.5,113.1 178.5,112.9 177.5,112.7 176.5,112.5 175.5,112.3 174.5,112.1 173.5,111.9 172.5,111.7 171.5,111.5 170.5,111.3 169.5,111.1 168.5,111.0 167.5,110.8 166.5,110.6 165.5,110.4 164.5,110.3 163.5,110.1 162.5,109.8 161.5,109.5 160.5,109.2 159.5,108.9 158.5,108.6 157.5,108.2 156.5,107.9 155.5,107.6 154.5,107.3 153.5,107.0 152.5,106.7 151.5,106.3 150.5,106.0 149.5,105.7 148.5,105.4 147.5,105.1 146.5,104.8 145.5,104.4 144.5,104.1 143.5,103.8 142.5,103.5 141.5,103.2 140.5,102.9 139.5,102.7 138.5,102.5 137.5,102.4 136.5,102.2 135.5,102.0" fill="#c4e6fe" />
<rect x="135.50" y="111.70" width="110.00" height="22.50" fill="#86ccf8" />
<rect x="170.00" y="111.70" width="61.60" height="22.50" fill="#000" opacity="0.09"/>
<polygon points="135.5,111.7 136.5,111.7 137.5,111.7 138.5,111.7 139.5,111.7 140.5,111.7 141.5,111.7 142.5,111.7 143.5,111.7 144.5,111.7 145.5,111.7 146.5,111.7 147.5,111.7 148.5,111.7 149.5,111.7 150.5,111.7 151.5,111.7 152.5,111.7 153.5,111.7 154.5,111.7 155.5,111.7 156.5,111.7 157.5,111.7 158.5,111.7 159.5,111.7 160.5,111.7 161.5,111.7 162.5,111.8 163.5,112.1 164.5,112.3 165.5,112.4 166.5,112.6 167.5,112.8 168.5,113.0 169.5,113.1 170.5,113.3 171.5,113.5 172.5,113.7 173.5,113.9 174.5,114.1 175.5,114.3 176.5,114.5 177.5,114.7 178.5,114.9 179.5,115.1 180.5,115.3 181.5,115.5 182.5,115.6 183.5,115.8 184.5,116.0 185.5,116.2 186.5,116.4 187.5,116.6 188.5,116.8 189.5,117.0 190.5,117.2 191.5,117.4 192.5,117.6 193.5,117.8 194.5,118.0 195.5,118.2 196.5,118.4 197.5,118.6 198.5,118.8 199.5,119.0 200.5,119.2 201.5,119.3 202.5,119.5 203.5,119.7 204.5,119.9 205.5,120.0 206.5,120.1 207.5,120.2 208.5,120.3 209.5,120.4 210.5,120.5 211.5,120.6 212.5,120.7 213.5,120.6 214.5,120.1 215.5,119.6 216.5,119.1 217.5,118.6 218.5,118.1 219.5,118.2 220.5,118.4 221.5,118.5 222.5,118.6 223.5,118.8 224.5,118.9 225.5,119.1 226.5,119.7 227.5,120.4 228.5,121.1 229.5,121.7 230.5,122.4 231.5,123.0 232.5,123.7 233.5,124.2 234.5,123.3 235.5,122.5 236.5,121.6 237.5,120.7 238.5,119.9 239.5,119.0 240.5,118.8 241.5,118.6 242.5,118.4 243.5,118.2 244.5,118.0 245.5,117.8 245.5,124.8 244.5,125.0 243.5,125.2 242.5,125.4 241.5,125.6 240.5,125.8 239.5,126.0 238.5,126.9 237.5,127.7 236.5,128.6 235.5,129.5 234.5,130.3 233.5,131.2 232.5,130.7 231.5,130.0 230.5,129.4 229.5,128.7 228.5,128.1 227.5,127.4 226.5,126.7 225.5,126.1 224.5,125.9 223.5,125.8 222.5,125.6 221.5,125.5 220.5,125.4 219.5,125.2 218.5,125.1 217.5,125.6 216.5,126.1 215.5,126.6 214.5,127.1 213.5,127.6 212.5,127.7 211.5,127.6 210.5,127.5 209.5,127.4 208.5,127.3 207.5,127.2 206.5,127.1 205.5,127.0 204.5,126.9 203.5,126.7 202.5,126.5 201.5,126.3 200.5,126.2 199.5,126.0 198.5,125.8 197.5,125.6 196.5,125.4 195.5,125.2 194.5,125.0 193.5,124.8 192.5,124.6 191.5,124.4 190.5,124.2 189.5,124.0 188.5,123.8 187.5,123.6 186.5,123.4 185.5,123.2 184.5,123.0 183.5,122.8 182.5,122.6 181.5,122.5 180.5,122.3 179.5,122.1 178.5,121.9 177.5,121.7 176.5,121.5 175.5,121.3 174.5,121.1 173.5,120.9 172.5,120.7 171.5,120.5 170.5,120.3 169.5,120.1 168.5,120.0 167.5,119.8 166.5,119.6 165.5,119.4 164.5,119.3 163.5,119.1 162.5,118.8 161.5,118.5 160.5,118.2 159.5,117.9 158.5,117.6 157.5,117.2 156.5,116.9 155.5,116.6 154.5,116.3 153.5,116.0 152.5,115.7 151.5,115.3 150.5,115.0 149.5,114.7 148.5,114.4 147.5,114.1 146.5,113.8 145.5,113.4 144.5,113.1 143.5,112.8 142.5,112.5 141.5,112.2 140.5,111.9 139.5,111.7 138.5,111.7 137.5,111.7 136.5,111.7 135.5,111.7" fill="#b9e0fc" opacity="0.8"/>
<polygon points="135.5,98.9 136.5,98.9 137.5,98.9 138.5,99.0 139.5,99.0 140.5,99.0 141.5,99.1 142.5,99.4 143.5,99.7 144.5,100.0 145.5,100.2 146.5,100.5 147.5,100.8 148.5,101.1 149.5,101.3 150.5,101.6 151.5,101.8 152.5,102.1 153.5,102.3 154.5,102.6 155.5,102.8 156.5,103.1 157.5,103.3 158.5,103.6 159.5,103.8 160.5,104.1 161.5,104.3 162.5,104.6 163.5,105.0 164.5,105.6 165.5,106.3 166.5,106.9 167.5,107.5 168.5,108.2 169.5,108.8 170.5,109.4 171.5,110.0 172.5,110.7 173.5,110.9 174.5,111.1 175.5,111.2 176.5,111.4 177.5,111.5 178.5,111.7 179.5,111.7 180.5,111.7 181.5,111.7 182.5,111.7 183.5,111.7 184.5,111.7 185.5,111.7 186.5,111.7 187.5,111.7 188.5,111.7 189.5,111.7 190.5,111.7 191.5,111.7 192.5,111.7 193.5,111.7 194.5,111.7 195.5,111.7 196.5,111.7 197.5,111.7 198.5,111.7 199.5,111.7 200.5,111.7 201.5,111.7 202.5,111.7 203.5,111.7 204.5,111.7 205.5,111.7 206.5,111.7 207.5,111.7 208.5,111.7 209.5,111.7 210.5,111.7 211.5,111.7 212.5,111.7 213.5,111.7 214.5,111.7 215.5,111.7 216.5,111.7 217.5,111.7 218.5,111.7 219.5,111.7 220.5,111.7 221.5,111.7 222.5,111.7 223.5,111.7 224.5,111.7 225.5,111.7 226.5,111.7 227.5,111.7 228.5,111.7 229.5,111.7 230.5,111.7 231.5,111.7 232.5,111.7 233.5,111.7 234.5,111.7 235.5,111.7 236.5,111.7 237.5,111.7 238.5,111.7 239.5,111.7 240.5,111.7 241.5,111.7 242.5,111.7 243.5,111.7 244.5,111.7 245.5,111.2 245.5,111.7 244.5,111.7 243.5,111.7 242.5,111.7 241.5,111.7 240.5,111.7 239.5,111.7 238.5,111.7 237.5,111.7 236.5,111.7 235.5,111.7 234.5,111.7 233.5,111.7 232.5,111.7 231.5,111.7 230.5,111.7 229.5,111.7 228.5,111.7 227.5,111.7 226.5,111.7 225.5,111.7 224.5,111.7 223.5,111.7 222.5,111.7 221.5,111.7 220.5,111.7 219.5,111.7 218.5,111.7 217.5,111.7 216.5,111.7 215.5,111.7 214.5,111.7 213.5,111.7 212.5,111.7 211.5,111.7 210.5,111.7 209.5,111.7 208.5,111.7 207.5,111.7 206.5,111.7 205.5,111.7 204.5,111.7 203.5,111.7 202.5,111.7 201.5,111.7 200.5,111.7 199.5,111.7 198.5,111.7 197.5,111.7 196.5,111.7 195.5,111.7 194.5,111.7 193.5,111.7 192.5,111.7 191.5,111.7 190.5,111.7 189.5,111.7 188.5,111.7 187.5,111.7 186.5,111.7 185.5,111.7 184.5,111.7 183.5,111.7 182.5,111.7 181.5,111.7 180.5,111.7 179.5,111.7 178.5,111.7 177.5,111.7 176.5,111.7 175.5,111.7 174.5,111.7 173.5,111.7 172.5,111.7 171.5,111.7 170.5,111.7 169.5,111.7 168.5,111.7 167.5,111.7 166.5,111.7 165.5,111.7 164.5,111.7 163.5,111.7 162.5,111.7 161.5,111.7 160.5,111.7 159.5,111.7 158.5,111.7 157.5,111.7 156.5,111.7 155.5,111.7 154.5,111.7 153.5,111.7 152.5,111.7 151.5,111.7 150.5,111.7 149.5,111.7 148.5,111.7 147.5,111.7 146.5,111.7 145.5,111.7 144.5,111.7 143.5,111.7 142.5,111.7 141.5,111.7 140.5,111.7 139.5,111.7 138.5,111.7 137.5,111.7 136.5,111.7 135.5,111.7" fill="#c4e6fe" />
<polygon points="135.5,88.0 136.5,88.5 137.5,88.9 138.5,89.4 139.5,89.9 140.5,90.4 141.5,90.7 142.5,91.0 143.5,91.3 144.5,91.5 145.5,91.8 146.5,92.1 147.5,92.4 148.5,92.6 149.5,92.9 150.5,93.2 151.5,93.4 152.5,93.7 153.5,94.0 154.5,94.2 155.5,94.5 156.5,94.8 157.5,95.0 158.5,95.3 159.5,95.6 160.5,95.9 161.5,96.1 162.5,96.4 163.5,96.7 164.5,97.0 165.5,97.5 166.5,98.0 167.5,98.4 168.5,98.9 169.5,99.3 170.5,99.8 171.5,100.3 172.5,100.7 173.5,101.2 174.5,101.7 175.5,102.1 176.5,102.6 177.5,103.1 178.5,103.5 179.5,104.0 180.5,104.4 181.5,104.9 182.5,105.4 183.5,105.7 184.5,105.9 185.5,106.1 186.5,106.3 187.5,106.5 188.5,106.7 189.5,107.0 190.5,107.2 191.5,107.4 192.5,107.6 193.5,107.8 194.5,108.0 195.5,108.2 196.5,108.4 197.5,108.6 198.5,108.8 199.5,109.0 200.5,109.2 201.5,109.4 202.5,109.7 203.5,109.9 204.5,110.1 205.5,110.3 206.5,110.5 207.5,110.7 208.5,110.8 209.5,110.9 210.5,111.0 211.5,111.1 212.5,111.1 213.5,111.2 214.5,111.3 215.5,111.4 216.5,111.4 217.5,111.5 218.5,111.6 219.5,111.6 220.5,111.7 221.5,111.8 222.5,111.9 223.5,111.9 224.5,112.0 225.5,112.1 226.5,112.2 227.5,112.2 228.5,112.3 229.5,112.4 230.5,112.5 231.5,112.5 232.5,112.6 233.5,112.1 234.5,111.5 235.5,111.0 236.5,110.4 237.5,109.9 238.5,109.4 239.5,108.8 240.5,108.3 241.5,107.8 242.5,107.2 243.5,106.7 244.5,106.1 245.5,105.6 245.5,111.2 244.5,111.7 243.5,112.3 242.5,112.8 241.5,113.3 240.5,113.9 239.5,114.4 238.5,115.0 237.5,115.7 236.5,116.3 235.5,116.9 234.5,117.5 233.5,118.2 232.5,118.8 231.5,118.4 230.5,118.0 229.5,117.7 228.5,117.3 227.5,116.9 226.5,116.5 225.5,116.1 224.5,116.0 223.5,115.9 222.5,115.9 221.5,115.8 220.5,115.7 219.5,115.6 218.5,115.5 217.5,115.5 216.5,115.4 215.5,115.3 214.5,115.2 213.5,115.1 212.5,115.1 211.5,115.0 210.5,114.9 209.5,114.8 208.5,114.7 207.5,114.7 206.5,114.6 205.5,114.5 204.5,114.5 203.5,114.4 202.5,114.3 201.5,114.3 200.5,114.2 199.5,114.1 198.5,114.1 197.5,114.0 196.5,113.9 195.5,113.9 194.5,113.8 193.5,113.7 192.5,113.7 191.5,113.6 190.5,113.5 189.5,113.4 188.5,113.2 187.5,113.1 186.5,112.9 185.5,112.8 184.5,112.6 183.5,112.5 182.5,112.3 181.5,112.2 180.5,112.0 179.5,111.8 178.5,111.7 177.5,111.5 176.5,111.4 175.5,111.2 174.5,111.1 173.5,110.9 172.5,110.7 171.5,110.0 170.5,109.4 169.5,108.8 168.5,108.2 167.5,107.5 166.5,106.9 165.5,106.3 164.5,105.6 163.5,105.0 162.5,104.6 161.5,104.3 160.5,104.1 159.5,103.8 158.5,103.6 157.5,103.3 156.5,103.1 155.5,102.8 154.5,102.6 153.5,102.3 152.5,102.1 151.5,101.8 150.5,101.6 149.5,101.3 148.5,101.1 147.5,100.8 146.5,100.5 145.5,100.2 144.5,100.0 143.5,99.7 142.5,99.4 141.5,99.1 140.5,99.0 139.5,99.0 138.5,99.0 137.5,98.9 136.5,98.9 135.5,98.9" fill="#ffe4dc" />
<polygon points="175.0,134.2 245.5,120.0 245.5,134.2" fill="#000" opacity="0.06"/>
</g>
<line x1="143.50" y1="57.20" x2="143.50" y2="134.20" stroke="#000" stroke-width="1" stroke-dasharray="2,2"/>
<line x1="164.50" y1="57.20" x2="164.50" y2="134.20" stroke="#000" stroke-width="1" stroke-dasharray="2,2"/>
<line x1="184.50" y1="57.20" x2="184.50" y2="134.20" stroke="#000" stroke-width="1" stroke-dasharray="2,2"/>
<line x1="204.50" y1="57.20" x2="204.50" y2="134.20" stroke="#000" stroke-width="1" stroke-dasharray="2,2"/>
<line x1="225.50" y1="57.20" x2="225.50" y2="134.20" stroke="#000" stroke-width="1" stroke-dasharray="2,2"/>
<line x1="135.50" y1="59.50" x2="245.50" y2="59.50" stroke="#000" stroke-width="1" stroke-dasharray="2,2"/>
<line x1="135.50" y1="76.50" x2="245.50" y2="76.50" stroke="#000" stroke-width="1" stroke-dasharray="2,2"/>
<line x1="135.50" y1="94.50" x2="245.50" y2="94.50" stroke="#000" stroke-width="1" stroke-dasharray="2,2"/>
<line x1="135.50" y1="111.50" x2="245.50" y2="111.50" stroke="#000" stroke-width="1" stroke-dasharray="2,2"/>
<line x1="135.50" y1="129.50" x2="245.50" y2="129.50" stroke="#000" stroke-width="1" stroke-dasharray="2,2"/>
<line x1="142.50" y1="72.20" x2="142.50" y2="103.80" stroke="#a01818" stroke-width="1.3" />
<line x1="149.00" y1="77.50" x2="149.00" y2="91.50" stroke="#a01818" stroke-width="1.3" />
<line x1="156.50" y1="87.10" x2="156.50" y2="99.40" stroke="#a01818" stroke-width="1.3" />
<line x1="163.50" y1="95.90" x2="163.50" y2="107.30" stroke="#a01818" stroke-width="1.3" />
<line x1="170.50" y1="101.20" x2="170.50" y2="115.20" stroke="#a01818" stroke-width="1.3" />
<line x1="177.50" y1="103.00" x2="177.50" y2="117.90" stroke="#a01818" stroke-width="1.3" />
<line x1="184.50" y1="107.30" x2="184.50" y2="121.40" stroke="#a01818" stroke-width="1.3" />
<line x1="191.50" y1="107.30" x2="191.50" y2="124.00" stroke="#a01818" stroke-width="1.3" />
<line x1="198.50" y1="108.20" x2="198.50" y2="124.90" stroke="#a01818" stroke-width="1.3" />
<line x1="205.50" y1="109.10" x2="205.50" y2="127.50" stroke="#a01818" stroke-width="1.3" />
<line x1="212.50" y1="110.00" x2="212.50" y2="129.30" stroke="#a01818" stroke-width="1.3" />
<line x1="219.50" y1="110.80" x2="219.50" y2="130.20" stroke="#a01818" stroke-width="1.3" />
<line x1="226.50" y1="110.80" x2="226.50" y2="132.80" stroke="#a01818" stroke-width="1.3" />
<line x1="233.50" y1="111.70" x2="233.50" y2="132.80" stroke="#a01818" stroke-width="1.3" />
<line x1="240.50" y1="106.50" x2="240.50" y2="120.50" stroke="#a01818" stroke-width="1.3" />
<rect x="141.50" y="110.50" width="3.00" height="3.00" fill="#6a5ad0" />
<rect x="147.50" y="110.50" width="3.00" height="3.00" fill="#6a5ad0" />
<rect x="154.50" y="110.50" width="3.00" height="3.00" fill="#6a5ad0" />
<rect x="161.50" y="110.50" width="3.00" height="3.00" fill="#6a5ad0" />
<rect x="168.50" y="110.50" width="3.00" height="3.00" fill="#6a5ad0" />
<rect x="175.50" y="110.50" width="3.00" height="3.00" fill="#6a5ad0" />
<polyline points="135.5,98.9 137.5,98.9 139.5,99.0 141.5,99.1 143.5,99.7 145.5,100.2 147.5,100.8 149.5,101.3 151.5,101.8 153.5,102.3 155.5,102.8 157.5,103.3 159.5,103.8 161.5,104.3 163.5,105.0 165.5,106.3 167.5,107.5 169.5,108.8 171.5,110.0 173.5,110.9 175.5,111.2 177.5,111.5 179.5,111.8 181.5,112.2 183.5,112.5 185.5,112.8 187.5,113.1 189.5,113.4 191.5,113.6 193.5,113.7 195.5,113.9 197.5,114.0 199.5,114.1 201.5,114.3 203.5,114.4 205.5,114.5 207.5,114.7 209.5,114.8 211.5,115.0 213.5,115.1 215.5,115.3 217.5,115.5 219.5,115.6 221.5,115.8 223.5,115.9 225.5,116.1 227.5,116.9 229.5,117.7 231.5,118.4 233.5,118.2 235.5,116.9 237.5,115.7 239.5,114.4 241.5,113.3 243.5,112.3 245.5,111.2 245.5,111.2" fill="none" stroke="#ff1010" stroke-width="2.6" stroke-linejoin="round" stroke-linecap="round" />
<polyline points="135.5,102.0 137.5,102.4 139.5,102.7 141.5,103.2 143.5,103.8 145.5,104.4 147.5,105.1 149.5,105.7 151.5,106.3 153.5,107.0 155.5,107.6 157.5,108.2 159.5,108.9 161.5,109.5 163.5,110.1 165.5,110.4 167.5,110.8 169.5,111.1 171.5,111.5 173.5,111.9 175.5,112.3 177.5,112.7 179.5,113.1 181.5,113.5 183.5,113.8 185.5,114.2 187.5,114.6 189.5,115.0 191.5,115.4 193.5,115.8 195.5,116.2 197.5,116.6 199.5,117.0 201.5,117.3 203.5,117.7 205.5,118.0 207.5,118.2 209.5,118.4 211.5,118.6 213.5,118.6 215.5,117.6 217.5,116.6 219.5,116.2 221.5,116.5 223.5,116.8 225.5,117.1 227.5,118.4 229.5,119.7 231.5,121.0 233.5,122.2 235.5,120.5 237.5,118.7 239.5,117.0 241.5,116.6 243.5,116.2 245.5,115.8 245.5,115.8" fill="none" stroke="#0a14f0" stroke-width="2.6" stroke-linejoin="round" stroke-linecap="round" />
<rect x="135.5" y="57.5" width="110" height="77.0" fill="none" stroke="#111" stroke-width="1"/>
<rect x="135.50" y="143.20" width="110.00" height="76.60" fill="#fff" />
<rect x="170.00" y="143.20" width="61.60" height="76.60" fill="#eaf1fb" />
<rect x="136.00" y="187.00" width="8.00" height="33.00" fill="#009a00" />
<rect x="143.50" y="181.00" width="7.50" height="39.00" fill="#009a00" />
<rect x="150.50" y="179.00" width="7.00" height="41.00" fill="#009a00" />
<rect x="157.00" y="201.00" width="7.50" height="19.00" fill="#009a00" />
<rect x="157.00" y="182.00" width="7.50" height="19.50" fill="#1034d8" />
<rect x="164.00" y="207.00" width="7.00" height="13.00" fill="#009a00" />
<rect x="164.00" y="205.00" width="7.00" height="2.50" fill="#1034d8" />
<rect x="170.50" y="218.00" width="7.00" height="2.00" fill="#009a00" />
<line x1="143.50" y1="143.20" x2="143.50" y2="219.80" stroke="#000" stroke-width="1" stroke-dasharray="2,2"/>
<line x1="164.50" y1="143.20" x2="164.50" y2="219.80" stroke="#000" stroke-width="1" stroke-dasharray="2,2"/>
<line x1="184.50" y1="143.20" x2="184.50" y2="219.80" stroke="#000" stroke-width="1" stroke-dasharray="2,2"/>
<line x1="204.50" y1="143.20" x2="204.50" y2="219.80" stroke="#000" stroke-width="1" stroke-dasharray="2,2"/>
<line x1="225.50" y1="143.20" x2="225.50" y2="219.80" stroke="#000" stroke-width="1" stroke-dasharray="2,2"/>
<line x1="135.50" y1="150.50" x2="245.50" y2="150.50" stroke="#000" stroke-width="1" stroke-dasharray="2,2"/>
<line x1="135.50" y1="168.50" x2="245.50" y2="168.50" stroke="#000" stroke-width="1" stroke-dasharray="2,2"/>
<line x1="135.50" y1="185.50" x2="245.50" y2="185.50" stroke="#000" stroke-width="1" stroke-dasharray="2,2"/>
<line x1="135.50" y1="202.50" x2="245.50" y2="202.50" stroke="#000" stroke-width="1" stroke-dasharray="2,2"/>
<polyline points="135.8,172.0 143.0,167.0 150.0,159.0 157.0,155.0 164.0,153.0 184.0,152.0 190.0,149.0 197.0,148.0 205.0,155.0 212.0,155.0 225.0,149.0 235.0,152.0 245.0,165.0" fill="none" stroke="#e2501c" stroke-width="2.2" stroke-linejoin="round" stroke-linecap="round" />
<line x1="139.50" y1="165.00" x2="139.50" y2="187.00" stroke="#10b010" stroke-width="1.1" />
<circle cx="139.5" cy="173.4" r="3.4" fill="#f4e020" stroke="#a04000" stroke-width="0.8"/>
<line x1="146.50" y1="147.00" x2="146.50" y2="187.00" stroke="#10b010" stroke-width="1.1" />
<circle cx="146.5" cy="173.4" r="3.4" fill="#f0a020" stroke="#a04000" stroke-width="0.8"/>
<line x1="153.50" y1="147.00" x2="153.50" y2="187.00" stroke="#10b010" stroke-width="1.1" />
<circle cx="153.5" cy="173.4" r="3.4" fill="#e02020" stroke="#a04000" stroke-width="0.8"/>
<rect x="144.90" y="145.50" width="3.20" height="3.20" fill="#ff2020" />
<rect x="151.90" y="145.50" width="3.20" height="3.20" fill="#ff2020" />
<line x1="141.00" y1="219.50" x2="145.00" y2="219.50" stroke="#ff2020" stroke-width="1" />
<line x1="148.00" y1="219.50" x2="152.00" y2="219.50" stroke="#ff2020" stroke-width="1" />
<line x1="155.00" y1="219.50" x2="159.00" y2="219.50" stroke="#ff2020" stroke-width="1" />
<line x1="162.00" y1="219.50" x2="166.00" y2="219.50" stroke="#ff2020" stroke-width="1" />
<rect x="135.5" y="143.5" width="110" height="76.0" fill="none" stroke="#111" stroke-width="1"/>
<rect x="135.50" y="229.60" width="110.00" height="76.40" fill="#fff" />
<rect x="170.00" y="229.60" width="61.60" height="76.40" fill="#eaf1fb" />
<polygon points="135.8,260.5 143.0,259.5 150.0,252.0 157.0,248.0 164.0,248.0 171.0,245.0 180.0,249.0 186.0,251.0 192.0,254.0 200.0,254.0 225.0,254.0 235.0,259.0 245.5,265.0 245.5,306.0 135.8,306.0" fill="#ffff00" />
<rect x="164.00" y="248.00" width="6.00" height="58.00" fill="#ffd800" />
<line x1="143.50" y1="229.60" x2="143.50" y2="306.00" stroke="#000" stroke-width="1" stroke-dasharray="2,2"/>
<line x1="164.50" y1="229.60" x2="164.50" y2="306.00" stroke="#000" stroke-width="1" stroke-dasharray="2,2"/>
<line x1="184.50" y1="229.60" x2="184.50" y2="306.00" stroke="#000" stroke-width="1" stroke-dasharray="2,2"/>
<line x1="204.50" y1="229.60" x2="204.50" y2="306.00" stroke="#000" stroke-width="1" stroke-dasharray="2,2"/>
<line x1="225.50" y1="229.60" x2="225.50" y2="306.00" stroke="#000" stroke-width="1" stroke-dasharray="2,2"/>
<line x1="135.50" y1="231.50" x2="245.50" y2="231.50" stroke="#000" stroke-width="1" stroke-dasharray="2,2"/>
<line x1="135.50" y1="254.50" x2="245.50" y2="254.50" stroke="#000" stroke-width="1" stroke-dasharray="2,2"/>
<line x1="135.50" y1="278.50" x2="245.50" y2="278.50" stroke="#000" stroke-width="1" stroke-dasharray="2,2"/>
<line x1="135.50" y1="301.50" x2="245.50" y2="301.50" stroke="#000" stroke-width="1" stroke-dasharray="2,2"/>
<polyline points="135.8,260.5 143.0,259.5 150.0,252.0 157.0,248.0 164.0,248.0 171.0,245.0 180.0,249.0 186.0,251.0 192.0,254.0 200.0,254.0 225.0,254.0 235.0,259.0 245.5,265.0" fill="none" stroke="#111" stroke-width="2.2" stroke-linejoin="round" stroke-linecap="round" />
<rect x="135.5" y="229.5" width="110" height="77.0" fill="none" stroke="#111" stroke-width="1"/>
<rect x="135.50" y="315.70" width="110.00" height="76.30" fill="#fff" />
<rect x="170.00" y="315.70" width="61.60" height="76.30" fill="#eaf1fb" />
<clipPath id="cpLW"><polygon points="135.3,364.9 137.6,366.8 149.0,369.7 167.9,373.4 179.2,375.3 186.8,374.4 196.3,372.5 224.7,372.5 234.2,370.6 245.5,369.7 245.5,392.0 135.3,392.0"/></clipPath><g clip-path="url(#cpLW)">
<rect x="135.30" y="315.70" width="13.00" height="76.30" fill="#12c412" />
<rect x="148.00" y="315.70" width="21.10" height="76.30" fill="#007a12" />
<rect x="168.80" y="315.70" width="28.70" height="76.30" fill="#0a4a8c" />
<rect x="197.20" y="315.70" width="14.50" height="76.30" fill="#007a12" />
<rect x="211.40" y="315.70" width="13.60" height="76.30" fill="#0a4a8c" />
<rect x="224.70" y="315.70" width="14.50" height="76.30" fill="#007a12" />
<rect x="238.90" y="315.70" width="6.90" height="76.30" fill="#12c412" />
</g>
<line x1="143.50" y1="315.70" x2="143.50" y2="392.00" stroke="#000" stroke-width="1" stroke-dasharray="2,2"/>
<line x1="164.50" y1="315.70" x2="164.50" y2="392.00" stroke="#000" stroke-width="1" stroke-dasharray="2,2"/>
<line x1="184.50" y1="315.70" x2="184.50" y2="392.00" stroke="#000" stroke-width="1" stroke-dasharray="2,2"/>
<line x1="204.50" y1="315.70" x2="204.50" y2="392.00" stroke="#000" stroke-width="1" stroke-dasharray="2,2"/>
<line x1="225.50" y1="315.70" x2="225.50" y2="392.00" stroke="#000" stroke-width="1" stroke-dasharray="2,2"/>
<line x1="135.50" y1="334.50" x2="245.50" y2="334.50" stroke="#000" stroke-width="1" stroke-dasharray="2,2"/>
<line x1="135.50" y1="354.50" x2="245.50" y2="354.50" stroke="#000" stroke-width="1" stroke-dasharray="2,2"/>
<line x1="135.50" y1="373.50" x2="245.50" y2="373.50" stroke="#000" stroke-width="1" stroke-dasharray="2,2"/>
<polyline points="135.3,364.9 137.6,366.8 149.0,369.7 167.9,373.4 179.2,375.3 186.8,374.4 196.3,372.5 224.7,372.5 234.2,370.6 245.5,369.7" fill="none" stroke="#0a1a9c" stroke-width="2.2" stroke-linejoin="round" stroke-linecap="round" />
<line x1="142.30" y1="340.50" x2="149.00" y2="340.50" stroke="#ff0000" stroke-width="1" />
<line x1="148.00" y1="348.50" x2="161.00" y2="348.50" stroke="#ff0000" stroke-width="1" />
<line x1="161.00" y1="351.50" x2="169.80" y2="351.50" stroke="#ff0000" stroke-width="1" />
<line x1="169.80" y1="355.50" x2="176.40" y2="355.50" stroke="#ff0000" stroke-width="1" />
<line x1="176.40" y1="358.50" x2="185.00" y2="358.50" stroke="#ff0000" stroke-width="1" />
<line x1="181.00" y1="354.50" x2="188.70" y2="354.50" stroke="#ff0000" stroke-width="1" />
<line x1="190.60" y1="351.50" x2="198.20" y2="351.50" stroke="#ff0000" stroke-width="1" />
<line x1="198.00" y1="350.50" x2="211.40" y2="350.50" stroke="#ff0000" stroke-width="1" />
<line x1="211.40" y1="351.50" x2="224.70" y2="351.50" stroke="#ff0000" stroke-width="1" />
<line x1="225.60" y1="347.50" x2="232.30" y2="347.50" stroke="#ff0000" stroke-width="1" />
<line x1="232.30" y1="342.50" x2="245.50" y2="342.50" stroke="#ff0000" stroke-width="1" />
<circle cx="139" cy="317.5" r="1.8" fill="#ff2020"/>
<rect x="135.5" y="315.5" width="110" height="77.0" fill="none" stroke="#111" stroke-width="1"/>
<rect x="135.50" y="398.30" width="110.00" height="32.00" fill="#fff" />
<rect x="170.00" y="398.30" width="61.60" height="32.00" fill="#eaf1fb" />
<line x1="143.50" y1="398.30" x2="143.50" y2="430.30" stroke="#000" stroke-width="1" stroke-dasharray="2,2"/>
<line x1="164.50" y1="398.30" x2="164.50" y2="430.30" stroke="#000" stroke-width="1" stroke-dasharray="2,2"/>
<line x1="184.50" y1="398.30" x2="184.50" y2="430.30" stroke="#000" stroke-width="1" stroke-dasharray="2,2"/>
<line x1="204.50" y1="398.30" x2="204.50" y2="430.30" stroke="#000" stroke-width="1" stroke-dasharray="2,2"/>
<line x1="225.50" y1="398.30" x2="225.50" y2="430.30" stroke="#000" stroke-width="1" stroke-dasharray="2,2"/>
<line x1="136.04" y1="405.73" x2="142.96" y2="421.27" stroke="#000a96" stroke-width="1.3" />
<polygon points="143.2,421.7 137.8,417.5 143.6,414.8" fill="#000a96" />
<line x1="142.99" y1="405.73" x2="149.91" y2="421.27" stroke="#000a96" stroke-width="1.3" />
<polygon points="150.1,421.7 144.7,417.5 150.6,414.8" fill="#000a96" />
<line x1="149.94" y1="405.73" x2="156.86" y2="421.27" stroke="#000a96" stroke-width="1.3" />
<polygon points="157.1,421.7 151.7,417.5 157.5,414.8" fill="#000a96" />
<line x1="156.89" y1="405.73" x2="163.81" y2="421.27" stroke="#000a96" stroke-width="1.3" />
<polygon points="164.0,421.7 158.6,417.5 164.5,414.8" fill="#000a96" />
<line x1="163.84" y1="405.73" x2="170.76" y2="421.27" stroke="#000a96" stroke-width="1.3" />
<polygon points="171.0,421.7 165.6,417.5 171.4,414.8" fill="#000a96" />
<line x1="170.79" y1="405.73" x2="177.71" y2="421.27" stroke="#000a96" stroke-width="1.3" />
<polygon points="177.9,421.7 172.5,417.5 178.4,414.8" fill="#000a96" />
<line x1="177.74" y1="405.73" x2="184.66" y2="421.27" stroke="#000a96" stroke-width="1.3" />
<polygon points="184.9,421.7 179.5,417.5 185.3,414.8" fill="#000a96" />
<line x1="184.69" y1="405.73" x2="191.61" y2="421.27" stroke="#000a96" stroke-width="1.3" />
<polygon points="191.8,421.7 186.4,417.5 192.3,414.8" fill="#000a96" />
<line x1="191.64" y1="405.73" x2="198.56" y2="421.27" stroke="#000a96" stroke-width="1.3" />
<polygon points="198.8,421.7 193.4,417.5 199.2,414.8" fill="#000a96" />
<line x1="198.59" y1="405.73" x2="205.51" y2="421.27" stroke="#000a96" stroke-width="1.3" />
<polygon points="205.7,421.7 200.3,417.5 206.2,414.8" fill="#000a96" />
<line x1="205.54" y1="405.73" x2="212.46" y2="421.27" stroke="#000a96" stroke-width="1.3" />
<polygon points="212.7,421.7 207.3,417.5 213.1,414.8" fill="#000a96" />
<line x1="212.49" y1="405.73" x2="219.41" y2="421.27" stroke="#000a96" stroke-width="1.3" />
<polygon points="219.6,421.7 214.2,417.5 220.1,414.8" fill="#000a96" />
<line x1="219.44" y1="405.73" x2="226.36" y2="421.27" stroke="#000a96" stroke-width="1.3" />
<polygon points="226.6,421.7 221.2,417.5 227.0,414.8" fill="#000a96" />
<line x1="226.39" y1="405.73" x2="233.31" y2="421.27" stroke="#000a96" stroke-width="1.3" />
<polygon points="233.5,421.7 228.1,417.5 234.0,414.8" fill="#000a96" />
<line x1="233.34" y1="405.73" x2="240.26" y2="421.27" stroke="#000a96" stroke-width="1.3" />
<polygon points="240.5,421.7 235.1,417.5 240.9,414.8" fill="#000a96" />
<line x1="240.29" y1="405.73" x2="247.21" y2="421.27" stroke="#000a96" stroke-width="1.3" />
<polygon points="247.4,421.7 242.0,417.5 247.9,414.8" fill="#000a96" />
<line x1="247.24" y1="405.73" x2="254.16" y2="421.27" stroke="#000a96" stroke-width="1.3" />
<polygon points="254.4,421.7 249.0,417.5 254.8,414.8" fill="#000a96" />
<rect x="135.5" y="398.5" width="110" height="32.0" fill="none" stroke="#111" stroke-width="1"/>
<rect x="135.50" y="436.20" width="110.00" height="78.30" fill="#86cdf9" />
<rect x="170.00" y="436.20" width="61.60" height="78.30" fill="#000" opacity="0.08"/>
<line x1="143.50" y1="436.20" x2="143.50" y2="514.50" stroke="#000" stroke-width="1" stroke-dasharray="2,2"/>
<line x1="164.50" y1="436.20" x2="164.50" y2="514.50" stroke="#000" stroke-width="1" stroke-dasharray="2,2"/>
<line x1="184.50" y1="436.20" x2="184.50" y2="514.50" stroke="#000" stroke-width="1" stroke-dasharray="2,2"/>
<line x1="204.50" y1="436.20" x2="204.50" y2="514.50" stroke="#000" stroke-width="1" stroke-dasharray="2,2"/>
<line x1="225.50" y1="436.20" x2="225.50" y2="514.50" stroke="#000" stroke-width="1" stroke-dasharray="2,2"/>
<line x1="135.50" y1="456.50" x2="245.50" y2="456.50" stroke="#000" stroke-width="1" stroke-dasharray="2,2"/>
<line x1="135.50" y1="475.50" x2="245.50" y2="475.50" stroke="#000" stroke-width="1" stroke-dasharray="2,2"/>
<line x1="135.50" y1="495.50" x2="245.50" y2="495.50" stroke="#000" stroke-width="1" stroke-dasharray="2,2"/>
<circle cx="170" cy="450" r="2.9" fill="#a81c22"/>
<circle cx="177" cy="450" r="2.9" fill="#a81c22"/>
<circle cx="184" cy="450" r="2.9" fill="#a81c22"/>
<circle cx="191" cy="450" r="2.9" fill="#a81c22"/>
<circle cx="198" cy="451" r="2.9" fill="#a81c22"/>
<circle cx="205" cy="450" r="2.9" fill="#a81c22"/>
<circle cx="212" cy="450" r="2.9" fill="#a81c22"/>
<circle cx="219" cy="450" r="2.9" fill="#a81c22"/>
<circle cx="226" cy="450" r="2.9" fill="#a81c22"/>
<circle cx="233" cy="450" r="2.9" fill="#a81c22"/>
<circle cx="240" cy="450" r="2.9" fill="#a81c22"/>
<circle cx="245" cy="450" r="2.9" fill="#a81c22"/>
<circle cx="150" cy="458.5" r="2.9" fill="#a81c22"/>
<circle cx="157" cy="458.5" r="2.9" fill="#a81c22"/>
<circle cx="164" cy="458.5" r="2.9" fill="#a81c22"/>
<circle cx="137" cy="474" r="2.9" fill="#a81c22"/>
<circle cx="143.5" cy="474" r="2.9" fill="#a81c22"/>
<circle cx="143.5" cy="481.0" r="2.9" fill="#444"/>
<circle cx="150" cy="494.8" r="2.9" fill="#777"/>
<circle cx="150" cy="492.0" r="2.9" fill="#444"/>
<circle cx="157" cy="494.8" r="2.9" fill="#888"/>
<circle cx="157" cy="492.0" r="2.9" fill="#555"/>
<circle cx="164" cy="497.6" r="2.9" fill="#fff"/>
<circle cx="164" cy="494.8" r="2.9" fill="#888"/>
<circle cx="164" cy="492.0" r="2.9" fill="#444"/>
<circle cx="170" cy="490.8" r="2.9" fill="#fff"/>
<circle cx="170" cy="488.0" r="2.9" fill="#ddd"/>
<circle cx="177" cy="490.8" r="2.9" fill="#fff"/>
<circle cx="177" cy="488.0" r="2.9" fill="#aaa"/>
<circle cx="184" cy="491.8" r="2.9" fill="#ccc"/>
<circle cx="184" cy="489.0" r="2.9" fill="#000"/>
<circle cx="191" cy="491.8" r="2.9" fill="#ddd"/>
<circle cx="191" cy="489.0" r="2.9" fill="#555"/>
<circle cx="198" cy="490.6" r="2.9" fill="#fff"/>
<circle cx="198" cy="487.8" r="2.9" fill="#ddd"/>
<circle cx="198" cy="485.0" r="2.9" fill="#999"/>
<circle cx="205" cy="492.0" r="2.9" fill="#fff"/>
<circle cx="212" cy="487.6" r="2.9" fill="#fff"/>
<circle cx="212" cy="484.8" r="2.9" fill="#999"/>
<circle cx="212" cy="482.0" r="2.9" fill="#555"/>
<circle cx="219" cy="486.6" r="2.9" fill="#aaa"/>
<circle cx="219" cy="483.8" r="2.9" fill="#555"/>
<circle cx="219" cy="481.0" r="2.9" fill="#000"/>
<circle cx="226" cy="490.6" r="2.9" fill="#999"/>
<circle cx="226" cy="487.8" r="2.9" fill="#555"/>
<circle cx="226" cy="485.0" r="2.9" fill="#000"/>
<circle cx="233" cy="490.8" r="2.9" fill="#555"/>
<circle cx="233" cy="488.0" r="2.9" fill="#000"/>
<circle cx="240" cy="493.0" r="2.9" fill="#888"/>
<circle cx="191" cy="456.0" r="2.9" fill="#000"/>
<circle cx="198" cy="464.0" r="2.9" fill="#000"/>
<circle cx="205" cy="470.8" r="2.9" fill="#444"/>
<circle cx="205" cy="468.0" r="2.9" fill="#000"/>
<circle cx="212" cy="470.0" r="2.9" fill="#000"/>
<circle cx="245" cy="476.0" r="2.9" fill="#000"/>
<circle cx="143.5" cy="501" r="2.9" fill="#666"/>
<circle cx="150" cy="500" r="2.9" fill="#fff"/>
<circle cx="164" cy="499" r="2.9" fill="#fff"/>
<circle cx="184" cy="499" r="2.9" fill="#444"/>
<circle cx="184" cy="505" r="2.9" fill="#777"/>
<circle cx="184" cy="510" r="2.9" fill="#fff"/>
<circle cx="191" cy="500" r="2.9" fill="#fff"/>
<circle cx="219" cy="500" r="2.9" fill="#ddd"/>
<circle cx="226" cy="500" r="2.9" fill="#ccc"/>
<circle cx="233" cy="500" r="2.9" fill="#888"/>
<circle cx="240" cy="500" r="2.9" fill="#ddd"/>
<circle cx="245" cy="500" r="2.9" fill="#ccc"/>
<circle cx="219" cy="509" r="2.9" fill="#fff"/>
<circle cx="226" cy="509" r="2.9" fill="#fff"/>
<circle cx="233" cy="509" r="2.9" fill="#fff"/>
<circle cx="240" cy="509" r="2.9" fill="#fff"/>
<circle cx="137" cy="507" r="2.9" fill="#ccc"/>
<circle cx="143.5" cy="506" r="2.9" fill="#fff"/>
<polyline points="135.5,471.0 143.0,470.0 150.0,465.0 164.0,463.0 178.0,464.0 185.0,467.0 195.0,471.0 210.0,474.0 218.0,476.0 230.0,474.0 245.5,469.0" fill="none" stroke="#f4a010" stroke-width="2.2" stroke-linejoin="round" stroke-linecap="round" />
<rect x="135.5" y="436.5" width="110" height="78.0" fill="none" stroke="#111" stroke-width="1"/>
<rect x="135.50" y="523.60" width="110.00" height="77.40" fill="#86cdf9" />
<rect x="170.00" y="523.60" width="61.60" height="77.40" fill="#000" opacity="0.08"/>
<polygon points="165.4,601.0 167.9,584.2 174.5,571.0 179.4,564.4 184.4,562.8 189.3,555.4 195.0,544.7 199.2,543.8 205.8,541.4 212.4,528.2 215.7,525.2 225.6,524.6 232.1,524.0 245.5,542.0 245.5,601.0" fill="#ffffff" />
<polygon points="191.8,601.0 195.9,546.3 197.5,531.5 202.5,533.1 206.6,538.9 210.7,529.8 215.7,526.2 225.6,524.6 232.1,524.8 238.7,529.8 245.5,543.0 245.5,601.0" fill="#a0a0a0" />
<polygon points="135.5,601.0 135.5,576.0 143.2,563.6 149.8,576.0 158.0,584.2 164.6,587.5 165.4,601.0" fill="#565656" />
<polygon points="167.9,601.0 168.7,589.1 177.8,592.4 182.7,569.4 191.0,571.0 192.6,574.3 205.0,595.7 217.3,544.7 225.6,535.6 232.1,538.1 245.5,564.4 245.5,601.0" fill="#565656" />
<polygon points="139.9,601.0 149.8,590.8 161.3,601.0" fill="#2e2e2e" />
<polyline points="232.1,524.3 245.5,542.5" fill="none" stroke="#ffffff" stroke-width="1" stroke-linejoin="round" stroke-linecap="round" />
<polyline points="136.0,585.0 150.0,598.0 160.0,601.0" fill="none" stroke="#9a9a9a" stroke-width="0.8" stroke-linejoin="round" stroke-linecap="round" />
<line x1="143.50" y1="523.60" x2="143.50" y2="601.00" stroke="#000" stroke-width="1" stroke-dasharray="2,2"/>
<line x1="164.50" y1="523.60" x2="164.50" y2="601.00" stroke="#000" stroke-width="1" stroke-dasharray="2,2"/>
<line x1="184.50" y1="523.60" x2="184.50" y2="601.00" stroke="#000" stroke-width="1" stroke-dasharray="2,2"/>
<line x1="204.50" y1="523.60" x2="204.50" y2="601.00" stroke="#000" stroke-width="1" stroke-dasharray="2,2"/>
<line x1="225.50" y1="523.60" x2="225.50" y2="601.00" stroke="#000" stroke-width="1" stroke-dasharray="2,2"/>
<line x1="135.50" y1="543.50" x2="245.50" y2="543.50" stroke="#000" stroke-width="1" stroke-dasharray="2,2"/>
<line x1="135.50" y1="562.50" x2="245.50" y2="562.50" stroke="#000" stroke-width="1" stroke-dasharray="2,2"/>
<line x1="135.50" y1="582.50" x2="245.50" y2="582.50" stroke="#000" stroke-width="1" stroke-dasharray="2,2"/>
<rect x="217.00" y="590.00" width="3.00" height="11.00" fill="#f8b400" />
<rect x="223.70" y="590.00" width="3.00" height="11.00" fill="#f8b400" />
<rect x="230.50" y="590.00" width="3.00" height="11.00" fill="#f8b400" />
<rect x="237.50" y="590.00" width="3.00" height="11.00" fill="#f8b400" />
<rect x="135.5" y="523.5" width="110" height="78.0" fill="none" stroke="#111" stroke-width="1"/>
<text x="128.50" y="63.40" fill="#000" font-size="10.5" text-anchor="end" stroke="#000" stroke-width="0.2">30</text>
<text x="266.00" y="63.40" fill="#000" font-size="10.5" text-anchor="end" stroke="#000" stroke-width="0.2">30</text>
<text x="128.50" y="80.90" fill="#000" font-size="10.5" text-anchor="end" stroke="#000" stroke-width="0.2">20</text>
<text x="266.00" y="80.90" fill="#000" font-size="10.5" text-anchor="end" stroke="#000" stroke-width="0.2">20</text>
<text x="128.50" y="98.40" fill="#000" font-size="10.5" text-anchor="end" stroke="#000" stroke-width="0.2">10</text>
<text x="266.00" y="98.40" fill="#000" font-size="10.5" text-anchor="end" stroke="#000" stroke-width="0.2">10</text>
<text x="128.50" y="115.70" fill="#000" font-size="10.5" text-anchor="end" stroke="#000" stroke-width="0.2">0</text>
<text x="266.00" y="115.70" fill="#000" font-size="10.5" text-anchor="end" stroke="#000" stroke-width="0.2">0</text>
<text x="128.50" y="133.40" fill="#000" font-size="10.5" text-anchor="end" stroke="#000" stroke-width="0.2">-10</text>
<text x="266.00" y="133.40" fill="#000" font-size="10.5" text-anchor="end" stroke="#000" stroke-width="0.2">-10</text>
<text x="128.50" y="154.40" fill="#000" font-size="10.5" text-anchor="end" stroke="#000" stroke-width="0.2">2.0</text>
<text x="251.50" y="154.40" fill="#e2501c" font-size="10.5" text-anchor="start" stroke="#e2501c" stroke-width="0.2">96</text>
<text x="128.50" y="172.20" fill="#000" font-size="10.5" text-anchor="end" stroke="#000" stroke-width="0.2">1.5</text>
<text x="251.50" y="172.20" fill="#e2501c" font-size="10.5" text-anchor="start" stroke="#e2501c" stroke-width="0.2">84</text>
<text x="128.50" y="189.00" fill="#000" font-size="10.5" text-anchor="end" stroke="#000" stroke-width="0.2">1.0</text>
<text x="251.50" y="189.00" fill="#e2501c" font-size="10.5" text-anchor="start" stroke="#e2501c" stroke-width="0.2">73</text>
<text x="128.50" y="206.70" fill="#000" font-size="10.5" text-anchor="end" stroke="#000" stroke-width="0.2">0.5</text>
<text x="251.50" y="206.70" fill="#e2501c" font-size="10.5" text-anchor="start" stroke="#e2501c" stroke-width="0.2">61</text>
<text x="128.50" y="223.60" fill="#000" font-size="10.5" text-anchor="end" stroke="#000" stroke-width="0.2">0.0</text>
<text x="251.50" y="223.60" fill="#e2501c" font-size="10.5" text-anchor="start" stroke="#e2501c" stroke-width="0.2">50</text>
<text x="128.50" y="235.10" fill="#000" font-size="10.5" text-anchor="end" stroke="#000" stroke-width="0.2">1018</text>
<text x="251.50" y="235.10" fill="#000" font-size="10.5" text-anchor="start" stroke="#000" stroke-width="0.2">1018</text>
<text x="128.50" y="258.10" fill="#000" font-size="10.5" text-anchor="end" stroke="#000" stroke-width="0.2">1016</text>
<text x="251.50" y="258.10" fill="#000" font-size="10.5" text-anchor="start" stroke="#000" stroke-width="0.2">1016</text>
<text x="128.50" y="282.00" fill="#000" font-size="10.5" text-anchor="end" stroke="#000" stroke-width="0.2">1014</text>
<text x="251.50" y="282.00" fill="#000" font-size="10.5" text-anchor="start" stroke="#000" stroke-width="0.2">1014</text>
<text x="128.50" y="305.10" fill="#000" font-size="10.5" text-anchor="end" stroke="#000" stroke-width="0.2">1012</text>
<text x="251.50" y="305.10" fill="#000" font-size="10.5" text-anchor="start" stroke="#000" stroke-width="0.2">1012</text>
<text x="128.50" y="319.50" fill="#000" font-size="10.5" text-anchor="end" stroke="#000" stroke-width="0.2">20</text>
<text x="251.50" y="319.50" fill="#000" font-size="10.5" text-anchor="start" stroke="#000" stroke-width="0.2">72</text>
<text x="128.50" y="338.40" fill="#000" font-size="10.5" text-anchor="end" stroke="#000" stroke-width="0.2">15</text>
<text x="251.50" y="338.40" fill="#000" font-size="10.5" text-anchor="start" stroke="#000" stroke-width="0.2">54</text>
<text x="128.50" y="358.30" fill="#000" font-size="10.5" text-anchor="end" stroke="#000" stroke-width="0.2">10</text>
<text x="251.50" y="358.30" fill="#000" font-size="10.5" text-anchor="start" stroke="#000" stroke-width="0.2">36</text>
<text x="128.50" y="377.20" fill="#000" font-size="10.5" text-anchor="end" stroke="#000" stroke-width="0.2">5</text>
<text x="251.50" y="377.20" fill="#000" font-size="10.5" text-anchor="start" stroke="#000" stroke-width="0.2">18</text>
<text x="128.50" y="395.80" fill="#000" font-size="10.5" text-anchor="end" stroke="#000" stroke-width="0.2">0</text>
<text x="251.50" y="395.80" fill="#000" font-size="10.5" text-anchor="start" stroke="#000" stroke-width="0.2">0</text>
<text x="128.50" y="440.00" fill="#000" font-size="10.5" text-anchor="end" stroke="#000" stroke-width="0.2">15.0</text>
<text x="251.50" y="440.00" fill="#f08a00" font-size="10.5" text-anchor="start" stroke="#f08a00" stroke-width="0.2">100</text>
<text x="128.50" y="459.80" fill="#000" font-size="10.5" text-anchor="end" stroke="#000" stroke-width="0.2">7.0</text>
<text x="251.50" y="459.80" fill="#f08a00" font-size="10.5" text-anchor="start" stroke="#f08a00" stroke-width="0.2">20</text>
<text x="128.50" y="478.80" fill="#000" font-size="10.5" text-anchor="end" stroke="#000" stroke-width="0.2">2.0</text>
<text x="251.50" y="478.80" fill="#f08a00" font-size="10.5" text-anchor="start" stroke="#f08a00" stroke-width="0.2">5</text>
<text x="128.50" y="499.30" fill="#000" font-size="10.5" text-anchor="end" stroke="#000" stroke-width="0.2">0.5</text>
<text x="251.50" y="499.30" fill="#f08a00" font-size="10.5" text-anchor="start" stroke="#f08a00" stroke-width="0.2">1</text>
<text x="128.50" y="518.30" fill="#000" font-size="10.5" text-anchor="end" stroke="#000" stroke-width="0.2">0.0</text>
<text x="251.50" y="518.30" fill="#f08a00" font-size="10.5" text-anchor="start" stroke="#f08a00" stroke-width="0.2">0</text>
<text x="128.50" y="527.40" fill="#000" font-size="10.5" text-anchor="end" stroke="#000" stroke-width="0.2">8</text>
<text x="251.50" y="527.40" fill="#f08a00" font-size="10.5" text-anchor="start" stroke="#f08a00" stroke-width="0.2">1</text>
<text x="128.50" y="547.10" fill="#000" font-size="10.5" text-anchor="end" stroke="#000" stroke-width="0.2">6</text>
<text x="251.50" y="547.10" fill="#f08a00" font-size="10.5" text-anchor="start" stroke="#f08a00" stroke-width="0.2">0.75</text>
<text x="128.50" y="566.20" fill="#000" font-size="10.5" text-anchor="end" stroke="#000" stroke-width="0.2">4</text>
<text x="251.50" y="566.20" fill="#f08a00" font-size="10.5" text-anchor="start" stroke="#f08a00" stroke-width="0.2">0.5</text>
<text x="128.50" y="586.00" fill="#000" font-size="10.5" text-anchor="end" stroke="#000" stroke-width="0.2">2</text>
<text x="251.50" y="586.00" fill="#f08a00" font-size="10.5" text-anchor="start" stroke="#f08a00" stroke-width="0.2">0.25</text>
<text x="128.50" y="604.80" fill="#000" font-size="10.5" text-anchor="end" stroke="#000" stroke-width="0.2">0</text>
<text x="251.50" y="604.80" fill="#f08a00" font-size="10.5" text-anchor="start" stroke="#f08a00" stroke-width="0.2">0</text>
<text x="164.00" y="51.60" fill="#000" font-size="12.4" text-anchor="middle" >20</text>
<text x="204.50" y="51.60" fill="#000" font-size="12.4" text-anchor="middle" >02</text>
<text x="245.00" y="51.60" fill="#000" font-size="12.4" text-anchor="middle" >08</text>
<text x="164.00" y="614.00" fill="#000" font-size="12.4" text-anchor="middle" >18</text>
<text x="204.50" y="614.00" fill="#000" font-size="12.4" text-anchor="middle" >00</text>
<text x="245.00" y="614.00" fill="#000" font-size="12.4" text-anchor="middle" >06</text>
<rect x="11.00" y="505.40" width="44.00" height="11.10" fill="#86cbf8" />
<rect x="10.20" y="551.20" width="40.80" height="11.50" fill="#86cbf8" />
<text x="5.80" y="18.20" fill="#000" font-size="11" text-anchor="start" textLength="58.8" lengthAdjust="spacingAndGlyphs" stroke="#000" stroke-width="0.25">Czas lokalny</text>
<text x="5.80" y="29.20" fill="#000" font-size="11" text-anchor="start" textLength="54" lengthAdjust="spacingAndGlyphs" stroke="#000" stroke-width="0.25">(CET/CEST)</text>
<text x="6.20" y="45.80" fill="#b42020" font-size="11" text-anchor="start" textLength="93" lengthAdjust="spacingAndGlyphs" stroke="#b42020" stroke-width="0.25">Temperatura gruntu</text>
<text x="27.70" y="55.70" fill="#b42020" font-size="11" text-anchor="start" textLength="38.5" lengthAdjust="spacingAndGlyphs" stroke="#b42020" stroke-width="0.25">max/min</text>
<text x="5.40" y="67.70" fill="#000" font-size="11" text-anchor="start" textLength="62.3" lengthAdjust="spacingAndGlyphs" stroke="#000" stroke-width="0.25">Temperatura:</text>
<text x="12.60" y="80.00" fill="#ff0000" font-size="11" text-anchor="start" textLength="77.4" lengthAdjust="spacingAndGlyphs" stroke="#ff0000" stroke-width="0.25">punkt środkowy</text>
<text x="27.70" y="89.20" fill="#ffcfc0" font-size="11" text-anchor="start" textLength="38.5" lengthAdjust="spacingAndGlyphs" stroke="#ffcfc0" stroke-width="0.25">max/min</text>
<text x="9.50" y="101.50" fill="#0000ff" font-size="11" text-anchor="start" textLength="57.7" lengthAdjust="spacingAndGlyphs" stroke="#0000ff" stroke-width="0.25">odczuwana</text>
<text x="27.70" y="111.50" fill="#a8dcff" font-size="11" text-anchor="start" textLength="38.5" lengthAdjust="spacingAndGlyphs" stroke="#a8dcff" stroke-width="0.25">max/min</text>
<text x="6.20" y="123.00" fill="#6464d2" font-size="11" text-anchor="start" textLength="86.8" lengthAdjust="spacingAndGlyphs" stroke="#6464d2" stroke-width="0.25">Temp. punktu rosy</text>
<text x="5.80" y="140.40" fill="#ff0000" font-size="11" text-anchor="start" textLength="94.5" lengthAdjust="spacingAndGlyphs" stroke="#ff0000" stroke-width="0.25">Opad powyżej skali</text>
<text x="5.80" y="154.20" fill="#e2501c" font-size="11" text-anchor="start" textLength="97" lengthAdjust="spacingAndGlyphs" stroke="#e2501c" stroke-width="0.25">Wilgotność względna</text>
<text x="5.80" y="168.40" fill="#000" font-size="11" text-anchor="start" textLength="85" lengthAdjust="spacingAndGlyphs" stroke="#000" stroke-width="0.25">Wystąpienie burzy</text>
<text x="5.80" y="182.20" fill="#00a000" font-size="11" text-anchor="start" textLength="63.2" lengthAdjust="spacingAndGlyphs" stroke="#00a000" stroke-width="0.25">Deszcz: max</text>
<text x="49.00" y="193.00" fill="#00a000" font-size="11" text-anchor="start" textLength="29" lengthAdjust="spacingAndGlyphs" stroke="#00a000" stroke-width="0.25">średni</text>
<text x="5.80" y="205.40" fill="#2244dd" font-size="11" text-anchor="start" textLength="29.9" lengthAdjust="spacingAndGlyphs" stroke="#2244dd" stroke-width="0.25">Śnieg:</text>
<text x="49.00" y="205.40" fill="#2244dd" font-size="11" text-anchor="start" textLength="18.7" lengthAdjust="spacingAndGlyphs" stroke="#2244dd" stroke-width="0.25">max</text>
<text x="49.00" y="215.00" fill="#2244dd" font-size="11" text-anchor="start" textLength="29" lengthAdjust="spacingAndGlyphs" stroke="#2244dd" stroke-width="0.25">średni</text>
<text x="5.80" y="227.70" fill="#ff0000" font-size="11" text-anchor="start" textLength="88" lengthAdjust="spacingAndGlyphs" stroke="#ff0000" stroke-width="0.25">Wystąpienie opadu</text>
<text x="5.80" y="240.00" fill="#ff0000" font-size="11" text-anchor="start" textLength="71" lengthAdjust="spacingAndGlyphs" stroke="#ff0000" stroke-width="0.25">konwekcyjnego</text>
<text x="4.90" y="267.20" fill="#000" font-size="11" text-anchor="start" textLength="42" lengthAdjust="spacingAndGlyphs" stroke="#000" stroke-width="0.25">Ciśnienie</text>
<text x="4.90" y="280.20" fill="#000" font-size="11" text-anchor="start" textLength="66" lengthAdjust="spacingAndGlyphs" stroke="#000" stroke-width="0.25">zredukowane</text>
<text x="4.90" y="293.30" fill="#000" font-size="11" text-anchor="start" textLength="87" lengthAdjust="spacingAndGlyphs" stroke="#000" stroke-width="0.25">do poziomu morza</text>
<text x="5.40" y="321.50" fill="#000" font-size="11" text-anchor="start" textLength="66" lengthAdjust="spacingAndGlyphs" stroke="#000" stroke-width="0.25">Wiatr na 10m:</text>
<text x="9.50" y="338.20" fill="#ff0000" font-size="11" text-anchor="start" textLength="101" lengthAdjust="spacingAndGlyphs" stroke="#ff0000" stroke-width="0.25">poryw powyżej skali</text>
<text x="9.50" y="351.50" fill="#ff0000" font-size="11" text-anchor="start" textLength="95" lengthAdjust="spacingAndGlyphs" stroke="#ff0000" stroke-width="0.25">max porywy wiatru</text>
<text x="9.50" y="371.50" fill="#1a1aa0" font-size="11" text-anchor="start" textLength="79" lengthAdjust="spacingAndGlyphs" stroke="#1a1aa0" stroke-width="0.25">prędkość wiatru</text>
<text x="9.50" y="384.60" fill="#1a1aa0" font-size="11" text-anchor="start" textLength="88.5" lengthAdjust="spacingAndGlyphs" stroke="#1a1aa0" stroke-width="0.25">w środku obszaru</text>
<text x="9.50" y="412.30" fill="#1a1aa0" font-size="11" text-anchor="start" textLength="73.5" lengthAdjust="spacingAndGlyphs" stroke="#1a1aa0" stroke-width="0.25">kierunek wiatru</text>
<text x="5.80" y="432.30" fill="#b42020" font-size="11" text-anchor="start" textLength="91" lengthAdjust="spacingAndGlyphs" stroke="#b42020" stroke-width="0.25">Wierzchołek chmur</text>
<text x="5.80" y="447.20" fill="#000" font-size="11" text-anchor="start" textLength="85" lengthAdjust="spacingAndGlyphs" stroke="#000" stroke-width="0.25">Podstawa chmur*</text>
<text x="5.80" y="458.50" fill="#000" font-size="11" text-anchor="start" textLength="47" lengthAdjust="spacingAndGlyphs" stroke="#000" stroke-width="0.25">o pokryciu</text>
<text x="10.50" y="471.50" fill="#000" font-size="11" text-anchor="start" textLength="44" lengthAdjust="spacingAndGlyphs" stroke="#000" stroke-width="0.25">&gt; 7.9 okt.</text>
<text x="10.50" y="482.30" fill="#555" font-size="11" text-anchor="start" textLength="44" lengthAdjust="spacingAndGlyphs" stroke="#555" stroke-width="0.25">&gt; 6.5 okt.</text>
<text x="10.50" y="493.00" fill="#a4a4a4" font-size="11" text-anchor="start" textLength="44" lengthAdjust="spacingAndGlyphs" stroke="#a4a4a4" stroke-width="0.25">&gt; 4.5 okt.</text>
<text x="10.50" y="503.00" fill="#d8d8d8" font-size="11" text-anchor="start" textLength="44" lengthAdjust="spacingAndGlyphs" stroke="#d8d8d8" stroke-width="0.25">&gt; 2.5 okt.</text>
<text x="5.80" y="529.70" fill="#ff8c00" font-size="11" text-anchor="start" textLength="57" lengthAdjust="spacingAndGlyphs" stroke="#ff8c00" stroke-width="0.25">Widzialność</text>
<text x="5.80" y="546.20" fill="#000" font-size="11" text-anchor="start" textLength="38.8" lengthAdjust="spacingAndGlyphs" stroke="#000" stroke-width="0.25">Chmury:</text>
<text x="9.50" y="572.70" fill="#a4a4a4" font-size="11" text-anchor="start" textLength="36" lengthAdjust="spacingAndGlyphs" stroke="#a4a4a4" stroke-width="0.25">średnie</text>
<text x="9.50" y="584.20" fill="#404040" font-size="11" text-anchor="start" textLength="26.7" lengthAdjust="spacingAndGlyphs" stroke="#404040" stroke-width="0.25">niskie</text>
<text x="9.50" y="595.80" fill="#202020" font-size="11" text-anchor="start" textLength="61.5" lengthAdjust="spacingAndGlyphs" stroke="#202020" stroke-width="0.25">bardzo niskie</text>
<text x="5.80" y="608.40" fill="#f0b000" font-size="11" text-anchor="start" textLength="20" lengthAdjust="spacingAndGlyphs" stroke="#f0b000" stroke-width="0.25">Mgła</text>
<text x="5.50" y="625.80" fill="#000" font-size="11" text-anchor="start" textLength="131.5" lengthAdjust="spacingAndGlyphs" stroke="#000" stroke-width="0.25">Czas uniwersalny (UTC)</text>
<text x="11.00" y="514.60" fill="#fff" font-size="11" text-anchor="start" textLength="43" lengthAdjust="spacingAndGlyphs" >&gt; 0.1 okt.</text>
<text x="11.00" y="560.00" fill="#fff" font-size="11" text-anchor="start" textLength="39" lengthAdjust="spacingAndGlyphs" >wysokie</text>
<text x="4.60" y="650.40" fill="#000" font-size="9" text-anchor="start" textLength="103.7" lengthAdjust="spacingAndGlyphs" >* powyżej poziomu morza</text>
<polyline points="68.0,16.5 133.0,16.5 155.0,40.5" fill="none" stroke="#000" stroke-width="1" stroke-linejoin="round" stroke-linecap="round" />
<polyline points="103.0,44.5 120.0,44.5 149.0,83.5" fill="none" stroke="#b42020" stroke-width="1" stroke-linejoin="round" stroke-linecap="round" />
<polyline points="92.0,76.5 115.0,76.5" fill="none" stroke="#ff0000" stroke-width="1" stroke-linejoin="round" stroke-linecap="round" />
<polyline points="130.0,76.5 133.0,77.5 171.0,111.5" fill="none" stroke="#ff0000" stroke-width="1" stroke-linejoin="round" stroke-linecap="round" />
<polyline points="70.0,99.5 130.0,99.5 136.0,103.5" fill="none" stroke="#0000ff" stroke-width="1" stroke-linejoin="round" stroke-linecap="round" />
<polyline points="95.0,120.5 128.0,120.5 143.0,112.5" fill="none" stroke="#6464d2" stroke-width="1" stroke-linejoin="round" stroke-linecap="round" />
<polyline points="103.0,137.5 141.5,137.5 145.6,146.5" fill="none" stroke="#ff0000" stroke-width="1" stroke-linejoin="round" stroke-linecap="round" />
<polyline points="106.0,151.5 111.5,151.5" fill="none" stroke="#e2501c" stroke-width="1" stroke-linejoin="round" stroke-linecap="round" />
<polyline points="129.5,151.5 146.5,160.5" fill="none" stroke="#e2501c" stroke-width="1" stroke-linejoin="round" stroke-linecap="round" />
<polyline points="94.6,166.5 112.0,166.5" fill="none" stroke="#000" stroke-width="1" stroke-linejoin="round" stroke-linecap="round" />
<polyline points="129.0,166.5 132.0,168.5 137.0,172.5" fill="none" stroke="#000" stroke-width="1" stroke-linejoin="round" stroke-linecap="round" />
<polyline points="71.0,179.5 140.0,179.5" fill="none" stroke="#00a000" stroke-width="1" stroke-linejoin="round" stroke-linecap="round" />
<polyline points="80.0,190.5 140.0,190.5" fill="none" stroke="#00a000" stroke-width="1" stroke-linejoin="round" stroke-linecap="round" />
<polyline points="70.0,202.5 111.5,202.5" fill="none" stroke="#2244dd" stroke-width="1" stroke-linejoin="round" stroke-linecap="round" />
<polyline points="129.0,202.5 160.5,171.5" fill="none" stroke="#2244dd" stroke-width="1" stroke-linejoin="round" stroke-linecap="round" />
<polyline points="80.8,213.5 131.5,213.5 157.2,188.5" fill="none" stroke="#2244dd" stroke-width="1" stroke-linejoin="round" stroke-linecap="round" />
<polyline points="97.0,225.5 144.0,224.5 147.3,219.5" fill="none" stroke="#ff0000" stroke-width="1" stroke-linejoin="round" stroke-linecap="round" />
<polyline points="51.5,264.5 132.0,264.5 136.0,261.5" fill="none" stroke="#000" stroke-width="1" stroke-linejoin="round" stroke-linecap="round" />
<polyline points="112.0,336.5 116.0,336.5" fill="none" stroke="#ff0000" stroke-width="1" stroke-linejoin="round" stroke-linecap="round" />
<polyline points="130.0,334.5 138.5,317.5" fill="none" stroke="#ff0000" stroke-width="1" stroke-linejoin="round" stroke-linecap="round" />
<polyline points="107.0,348.5 131.5,348.5 143.3,340.5" fill="none" stroke="#ff0000" stroke-width="1" stroke-linejoin="round" stroke-linecap="round" />
<polyline points="92.0,367.5 136.0,367.5" fill="none" stroke="#1a1aa0" stroke-width="1" stroke-linejoin="round" stroke-linecap="round" />
<polyline points="86.0,410.5 140.0,410.5" fill="none" stroke="#1a1aa0" stroke-width="1" stroke-linejoin="round" stroke-linecap="round" />
<polyline points="100.0,430.5 135.0,430.5 184.4,446.5" fill="none" stroke="#b42020" stroke-width="1" stroke-linejoin="round" stroke-linecap="round" />
<polyline points="57.0,468.5 132.0,468.5 191.0,456.5" fill="none" stroke="#000" stroke-width="1" stroke-linejoin="round" stroke-linecap="round" />
<polyline points="57.0,480.5 135.0,480.5 143.0,481.5" fill="none" stroke="#555" stroke-width="1" stroke-linejoin="round" stroke-linecap="round" />
<polyline points="57.0,490.5 132.0,490.5 142.0,500.5" fill="none" stroke="#a4a4a4" stroke-width="1" stroke-linejoin="round" stroke-linecap="round" />
<polyline points="57.0,500.5 132.0,500.5 137.0,506.5" fill="none" stroke="#d8d8d8" stroke-width="1" stroke-linejoin="round" stroke-linecap="round" />
<polyline points="57.0,509.5 137.0,509.5" fill="none" stroke="#86cbf8" stroke-width="1" stroke-linejoin="round" stroke-linecap="round" />
<polyline points="57.0,511.5 137.0,511.5" fill="none" stroke="#86cbf8" stroke-width="1" stroke-linejoin="round" stroke-linecap="round" />
<polyline points="67.7,527.5 129.0,527.5 173.7,465.5" fill="none" stroke="#ff8c00" stroke-width="1" stroke-linejoin="round" stroke-linecap="round" />
<polyline points="53.0,556.5 140.0,556.5" fill="none" stroke="#86cbf8" stroke-width="1" stroke-linejoin="round" stroke-linecap="round" />
<polyline points="53.0,558.5 140.0,558.5" fill="none" stroke="#86cbf8" stroke-width="1" stroke-linejoin="round" stroke-linecap="round" />
<polyline points="47.0,571.5 140.0,571.5" fill="none" stroke="#a4a4a4" stroke-width="1" stroke-linejoin="round" stroke-linecap="round" />
<polyline points="38.0,582.5 120.0,582.5" fill="none" stroke="#404040" stroke-width="1" stroke-linejoin="round" stroke-linecap="round" />
<polyline points="128.0,582.5 140.0,582.5" fill="none" stroke="#404040" stroke-width="1" stroke-linejoin="round" stroke-linecap="round" />
<polyline points="73.0,594.5 140.0,594.5" fill="none" stroke="#202020" stroke-width="1" stroke-linejoin="round" stroke-linecap="round" />
<polyline points="30.8,605.5 215.4,605.5 218.0,600.5" fill="none" stroke="#f0b000" stroke-width="1" stroke-linejoin="round" stroke-linecap="round" />
<polyline points="138.5,623.5 147.0,623.5 157.0,610.5" fill="none" stroke="#000" stroke-width="1" stroke-linejoin="round" stroke-linecap="round" />
</svg></body></html>
